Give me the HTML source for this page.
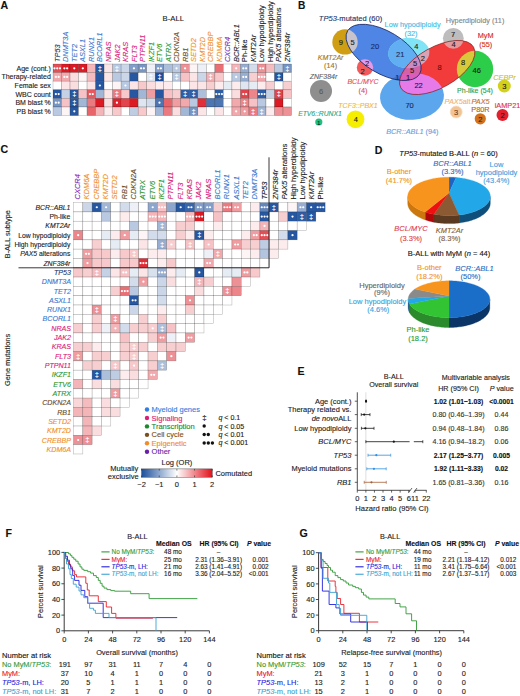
<!DOCTYPE html>
<html><head><meta charset="utf-8"><style>
html,body{margin:0;padding:0;background:#fff;}
svg{display:block;font-family:"Liberation Sans", sans-serif;}
</style></head><body>
<svg width="520" height="696" viewBox="0 0 520 696">
<rect x="0" y="0" width="520" height="696" fill="#fff"/>
<text x="0.60" y="8.60" font-size="10.6" fill="#111" text-anchor="start" font-weight="bold" stroke="#111" stroke-width="0.12">A</text>
<text x="173.30" y="21.30" font-size="7.7" fill="#222" text-anchor="middle" stroke="#222" stroke-width="0.12">B-ALL</text>
<rect x="53.00" y="64.00" width="8.52" height="8.60" fill="#e44f56" stroke="#000" stroke-opacity="0.32" stroke-width="0.5"/>
<circle cx="54.46" cy="68.30" r="1.12" fill="#fff"/>
<circle cx="57.26" cy="68.30" r="1.12" fill="#fff"/>
<circle cx="60.06" cy="68.30" r="1.12" fill="#fff"/>
<rect x="61.52" y="64.00" width="8.52" height="8.60" fill="#dc1a24" stroke="#000" stroke-opacity="0.32" stroke-width="0.5"/>
<circle cx="64.38" cy="68.30" r="1.12" fill="#fff"/>
<circle cx="67.18" cy="68.30" r="1.12" fill="#fff"/>
<rect x="70.04" y="64.00" width="8.52" height="8.60" fill="#dc1a24" stroke="#000" stroke-opacity="0.32" stroke-width="0.5"/>
<circle cx="74.30" cy="68.30" r="1.12" fill="#fff"/>
<rect x="78.56" y="64.00" width="8.52" height="8.60" fill="#dc1a24" stroke="#000" stroke-opacity="0.32" stroke-width="0.5"/>
<circle cx="82.82" cy="68.30" r="1.12" fill="#fff"/>
<rect x="87.08" y="64.00" width="8.52" height="8.60" fill="#f4b5b9" stroke="#000" stroke-opacity="0.32" stroke-width="0.5"/>
<rect x="95.60" y="64.00" width="8.52" height="8.60" fill="#2657a0" stroke="#000" stroke-opacity="0.32" stroke-width="0.5"/>
<text x="99.86" y="70.60" font-size="7.6" fill="#fff" text-anchor="middle" font-weight="bold">&#8225;</text>
<rect x="104.12" y="64.00" width="8.52" height="8.60" fill="#fbe5e6" stroke="#000" stroke-opacity="0.32" stroke-width="0.5"/>
<rect x="112.64" y="64.00" width="8.52" height="8.60" fill="#b9c9e1" stroke="#000" stroke-opacity="0.32" stroke-width="0.5"/>
<text x="116.90" y="70.60" font-size="7.6" fill="#fff" text-anchor="middle" font-weight="bold">&#8225;</text>
<rect x="121.16" y="64.00" width="8.52" height="8.60" fill="#cbd7e8" stroke="#000" stroke-opacity="0.32" stroke-width="0.5"/>
<rect x="129.68" y="64.00" width="8.52" height="8.60" fill="#819dc8" stroke="#000" stroke-opacity="0.32" stroke-width="0.5"/>
<circle cx="133.94" cy="68.30" r="1.12" fill="#fff"/>
<rect x="138.20" y="64.00" width="8.52" height="8.60" fill="#7695c3" stroke="#000" stroke-opacity="0.32" stroke-width="0.5"/>
<circle cx="141.06" cy="68.30" r="1.12" fill="#fff"/>
<circle cx="143.86" cy="68.30" r="1.12" fill="#fff"/>
<rect x="146.72" y="64.00" width="8.52" height="8.60" fill="#edf1f7" stroke="#000" stroke-opacity="0.32" stroke-width="0.5"/>
<rect x="155.24" y="64.00" width="8.52" height="8.60" fill="#819dc8" stroke="#000" stroke-opacity="0.32" stroke-width="0.5"/>
<circle cx="158.10" cy="68.30" r="1.12" fill="#fff"/>
<circle cx="160.90" cy="68.30" r="1.12" fill="#fff"/>
<rect x="163.76" y="64.00" width="8.52" height="8.60" fill="#adc0db" stroke="#000" stroke-opacity="0.32" stroke-width="0.5"/>
<rect x="172.28" y="64.00" width="8.52" height="8.60" fill="#b9c9e1" stroke="#000" stroke-opacity="0.32" stroke-width="0.5"/>
<circle cx="176.54" cy="68.30" r="1.12" fill="#fff"/>
<rect x="180.80" y="64.00" width="8.52" height="8.60" fill="#ee9196" stroke="#000" stroke-opacity="0.32" stroke-width="0.5"/>
<circle cx="185.06" cy="68.30" r="1.12" fill="#fff"/>
<rect x="189.32" y="64.00" width="8.52" height="8.60" fill="#fdf5f5" stroke="#000" stroke-opacity="0.32" stroke-width="0.5"/>
<rect x="197.84" y="64.00" width="8.52" height="8.60" fill="#edf1f7" stroke="#000" stroke-opacity="0.32" stroke-width="0.5"/>
<rect x="206.36" y="64.00" width="8.52" height="8.60" fill="#ffffff" stroke="#000" stroke-opacity="0.32" stroke-width="0.5"/>
<rect x="214.88" y="64.00" width="8.52" height="8.60" fill="#e96f75" stroke="#000" stroke-opacity="0.32" stroke-width="0.5"/>
<rect x="223.40" y="64.00" width="8.52" height="8.60" fill="#ffffff" stroke="#000" stroke-opacity="0.32" stroke-width="0.5"/>
<rect x="231.92" y="64.00" width="8.52" height="8.60" fill="#f4b5b9" stroke="#000" stroke-opacity="0.32" stroke-width="0.5"/>
<circle cx="236.18" cy="68.30" r="1.12" fill="#fff"/>
<rect x="240.44" y="64.00" width="8.52" height="8.60" fill="#97aed2" stroke="#000" stroke-opacity="0.32" stroke-width="0.5"/>
<circle cx="243.30" cy="68.30" r="1.12" fill="#fff"/>
<circle cx="246.10" cy="68.30" r="1.12" fill="#fff"/>
<rect x="248.96" y="64.00" width="8.52" height="8.60" fill="#d2dceb" stroke="#000" stroke-opacity="0.32" stroke-width="0.5"/>
<rect x="257.48" y="64.00" width="8.52" height="8.60" fill="#ee9196" stroke="#000" stroke-opacity="0.32" stroke-width="0.5"/>
<circle cx="260.34" cy="68.30" r="1.12" fill="#fff"/>
<circle cx="263.14" cy="68.30" r="1.12" fill="#fff"/>
<rect x="266.00" y="64.00" width="8.52" height="8.60" fill="#f5bcbf" stroke="#000" stroke-opacity="0.32" stroke-width="0.5"/>
<rect x="274.52" y="64.00" width="8.52" height="8.60" fill="#b9c9e1" stroke="#000" stroke-opacity="0.32" stroke-width="0.5"/>
<rect x="283.04" y="64.00" width="8.52" height="8.60" fill="#7695c3" stroke="#000" stroke-opacity="0.32" stroke-width="0.5"/>
<text x="287.30" y="70.60" font-size="7.6" fill="#fff" text-anchor="middle" font-weight="bold">&#8225;</text>
<text x="50.80" y="70.80" font-size="7.0" fill="#222" text-anchor="end" stroke="#222" stroke-width="0.12">Age (cont.)</text>
<rect x="53.00" y="72.60" width="8.52" height="8.60" fill="#f2a9ad" stroke="#000" stroke-opacity="0.32" stroke-width="0.5"/>
<circle cx="55.86" cy="76.90" r="1.12" fill="#fff"/>
<circle cx="58.66" cy="76.90" r="1.12" fill="#fff"/>
<rect x="61.52" y="72.60" width="8.52" height="8.60" fill="#f2a9ad" stroke="#000" stroke-opacity="0.32" stroke-width="0.5"/>
<circle cx="64.38" cy="76.90" r="1.12" fill="#fff"/>
<circle cx="67.18" cy="76.90" r="1.12" fill="#fff"/>
<rect x="70.04" y="72.60" width="8.52" height="8.60" fill="#fadddf" stroke="#000" stroke-opacity="0.32" stroke-width="0.5"/>
<rect x="78.56" y="72.60" width="8.52" height="8.60" fill="#fdf5f5" stroke="#000" stroke-opacity="0.32" stroke-width="0.5"/>
<rect x="87.08" y="72.60" width="8.52" height="8.60" fill="#f5bcbf" stroke="#000" stroke-opacity="0.32" stroke-width="0.5"/>
<rect x="95.60" y="72.60" width="8.52" height="8.60" fill="#2657a0" stroke="#000" stroke-opacity="0.32" stroke-width="0.5"/>
<rect x="104.12" y="72.60" width="8.52" height="8.60" fill="#fbe5e6" stroke="#000" stroke-opacity="0.32" stroke-width="0.5"/>
<rect x="112.64" y="72.60" width="8.52" height="8.60" fill="#b9c9e1" stroke="#000" stroke-opacity="0.32" stroke-width="0.5"/>
<rect x="121.16" y="72.60" width="8.52" height="8.60" fill="#cbd7e8" stroke="#000" stroke-opacity="0.32" stroke-width="0.5"/>
<rect x="129.68" y="72.60" width="8.52" height="8.60" fill="#2657a0" stroke="#000" stroke-opacity="0.32" stroke-width="0.5"/>
<rect x="138.20" y="72.60" width="8.52" height="8.60" fill="#ffffff" stroke="#000" stroke-opacity="0.32" stroke-width="0.5"/>
<rect x="146.72" y="72.60" width="8.52" height="8.60" fill="#dfe6f1" stroke="#000" stroke-opacity="0.32" stroke-width="0.5"/>
<text x="150.98" y="79.20" font-size="7.6" fill="#fff" text-anchor="middle" font-weight="bold">&#8225;</text>
<rect x="155.24" y="72.60" width="8.52" height="8.60" fill="#1c4f9c" stroke="#000" stroke-opacity="0.32" stroke-width="0.5"/>
<text x="159.50" y="79.20" font-size="7.6" fill="#fff" text-anchor="middle" font-weight="bold">&#8225;</text>
<rect x="163.76" y="72.60" width="8.52" height="8.60" fill="#ffffff" stroke="#000" stroke-opacity="0.32" stroke-width="0.5"/>
<rect x="172.28" y="72.60" width="8.52" height="8.60" fill="#b9c9e1" stroke="#000" stroke-opacity="0.32" stroke-width="0.5"/>
<text x="176.54" y="79.20" font-size="7.6" fill="#fff" text-anchor="middle" font-weight="bold">&#8225;</text>
<rect x="180.80" y="72.60" width="8.52" height="8.60" fill="#f6c2c5" stroke="#000" stroke-opacity="0.32" stroke-width="0.5"/>
<rect x="189.32" y="72.60" width="8.52" height="8.60" fill="#fbe5e6" stroke="#000" stroke-opacity="0.32" stroke-width="0.5"/>
<rect x="197.84" y="72.60" width="8.52" height="8.60" fill="#cbd7e8" stroke="#000" stroke-opacity="0.32" stroke-width="0.5"/>
<rect x="206.36" y="72.60" width="8.52" height="8.60" fill="#f3afb3" stroke="#000" stroke-opacity="0.32" stroke-width="0.5"/>
<text x="210.62" y="79.20" font-size="7.6" fill="#fff" text-anchor="middle" font-weight="bold">&#8225;</text>
<rect x="214.88" y="72.60" width="8.52" height="8.60" fill="#f7c9cb" stroke="#000" stroke-opacity="0.32" stroke-width="0.5"/>
<rect x="223.40" y="72.60" width="8.52" height="8.60" fill="#ffffff" stroke="#000" stroke-opacity="0.32" stroke-width="0.5"/>
<rect x="231.92" y="72.60" width="8.52" height="8.60" fill="#b9c9e1" stroke="#000" stroke-opacity="0.32" stroke-width="0.5"/>
<circle cx="236.18" cy="76.90" r="1.12" fill="#fff"/>
<rect x="240.44" y="72.60" width="8.52" height="8.60" fill="#97aed2" stroke="#000" stroke-opacity="0.32" stroke-width="0.5"/>
<circle cx="243.30" cy="76.90" r="1.12" fill="#fff"/>
<circle cx="246.10" cy="76.90" r="1.12" fill="#fff"/>
<rect x="248.96" y="72.60" width="8.52" height="8.60" fill="#f8cfd1" stroke="#000" stroke-opacity="0.32" stroke-width="0.5"/>
<rect x="257.48" y="72.60" width="8.52" height="8.60" fill="#f2a9ad" stroke="#000" stroke-opacity="0.32" stroke-width="0.5"/>
<circle cx="258.94" cy="76.90" r="1.12" fill="#fff"/>
<circle cx="261.74" cy="76.90" r="1.12" fill="#fff"/>
<circle cx="264.54" cy="76.90" r="1.12" fill="#fff"/>
<rect x="266.00" y="72.60" width="8.52" height="8.60" fill="#ffffff" stroke="#000" stroke-opacity="0.32" stroke-width="0.5"/>
<rect x="274.52" y="72.60" width="8.52" height="8.60" fill="#2657a0" stroke="#000" stroke-opacity="0.32" stroke-width="0.5"/>
<text x="278.78" y="79.20" font-size="7.6" fill="#fff" text-anchor="middle" font-weight="bold">&#8225;</text>
<rect x="283.04" y="72.60" width="8.52" height="8.60" fill="#ffffff" stroke="#000" stroke-opacity="0.32" stroke-width="0.5"/>
<text x="50.80" y="79.40" font-size="7.0" fill="#222" text-anchor="end" stroke="#222" stroke-width="0.12">Therapy-related</text>
<rect x="53.00" y="81.20" width="8.52" height="8.60" fill="#ffffff" stroke="#000" stroke-opacity="0.32" stroke-width="0.5"/>
<rect x="61.52" y="81.20" width="8.52" height="8.60" fill="#fbe5e6" stroke="#000" stroke-opacity="0.32" stroke-width="0.5"/>
<rect x="70.04" y="81.20" width="8.52" height="8.60" fill="#fadddf" stroke="#000" stroke-opacity="0.32" stroke-width="0.5"/>
<rect x="78.56" y="81.20" width="8.52" height="8.60" fill="#ffffff" stroke="#000" stroke-opacity="0.32" stroke-width="0.5"/>
<rect x="87.08" y="81.20" width="8.52" height="8.60" fill="#fbe5e6" stroke="#000" stroke-opacity="0.32" stroke-width="0.5"/>
<rect x="95.60" y="81.20" width="8.52" height="8.60" fill="#2657a0" stroke="#000" stroke-opacity="0.32" stroke-width="0.5"/>
<circle cx="99.86" cy="85.50" r="1.12" fill="#fff"/>
<rect x="104.12" y="81.20" width="8.52" height="8.60" fill="#ffffff" stroke="#000" stroke-opacity="0.32" stroke-width="0.5"/>
<rect x="112.64" y="81.20" width="8.52" height="8.60" fill="#fdf5f5" stroke="#000" stroke-opacity="0.32" stroke-width="0.5"/>
<rect x="121.16" y="81.20" width="8.52" height="8.60" fill="#b9c9e1" stroke="#000" stroke-opacity="0.32" stroke-width="0.5"/>
<circle cx="125.42" cy="85.50" r="1.12" fill="#fff"/>
<rect x="129.68" y="81.20" width="8.52" height="8.60" fill="#fbe5e6" stroke="#000" stroke-opacity="0.32" stroke-width="0.5"/>
<rect x="138.20" y="81.20" width="8.52" height="8.60" fill="#f7c9cb" stroke="#000" stroke-opacity="0.32" stroke-width="0.5"/>
<rect x="146.72" y="81.20" width="8.52" height="8.60" fill="#fadddf" stroke="#000" stroke-opacity="0.32" stroke-width="0.5"/>
<rect x="155.24" y="81.20" width="8.52" height="8.60" fill="#fceced" stroke="#000" stroke-opacity="0.32" stroke-width="0.5"/>
<rect x="163.76" y="81.20" width="8.52" height="8.60" fill="#fceced" stroke="#000" stroke-opacity="0.32" stroke-width="0.5"/>
<rect x="172.28" y="81.20" width="8.52" height="8.60" fill="#ffffff" stroke="#000" stroke-opacity="0.32" stroke-width="0.5"/>
<rect x="180.80" y="81.20" width="8.52" height="8.60" fill="#ffffff" stroke="#000" stroke-opacity="0.32" stroke-width="0.5"/>
<rect x="189.32" y="81.20" width="8.52" height="8.60" fill="#fbe5e6" stroke="#000" stroke-opacity="0.32" stroke-width="0.5"/>
<rect x="197.84" y="81.20" width="8.52" height="8.60" fill="#fbe5e6" stroke="#000" stroke-opacity="0.32" stroke-width="0.5"/>
<rect x="206.36" y="81.20" width="8.52" height="8.60" fill="#f8cfd1" stroke="#000" stroke-opacity="0.32" stroke-width="0.5"/>
<rect x="214.88" y="81.20" width="8.52" height="8.60" fill="#fceced" stroke="#000" stroke-opacity="0.32" stroke-width="0.5"/>
<rect x="223.40" y="81.20" width="8.52" height="8.60" fill="#e6ecf4" stroke="#000" stroke-opacity="0.32" stroke-width="0.5"/>
<rect x="231.92" y="81.20" width="8.52" height="8.60" fill="#fceced" stroke="#000" stroke-opacity="0.32" stroke-width="0.5"/>
<rect x="240.44" y="81.20" width="8.52" height="8.60" fill="#dfe6f1" stroke="#000" stroke-opacity="0.32" stroke-width="0.5"/>
<rect x="248.96" y="81.20" width="8.52" height="8.60" fill="#e6ecf4" stroke="#000" stroke-opacity="0.32" stroke-width="0.5"/>
<rect x="257.48" y="81.20" width="8.52" height="8.60" fill="#fceced" stroke="#000" stroke-opacity="0.32" stroke-width="0.5"/>
<rect x="266.00" y="81.20" width="8.52" height="8.60" fill="#f8cfd1" stroke="#000" stroke-opacity="0.32" stroke-width="0.5"/>
<rect x="274.52" y="81.20" width="8.52" height="8.60" fill="#ffffff" stroke="#000" stroke-opacity="0.32" stroke-width="0.5"/>
<rect x="283.04" y="81.20" width="8.52" height="8.60" fill="#f8cfd1" stroke="#000" stroke-opacity="0.32" stroke-width="0.5"/>
<text x="50.80" y="88.00" font-size="7.0" fill="#222" text-anchor="end" stroke="#222" stroke-width="0.12">Female sex</text>
<rect x="53.00" y="89.80" width="8.52" height="8.60" fill="#2657a0" stroke="#000" stroke-opacity="0.32" stroke-width="0.5"/>
<circle cx="55.86" cy="94.10" r="1.12" fill="#fff"/>
<circle cx="58.66" cy="94.10" r="1.12" fill="#fff"/>
<rect x="61.52" y="89.80" width="8.52" height="8.60" fill="#c5d2e6" stroke="#000" stroke-opacity="0.32" stroke-width="0.5"/>
<rect x="70.04" y="89.80" width="8.52" height="8.60" fill="#2657a0" stroke="#000" stroke-opacity="0.32" stroke-width="0.5"/>
<text x="74.30" y="96.40" font-size="7.6" fill="#fff" text-anchor="middle" font-weight="bold">&#8225;</text>
<rect x="78.56" y="89.80" width="8.52" height="8.60" fill="#f6c2c5" stroke="#000" stroke-opacity="0.32" stroke-width="0.5"/>
<rect x="87.08" y="89.80" width="8.52" height="8.60" fill="#e55960" stroke="#000" stroke-opacity="0.32" stroke-width="0.5"/>
<circle cx="89.94" cy="94.10" r="1.12" fill="#fff"/>
<circle cx="92.74" cy="94.10" r="1.12" fill="#fff"/>
<rect x="95.60" y="89.80" width="8.52" height="8.60" fill="#a2b7d6" stroke="#000" stroke-opacity="0.32" stroke-width="0.5"/>
<rect x="104.12" y="89.80" width="8.52" height="8.60" fill="#fbe5e6" stroke="#000" stroke-opacity="0.32" stroke-width="0.5"/>
<rect x="112.64" y="89.80" width="8.52" height="8.60" fill="#ea7a80" stroke="#000" stroke-opacity="0.32" stroke-width="0.5"/>
<text x="116.90" y="96.40" font-size="7.6" fill="#fff" text-anchor="middle" font-weight="bold">&#8225;</text>
<rect x="121.16" y="89.80" width="8.52" height="8.60" fill="#f7c9cb" stroke="#000" stroke-opacity="0.32" stroke-width="0.5"/>
<rect x="129.68" y="89.80" width="8.52" height="8.60" fill="#2657a0" stroke="#000" stroke-opacity="0.32" stroke-width="0.5"/>
<rect x="138.20" y="89.80" width="8.52" height="8.60" fill="#a2b7d6" stroke="#000" stroke-opacity="0.32" stroke-width="0.5"/>
<rect x="146.72" y="89.80" width="8.52" height="8.60" fill="#f09da1" stroke="#000" stroke-opacity="0.32" stroke-width="0.5"/>
<rect x="155.24" y="89.80" width="8.52" height="8.60" fill="#2657a0" stroke="#000" stroke-opacity="0.32" stroke-width="0.5"/>
<rect x="163.76" y="89.80" width="8.52" height="8.60" fill="#f6c2c5" stroke="#000" stroke-opacity="0.32" stroke-width="0.5"/>
<rect x="172.28" y="89.80" width="8.52" height="8.60" fill="#f8cfd1" stroke="#000" stroke-opacity="0.32" stroke-width="0.5"/>
<rect x="180.80" y="89.80" width="8.52" height="8.60" fill="#2f5ea4" stroke="#000" stroke-opacity="0.32" stroke-width="0.5"/>
<text x="185.06" y="96.40" font-size="7.6" fill="#fff" text-anchor="middle" font-weight="bold">&#8225;</text>
<rect x="189.32" y="89.80" width="8.52" height="8.60" fill="#2f5ea4" stroke="#000" stroke-opacity="0.32" stroke-width="0.5"/>
<text x="193.58" y="96.40" font-size="7.6" fill="#fff" text-anchor="middle" font-weight="bold">&#8225;</text>
<rect x="197.84" y="89.80" width="8.52" height="8.60" fill="#adc0db" stroke="#000" stroke-opacity="0.32" stroke-width="0.5"/>
<rect x="206.36" y="89.80" width="8.52" height="8.60" fill="#ffffff" stroke="#000" stroke-opacity="0.32" stroke-width="0.5"/>
<rect x="214.88" y="89.80" width="8.52" height="8.60" fill="#2f5ea4" stroke="#000" stroke-opacity="0.32" stroke-width="0.5"/>
<circle cx="216.34" cy="94.10" r="1.12" fill="#fff"/>
<circle cx="219.14" cy="94.10" r="1.12" fill="#fff"/>
<circle cx="221.94" cy="94.10" r="1.12" fill="#fff"/>
<rect x="223.40" y="89.80" width="8.52" height="8.60" fill="#ffffff" stroke="#000" stroke-opacity="0.32" stroke-width="0.5"/>
<rect x="231.92" y="89.80" width="8.52" height="8.60" fill="#fadddf" stroke="#000" stroke-opacity="0.32" stroke-width="0.5"/>
<rect x="240.44" y="89.80" width="8.52" height="8.60" fill="#e2444c" stroke="#000" stroke-opacity="0.32" stroke-width="0.5"/>
<circle cx="243.30" cy="94.10" r="1.12" fill="#fff"/>
<circle cx="246.10" cy="94.10" r="1.12" fill="#fff"/>
<rect x="248.96" y="89.80" width="8.52" height="8.60" fill="#ec868b" stroke="#000" stroke-opacity="0.32" stroke-width="0.5"/>
<rect x="257.48" y="89.80" width="8.52" height="8.60" fill="#2f5ea4" stroke="#000" stroke-opacity="0.32" stroke-width="0.5"/>
<circle cx="258.94" cy="94.10" r="1.12" fill="#fff"/>
<circle cx="261.74" cy="94.10" r="1.12" fill="#fff"/>
<circle cx="264.54" cy="94.10" r="1.12" fill="#fff"/>
<rect x="266.00" y="89.80" width="8.52" height="8.60" fill="#c5d2e6" stroke="#000" stroke-opacity="0.32" stroke-width="0.5"/>
<rect x="274.52" y="89.80" width="8.52" height="8.60" fill="#e2444c" stroke="#000" stroke-opacity="0.32" stroke-width="0.5"/>
<text x="278.78" y="96.40" font-size="7.6" fill="#fff" text-anchor="middle" font-weight="bold">&#8225;</text>
<rect x="283.04" y="89.80" width="8.52" height="8.60" fill="#f6c2c5" stroke="#000" stroke-opacity="0.32" stroke-width="0.5"/>
<text x="50.80" y="96.60" font-size="7.0" fill="#222" text-anchor="end" stroke="#222" stroke-width="0.12">WBC count</text>
<rect x="53.00" y="98.40" width="8.52" height="8.60" fill="#7695c3" stroke="#000" stroke-opacity="0.32" stroke-width="0.5"/>
<circle cx="55.86" cy="102.70" r="1.12" fill="#fff"/>
<circle cx="58.66" cy="102.70" r="1.12" fill="#fff"/>
<rect x="61.52" y="98.40" width="8.52" height="8.60" fill="#f6c2c5" stroke="#000" stroke-opacity="0.32" stroke-width="0.5"/>
<rect x="70.04" y="98.40" width="8.52" height="8.60" fill="#2657a0" stroke="#000" stroke-opacity="0.32" stroke-width="0.5"/>
<text x="74.30" y="105.00" font-size="7.6" fill="#fff" text-anchor="middle" font-weight="bold">&#8225;</text>
<rect x="78.56" y="98.40" width="8.52" height="8.60" fill="#a2b7d6" stroke="#000" stroke-opacity="0.32" stroke-width="0.5"/>
<rect x="87.08" y="98.40" width="8.52" height="8.60" fill="#ea7a80" stroke="#000" stroke-opacity="0.32" stroke-width="0.5"/>
<rect x="95.60" y="98.40" width="8.52" height="8.60" fill="#dc1a24" stroke="#000" stroke-opacity="0.32" stroke-width="0.5"/>
<rect x="104.12" y="98.40" width="8.52" height="8.60" fill="#fadddf" stroke="#000" stroke-opacity="0.32" stroke-width="0.5"/>
<rect x="112.64" y="98.40" width="8.52" height="8.60" fill="#dd242e" stroke="#000" stroke-opacity="0.32" stroke-width="0.5"/>
<circle cx="116.90" cy="102.70" r="1.12" fill="#fff"/>
<rect x="121.16" y="98.40" width="8.52" height="8.60" fill="#e2444c" stroke="#000" stroke-opacity="0.32" stroke-width="0.5"/>
<rect x="129.68" y="98.40" width="8.52" height="8.60" fill="#dc1a24" stroke="#000" stroke-opacity="0.32" stroke-width="0.5"/>
<rect x="138.20" y="98.40" width="8.52" height="8.60" fill="#dfe6f1" stroke="#000" stroke-opacity="0.32" stroke-width="0.5"/>
<rect x="146.72" y="98.40" width="8.52" height="8.60" fill="#d2dceb" stroke="#000" stroke-opacity="0.32" stroke-width="0.5"/>
<rect x="155.24" y="98.40" width="8.52" height="8.60" fill="#4d75b1" stroke="#000" stroke-opacity="0.32" stroke-width="0.5"/>
<circle cx="159.50" cy="102.70" r="1.12" fill="#fff"/>
<rect x="163.76" y="98.40" width="8.52" height="8.60" fill="#e7646b" stroke="#000" stroke-opacity="0.32" stroke-width="0.5"/>
<rect x="172.28" y="98.40" width="8.52" height="8.60" fill="#f09da1" stroke="#000" stroke-opacity="0.32" stroke-width="0.5"/>
<rect x="180.80" y="98.40" width="8.52" height="8.60" fill="#f2a9ad" stroke="#000" stroke-opacity="0.32" stroke-width="0.5"/>
<rect x="189.32" y="98.40" width="8.52" height="8.60" fill="#b9c9e1" stroke="#000" stroke-opacity="0.32" stroke-width="0.5"/>
<rect x="197.84" y="98.40" width="8.52" height="8.60" fill="#df2f38" stroke="#000" stroke-opacity="0.32" stroke-width="0.5"/>
<rect x="206.36" y="98.40" width="8.52" height="8.60" fill="#4d75b1" stroke="#000" stroke-opacity="0.32" stroke-width="0.5"/>
<rect x="214.88" y="98.40" width="8.52" height="8.60" fill="#4d75b1" stroke="#000" stroke-opacity="0.32" stroke-width="0.5"/>
<rect x="223.40" y="98.40" width="8.52" height="8.60" fill="#ffffff" stroke="#000" stroke-opacity="0.32" stroke-width="0.5"/>
<rect x="231.92" y="98.40" width="8.52" height="8.60" fill="#f2a9ad" stroke="#000" stroke-opacity="0.32" stroke-width="0.5"/>
<rect x="240.44" y="98.40" width="8.52" height="8.60" fill="#ec868b" stroke="#000" stroke-opacity="0.32" stroke-width="0.5"/>
<text x="244.70" y="105.00" font-size="7.6" fill="#fff" text-anchor="middle" font-weight="bold">&#8225;</text>
<rect x="248.96" y="98.40" width="8.52" height="8.60" fill="#f6c2c5" stroke="#000" stroke-opacity="0.32" stroke-width="0.5"/>
<rect x="257.48" y="98.40" width="8.52" height="8.60" fill="#b9c9e1" stroke="#000" stroke-opacity="0.32" stroke-width="0.5"/>
<rect x="266.00" y="98.40" width="8.52" height="8.60" fill="#ffffff" stroke="#000" stroke-opacity="0.32" stroke-width="0.5"/>
<rect x="274.52" y="98.40" width="8.52" height="8.60" fill="#dc1a24" stroke="#000" stroke-opacity="0.32" stroke-width="0.5"/>
<rect x="283.04" y="98.40" width="8.52" height="8.60" fill="#ffffff" stroke="#000" stroke-opacity="0.32" stroke-width="0.5"/>
<text x="50.80" y="105.20" font-size="7.0" fill="#222" text-anchor="end" stroke="#222" stroke-width="0.12">BM blast %</text>
<rect x="53.00" y="107.00" width="8.52" height="8.60" fill="#b9c9e1" stroke="#000" stroke-opacity="0.32" stroke-width="0.5"/>
<rect x="61.52" y="107.00" width="8.52" height="8.60" fill="#fdf5f5" stroke="#000" stroke-opacity="0.32" stroke-width="0.5"/>
<rect x="70.04" y="107.00" width="8.52" height="8.60" fill="#2657a0" stroke="#000" stroke-opacity="0.32" stroke-width="0.5"/>
<circle cx="74.30" cy="111.30" r="1.12" fill="#fff"/>
<rect x="78.56" y="107.00" width="8.52" height="8.60" fill="#ffffff" stroke="#000" stroke-opacity="0.32" stroke-width="0.5"/>
<rect x="87.08" y="107.00" width="8.52" height="8.60" fill="#e7646b" stroke="#000" stroke-opacity="0.32" stroke-width="0.5"/>
<rect x="95.60" y="107.00" width="8.52" height="8.60" fill="#f4b5b9" stroke="#000" stroke-opacity="0.32" stroke-width="0.5"/>
<rect x="104.12" y="107.00" width="8.52" height="8.60" fill="#fceced" stroke="#000" stroke-opacity="0.32" stroke-width="0.5"/>
<rect x="112.64" y="107.00" width="8.52" height="8.60" fill="#f7c9cb" stroke="#000" stroke-opacity="0.32" stroke-width="0.5"/>
<rect x="121.16" y="107.00" width="8.52" height="8.60" fill="#ffffff" stroke="#000" stroke-opacity="0.32" stroke-width="0.5"/>
<rect x="129.68" y="107.00" width="8.52" height="8.60" fill="#bfcde3" stroke="#000" stroke-opacity="0.32" stroke-width="0.5"/>
<rect x="138.20" y="107.00" width="8.52" height="8.60" fill="#f7c9cb" stroke="#000" stroke-opacity="0.32" stroke-width="0.5"/>
<rect x="146.72" y="107.00" width="8.52" height="8.60" fill="#fdf5f5" stroke="#000" stroke-opacity="0.32" stroke-width="0.5"/>
<rect x="155.24" y="107.00" width="8.52" height="8.60" fill="#a2b7d6" stroke="#000" stroke-opacity="0.32" stroke-width="0.5"/>
<rect x="163.76" y="107.00" width="8.52" height="8.60" fill="#ea7a80" stroke="#000" stroke-opacity="0.32" stroke-width="0.5"/>
<rect x="172.28" y="107.00" width="8.52" height="8.60" fill="#fadddf" stroke="#000" stroke-opacity="0.32" stroke-width="0.5"/>
<rect x="180.80" y="107.00" width="8.52" height="8.60" fill="#a2b7d6" stroke="#000" stroke-opacity="0.32" stroke-width="0.5"/>
<rect x="189.32" y="107.00" width="8.52" height="8.60" fill="#7695c3" stroke="#000" stroke-opacity="0.32" stroke-width="0.5"/>
<text x="193.58" y="113.60" font-size="7.6" fill="#fff" text-anchor="middle" font-weight="bold">&#8225;</text>
<rect x="197.84" y="107.00" width="8.52" height="8.60" fill="#fbe5e6" stroke="#000" stroke-opacity="0.32" stroke-width="0.5"/>
<rect x="206.36" y="107.00" width="8.52" height="8.60" fill="#ffffff" stroke="#000" stroke-opacity="0.32" stroke-width="0.5"/>
<rect x="214.88" y="107.00" width="8.52" height="8.60" fill="#fbe5e6" stroke="#000" stroke-opacity="0.32" stroke-width="0.5"/>
<rect x="223.40" y="107.00" width="8.52" height="8.60" fill="#ffffff" stroke="#000" stroke-opacity="0.32" stroke-width="0.5"/>
<rect x="231.92" y="107.00" width="8.52" height="8.60" fill="#f2a9ad" stroke="#000" stroke-opacity="0.32" stroke-width="0.5"/>
<circle cx="236.18" cy="111.30" r="1.12" fill="#fff"/>
<rect x="240.44" y="107.00" width="8.52" height="8.60" fill="#f09da1" stroke="#000" stroke-opacity="0.32" stroke-width="0.5"/>
<circle cx="244.70" cy="111.30" r="1.12" fill="#fff"/>
<rect x="248.96" y="107.00" width="8.52" height="8.60" fill="#ea7a80" stroke="#000" stroke-opacity="0.32" stroke-width="0.5"/>
<text x="253.22" y="113.60" font-size="7.6" fill="#fff" text-anchor="middle" font-weight="bold">&#8225;</text>
<rect x="257.48" y="107.00" width="8.52" height="8.60" fill="#a2b7d6" stroke="#000" stroke-opacity="0.32" stroke-width="0.5"/>
<text x="261.74" y="113.60" font-size="7.6" fill="#fff" text-anchor="middle" font-weight="bold">&#8225;</text>
<rect x="266.00" y="107.00" width="8.52" height="8.60" fill="#fceced" stroke="#000" stroke-opacity="0.32" stroke-width="0.5"/>
<rect x="274.52" y="107.00" width="8.52" height="8.60" fill="#ee9196" stroke="#000" stroke-opacity="0.32" stroke-width="0.5"/>
<rect x="283.04" y="107.00" width="8.52" height="8.60" fill="#ee9196" stroke="#000" stroke-opacity="0.32" stroke-width="0.5"/>
<text x="50.80" y="113.80" font-size="7.0" fill="#222" text-anchor="end" stroke="#222" stroke-width="0.12">PB blast %</text>
<text x="59.86" y="62.00" font-size="7.4" fill="#25356a" text-anchor="start" font-style="italic" transform="rotate(-90 59.86 62.00)" stroke="#25356a" stroke-width="0.12">TP53</text>
<text x="68.38" y="62.00" font-size="7.4" fill="#3a78d0" text-anchor="start" font-style="italic" transform="rotate(-90 68.38 62.00)" stroke="#3a78d0" stroke-width="0.12">DNMT3A</text>
<text x="76.90" y="62.00" font-size="7.4" fill="#3a78d0" text-anchor="start" font-style="italic" transform="rotate(-90 76.90 62.00)" stroke="#3a78d0" stroke-width="0.12">TET2</text>
<text x="85.42" y="62.00" font-size="7.4" fill="#3a78d0" text-anchor="start" font-style="italic" transform="rotate(-90 85.42 62.00)" stroke="#3a78d0" stroke-width="0.12">ASXL1</text>
<text x="93.94" y="62.00" font-size="7.4" fill="#3a78d0" text-anchor="start" font-style="italic" transform="rotate(-90 93.94 62.00)" stroke="#3a78d0" stroke-width="0.12">RUNX1</text>
<text x="102.46" y="62.00" font-size="7.4" fill="#3a78d0" text-anchor="start" font-style="italic" transform="rotate(-90 102.46 62.00)" stroke="#3a78d0" stroke-width="0.12">BCORL1</text>
<text x="110.98" y="62.00" font-size="7.4" fill="#d8207a" text-anchor="start" font-style="italic" transform="rotate(-90 110.98 62.00)" stroke="#d8207a" stroke-width="0.12">NRAS</text>
<text x="119.50" y="62.00" font-size="7.4" fill="#d8207a" text-anchor="start" font-style="italic" transform="rotate(-90 119.50 62.00)" stroke="#d8207a" stroke-width="0.12">JAK2</text>
<text x="128.02" y="62.00" font-size="7.4" fill="#d8207a" text-anchor="start" font-style="italic" transform="rotate(-90 128.02 62.00)" stroke="#d8207a" stroke-width="0.12">KRAS</text>
<text x="136.54" y="62.00" font-size="7.4" fill="#d8207a" text-anchor="start" font-style="italic" transform="rotate(-90 136.54 62.00)" stroke="#d8207a" stroke-width="0.12">FLT3</text>
<text x="145.06" y="62.00" font-size="7.4" fill="#d8207a" text-anchor="start" font-style="italic" transform="rotate(-90 145.06 62.00)" stroke="#d8207a" stroke-width="0.12">PTPN11</text>
<text x="153.58" y="62.00" font-size="7.4" fill="#2a962a" text-anchor="start" font-style="italic" transform="rotate(-90 153.58 62.00)" stroke="#2a962a" stroke-width="0.12">IKZF1</text>
<text x="162.10" y="62.00" font-size="7.4" fill="#2a962a" text-anchor="start" font-style="italic" transform="rotate(-90 162.10 62.00)" stroke="#2a962a" stroke-width="0.12">ETV6</text>
<text x="170.62" y="62.00" font-size="7.4" fill="#2a962a" text-anchor="start" font-style="italic" transform="rotate(-90 170.62 62.00)" stroke="#2a962a" stroke-width="0.12">ATRX</text>
<text x="179.14" y="62.00" font-size="7.4" fill="#6b4a1e" text-anchor="start" font-style="italic" transform="rotate(-90 179.14 62.00)" stroke="#6b4a1e" stroke-width="0.12">CDKN2A</text>
<text x="187.66" y="62.00" font-size="7.4" fill="#6b4a1e" text-anchor="start" font-style="italic" transform="rotate(-90 187.66 62.00)" stroke="#6b4a1e" stroke-width="0.12">RB1</text>
<text x="196.18" y="62.00" font-size="7.4" fill="#f0902a" text-anchor="start" font-style="italic" transform="rotate(-90 196.18 62.00)" stroke="#f0902a" stroke-width="0.12">SETD2</text>
<text x="204.70" y="62.00" font-size="7.4" fill="#f0902a" text-anchor="start" font-style="italic" transform="rotate(-90 204.70 62.00)" stroke="#f0902a" stroke-width="0.12">KMT2D</text>
<text x="213.22" y="62.00" font-size="7.4" fill="#f0902a" text-anchor="start" font-style="italic" transform="rotate(-90 213.22 62.00)" stroke="#f0902a" stroke-width="0.12">CREBBP</text>
<text x="221.74" y="62.00" font-size="7.4" fill="#f0902a" text-anchor="start" font-style="italic" transform="rotate(-90 221.74 62.00)" stroke="#f0902a" stroke-width="0.12">KDM6A</text>
<text x="230.26" y="62.00" font-size="7.4" fill="#7a2ab8" text-anchor="start" font-style="italic" transform="rotate(-90 230.26 62.00)" stroke="#7a2ab8" stroke-width="0.12">CXCR4</text>
<text x="238.78" y="62.00" font-size="7.4" fill="#222" text-anchor="start" font-style="italic" transform="rotate(-90 238.78 62.00)" stroke="#222" stroke-width="0.12">BCR::ABL1</text>
<text x="247.30" y="62.00" font-size="7.4" fill="#222" text-anchor="start" transform="rotate(-90 247.30 62.00)" stroke="#222" stroke-width="0.12">Ph-like</text>
<text x="255.82" y="62.00" font-size="7.4" fill="#222" text-anchor="start" font-style="italic" transform="rotate(-90 255.82 62.00)" stroke="#222" stroke-width="0.12">KMT2Ar</text>
<text x="264.34" y="62.00" font-size="7.4" fill="#222" text-anchor="start" transform="rotate(-90 264.34 62.00)" stroke="#222" stroke-width="0.12">Low hypodiploidy</text>
<text x="272.86" y="62.00" font-size="7.4" fill="#222" text-anchor="start" transform="rotate(-90 272.86 62.00)" stroke="#222" stroke-width="0.12">High hyperdiploidy</text>
<text x="281.38" y="62.00" font-size="7.4" fill="#222" text-anchor="start" transform="rotate(-90 281.38 62.00)" stroke="#222" stroke-width="0.12"><tspan font-style="italic">PAX5</tspan> alterations</text>
<text x="289.90" y="62.00" font-size="7.4" fill="#222" text-anchor="start" font-style="italic" transform="rotate(-90 289.90 62.00)" stroke="#222" stroke-width="0.12">ZNF384r</text>
<text x="298.00" y="9.20" font-size="10.2" fill="#111" text-anchor="start" font-weight="bold" stroke="#111" stroke-width="0.12">B</text>
<defs>
<clipPath id="cTP"><ellipse cx="383.6" cy="52.4" rx="42.0" ry="21.0" transform="rotate(31.0 383.6 52.4)" /></clipPath>
<clipPath id="cRED"><ellipse cx="437.2" cy="67.5" rx="41.7" ry="20.4" transform="rotate(-29.3 437.2 67.5)" /></clipPath>
<clipPath id="cCY"><ellipse cx="408.8" cy="53.0" rx="20.6" ry="15.2" transform="rotate(-4 408.8 53.0)" /></clipPath>
<clipPath id="cBCR"><ellipse cx="412.0" cy="96.5" rx="32.0" ry="23.3" transform="rotate(-3 412.0 96.5)" /></clipPath>
</defs>
<ellipse cx="412.0" cy="96.5" rx="32.0" ry="23.3" transform="rotate(-3 412.0 96.5)" fill="#5ba6ec"/>
<circle cx="345.0" cy="41.9" r="12.7" fill="#d09e12"/>
<circle cx="365.0" cy="67.5" r="8.2" fill="#f05a5a"/>
<ellipse cx="383.6" cy="52.4" rx="42.0" ry="21.0" transform="rotate(31.0 383.6 52.4)" fill="#4f86e6"/>
<g clip-path="url(#cTP)"><circle cx="345.0" cy="41.9" r="12.7" fill="#c9c3cc"/><circle cx="365.0" cy="67.5" r="8.2" fill="#e59ae6"/><ellipse cx="412.0" cy="96.5" rx="32.0" ry="23.3" transform="rotate(-3 412.0 96.5)" fill="#3f6fd0"/></g>
<ellipse cx="408.8" cy="53.0" rx="20.6" ry="15.2" transform="rotate(-4 408.8 53.0)" fill="#80e4f6"/>
<g clip-path="url(#cTP)"><ellipse cx="408.8" cy="53.0" rx="20.6" ry="15.2" transform="rotate(-4 408.8 53.0)" fill="#62aef2"/></g>
<circle cx="453.3" cy="38.3" r="10.4" fill="#bdbdbd"/>
<circle cx="475.0" cy="69.0" r="18.2" fill="#2ccd48"/>
<ellipse cx="437.2" cy="67.5" rx="41.7" ry="20.4" transform="rotate(-29.3 437.2 67.5)" fill="#f23b3b"/>
<g clip-path="url(#cRED)"><ellipse cx="412.0" cy="96.5" rx="32.0" ry="23.3" transform="rotate(-3 412.0 96.5)" fill="#e67ae9"/><circle cx="453.3" cy="38.3" r="10.4" fill="#e39a9a"/><circle cx="475.0" cy="69.0" r="18.2" fill="#d9c93a"/><ellipse cx="408.8" cy="53.0" rx="20.6" ry="15.2" transform="rotate(-4 408.8 53.0)" fill="#d9a3b3"/></g>
<g clip-path="url(#cRED)"><g clip-path="url(#cTP)"><ellipse cx="383.6" cy="52.4" rx="42.0" ry="21.0" transform="rotate(31.0 383.6 52.4)" fill="#d460a6"/><ellipse cx="408.8" cy="53.0" rx="20.6" ry="15.2" transform="rotate(-4 408.8 53.0)" fill="#c98cc4"/><ellipse cx="412.0" cy="96.5" rx="32.0" ry="23.3" transform="rotate(-3 412.0 96.5)" fill="#dc5cbc"/></g></g>
<ellipse cx="383.6" cy="52.4" rx="42.0" ry="21.0" transform="rotate(31.0 383.6 52.4)" fill="none" stroke="#1d2c66" stroke-width="0.8"/>
<ellipse cx="437.2" cy="67.5" rx="41.7" ry="20.4" transform="rotate(-29.3 437.2 67.5)" fill="none" stroke="#7a1a1a" stroke-width="0.6"/>
<circle cx="321.0" cy="91.0" r="11.0" fill="#8e8e8e"/>
<circle cx="318.8" cy="122.0" r="3.6" fill="#1fc07e"/>
<circle cx="355.5" cy="119.3" r="8.9" fill="#f6ee00"/>
<circle cx="456.2" cy="112.0" r="6.0" fill="#f2c495" stroke="#f8dcc0" stroke-width="0.8"/>
<circle cx="480.3" cy="118.8" r="5.6" fill="#d2721f"/>
<circle cx="502.5" cy="115.0" r="6.0" fill="#e2202e"/>
<circle cx="504.3" cy="86.0" r="6.5" fill="#d3d11c"/>
<text x="340.80" y="45.40" font-size="7.5" fill="#1a1a1a" text-anchor="middle" stroke="#1a1a1a" stroke-width="0.12">9</text>
<text x="352.70" y="45.40" font-size="7.5" fill="#1a1a1a" text-anchor="middle" stroke="#1a1a1a" stroke-width="0.12">5</text>
<text x="375.00" y="49.00" font-size="7.5" fill="#1a2a60" text-anchor="middle" stroke="#1a2a60" stroke-width="0.12">20</text>
<text x="400.20" y="57.30" font-size="7.5" fill="#1a2a60" text-anchor="middle" stroke="#1a2a60" stroke-width="0.12">21</text>
<text x="416.40" y="48.90" font-size="7.5" fill="#1a1a1a" text-anchor="middle" stroke="#1a1a1a" stroke-width="0.12">4</text>
<text x="367.20" y="66.30" font-size="7.5" fill="#1a1a1a" text-anchor="middle" stroke="#1a1a1a" stroke-width="0.12">2</text>
<text x="362.60" y="74.00" font-size="7.5" fill="#1a1a1a" text-anchor="middle" stroke="#1a1a1a" stroke-width="0.12">2</text>
<text x="422.80" y="60.50" font-size="7.5" fill="#1a1a1a" text-anchor="middle" stroke="#1a1a1a" stroke-width="0.12">2</text>
<text x="415.00" y="65.70" font-size="7.5" fill="#1a1a1a" text-anchor="middle" stroke="#1a1a1a" stroke-width="0.12">5</text>
<text x="412.20" y="73.20" font-size="7.5" fill="#1a1a1a" text-anchor="middle" stroke="#1a1a1a" stroke-width="0.12">5</text>
<text x="408.00" y="79.50" font-size="7.5" fill="#1a1a1a" text-anchor="middle" stroke="#1a1a1a" stroke-width="0.12">1</text>
<text x="397.40" y="79.50" font-size="7.5" fill="#1a2a60" text-anchor="middle" stroke="#1a2a60" stroke-width="0.12">1</text>
<text x="418.60" y="88.00" font-size="7.5" fill="#1a1a1a" text-anchor="middle" stroke="#1a1a1a" stroke-width="0.12">22</text>
<text x="439.70" y="69.60" font-size="7.5" fill="#6a1010" text-anchor="middle" stroke="#6a1010" stroke-width="0.12">8</text>
<text x="453.00" y="37.20" font-size="7.5" fill="#1a1a1a" text-anchor="middle" stroke="#1a1a1a" stroke-width="0.12">7</text>
<text x="453.50" y="47.20" font-size="7.5" fill="#1a1a1a" text-anchor="middle" stroke="#1a1a1a" stroke-width="0.12">4</text>
<text x="463.00" y="65.40" font-size="7.5" fill="#1a1a1a" text-anchor="middle" stroke="#1a1a1a" stroke-width="0.12">8</text>
<text x="476.70" y="72.50" font-size="7.5" fill="#1a1a1a" text-anchor="middle" stroke="#1a1a1a" stroke-width="0.12">46</text>
<text x="409.60" y="107.90" font-size="7.5" fill="#1a2a60" text-anchor="middle" stroke="#1a2a60" stroke-width="0.12">70</text>
<text x="321.00" y="93.70" font-size="7.5" fill="#5a5a5a" text-anchor="middle" stroke="#5a5a5a" stroke-width="0.12">6</text>
<text x="318.80" y="124.70" font-size="5.5" fill="#1a1a1a" text-anchor="middle" stroke="#1a1a1a" stroke-width="0.12">1</text>
<text x="355.80" y="121.70" font-size="7.5" fill="#1a1a1a" text-anchor="middle" stroke="#1a1a1a" stroke-width="0.12">4</text>
<text x="456.20" y="114.70" font-size="7.5" fill="#6a4020" text-anchor="middle" stroke="#6a4020" stroke-width="0.12">3</text>
<text x="480.30" y="121.50" font-size="7.5" fill="#3a2010" text-anchor="middle" stroke="#3a2010" stroke-width="0.12">2</text>
<text x="502.50" y="117.70" font-size="7.5" fill="#3a1010" text-anchor="middle" stroke="#3a1010" stroke-width="0.12">2</text>
<text x="504.30" y="88.70" font-size="7.5" fill="#1a1a1a" text-anchor="middle" stroke="#1a1a1a" stroke-width="0.12">3</text>
<text x="318.80" y="21.20" font-size="7.55" fill="#20356e" text-anchor="start" stroke="#20356e" stroke-width="0.12"><tspan font-style="italic">TP53</tspan>-mutated (60)</text>
<text x="412.60" y="26.80" font-size="7.3" fill="#3cbde6" text-anchor="middle" stroke="#3cbde6" stroke-width="0.12">Low hypodiploidy</text>
<text x="411.00" y="35.60" font-size="7.3" fill="#3cbde6" text-anchor="middle" stroke="#3cbde6" stroke-width="0.12">(32)</text>
<text x="475.00" y="23.00" font-size="7.3" fill="#858585" text-anchor="middle" stroke="#858585" stroke-width="0.12">Hyperdiploidy (11)</text>
<text x="485.60" y="38.40" font-size="7.3" fill="#d41f2a" text-anchor="middle" stroke="#d41f2a" stroke-width="0.12">MyM</text>
<text x="485.80" y="46.80" font-size="7.3" fill="#d41f2a" text-anchor="middle" stroke="#d41f2a" stroke-width="0.12">(55)</text>
<text x="330.60" y="59.80" font-size="7.0" fill="#9c7622" text-anchor="middle" font-style="italic" stroke="#9c7622" stroke-width="0.12">KMT2Ar</text>
<text x="330.60" y="68.00" font-size="7.3" fill="#9c7622" text-anchor="middle" stroke="#9c7622" stroke-width="0.12">(14)</text>
<text x="323.50" y="78.70" font-size="7.0" fill="#606060" text-anchor="middle" font-style="italic" stroke="#606060" stroke-width="0.12">ZNF384r</text>
<text x="363.00" y="83.50" font-size="7.0" fill="#e2504f" text-anchor="middle" font-style="italic" stroke="#e2504f" stroke-width="0.12">BCL/MYC</text>
<text x="363.00" y="92.50" font-size="7.3" fill="#e2504f" text-anchor="middle" stroke="#e2504f" stroke-width="0.12">(4)</text>
<text x="358.00" y="108.20" font-size="7.0" fill="#f2b540" text-anchor="middle" font-style="italic" stroke="#f2b540" stroke-width="0.12">TCF3::PBX1</text>
<text x="320.00" y="116.10" font-size="6.75" fill="#22a880" text-anchor="middle" font-style="italic" stroke="#22a880" stroke-width="0.12">ETV6::RUNX1</text>
<text x="412.40" y="134.00" font-size="7.3" fill="#6a9de0" text-anchor="middle" stroke="#6a9de0" stroke-width="0.12"><tspan font-style="italic">BCR::ABL1</tspan> (94)</text>
<text x="475.00" y="93.00" font-size="7.0" fill="#2f9e3c" text-anchor="middle" stroke="#2f9e3c" stroke-width="0.12">Ph-like (54)</text>
<text x="504.50" y="79.50" font-size="7.3" fill="#c5be3c" text-anchor="middle" font-style="italic" stroke="#c5be3c" stroke-width="0.12">CEBPr</text>
<text x="457.50" y="103.50" font-size="7.3" fill="#f0b07a" text-anchor="middle" stroke="#f0b07a" stroke-width="0.12"><tspan font-style="italic">PAX5</tspan>alt</text>
<text x="480.50" y="103.50" font-size="7.3" fill="#c0702e" text-anchor="middle" font-style="italic" stroke="#c0702e" stroke-width="0.12">PAX5</text>
<text x="480.50" y="112.00" font-size="7.3" fill="#b0622a" text-anchor="middle" stroke="#b0622a" stroke-width="0.12">P80R</text>
<text x="507.50" y="107.50" font-size="7.3" fill="#e0303e" text-anchor="middle" stroke="#e0303e" stroke-width="0.12">iAMP21</text>
<text x="0.60" y="152.80" font-size="10.6" fill="#111" text-anchor="start" font-weight="bold" stroke="#111" stroke-width="0.12">C</text>
<rect x="73.50" y="202.60" width="9.32" height="9.31" fill="#ffffff" stroke="#000" stroke-opacity="0.32" stroke-width="0.5"/>
<rect x="82.82" y="202.60" width="9.32" height="9.31" fill="#cbd7e8" stroke="#000" stroke-opacity="0.32" stroke-width="0.5"/>
<rect x="92.14" y="202.60" width="9.32" height="9.31" fill="#2657a0" stroke="#000" stroke-opacity="0.32" stroke-width="0.5"/>
<circle cx="96.80" cy="207.25" r="1.12" fill="#fff"/>
<rect x="101.46" y="202.60" width="9.32" height="9.31" fill="#a2b7d6" stroke="#000" stroke-opacity="0.32" stroke-width="0.5"/>
<circle cx="106.12" cy="207.25" r="1.12" fill="#fff"/>
<rect x="110.78" y="202.60" width="9.32" height="9.31" fill="#ffffff" stroke="#000" stroke-opacity="0.32" stroke-width="0.5"/>
<rect x="120.10" y="202.60" width="9.32" height="9.31" fill="#d2dceb" stroke="#000" stroke-opacity="0.32" stroke-width="0.5"/>
<rect x="129.42" y="202.60" width="9.32" height="9.31" fill="#edf1f7" stroke="#000" stroke-opacity="0.32" stroke-width="0.5"/>
<rect x="138.74" y="202.60" width="9.32" height="9.31" fill="#ffffff" stroke="#000" stroke-opacity="0.32" stroke-width="0.5"/>
<rect x="148.06" y="202.60" width="9.32" height="9.31" fill="#8ca6cd" stroke="#000" stroke-opacity="0.32" stroke-width="0.5"/>
<circle cx="152.72" cy="207.25" r="1.12" fill="#fff"/>
<rect x="157.38" y="202.60" width="9.32" height="9.31" fill="#f6c2c5" stroke="#000" stroke-opacity="0.32" stroke-width="0.5"/>
<circle cx="159.24" cy="207.25" r="1.12" fill="#fff"/>
<circle cx="162.04" cy="207.25" r="1.12" fill="#fff"/>
<circle cx="164.84" cy="207.25" r="1.12" fill="#fff"/>
<rect x="166.70" y="202.60" width="9.32" height="9.31" fill="#8ca6cd" stroke="#000" stroke-opacity="0.32" stroke-width="0.5"/>
<rect x="176.02" y="202.60" width="9.32" height="9.31" fill="#2657a0" stroke="#000" stroke-opacity="0.32" stroke-width="0.5"/>
<circle cx="180.68" cy="207.25" r="1.12" fill="#fff"/>
<rect x="185.34" y="202.60" width="9.32" height="9.31" fill="#3966a9" stroke="#000" stroke-opacity="0.32" stroke-width="0.5"/>
<circle cx="188.60" cy="207.25" r="1.12" fill="#fff"/>
<circle cx="191.40" cy="207.25" r="1.12" fill="#fff"/>
<rect x="194.66" y="202.60" width="9.32" height="9.31" fill="#819dc8" stroke="#000" stroke-opacity="0.32" stroke-width="0.5"/>
<circle cx="197.92" cy="207.25" r="1.12" fill="#fff"/>
<circle cx="200.72" cy="207.25" r="1.12" fill="#fff"/>
<rect x="203.98" y="202.60" width="9.32" height="9.31" fill="#819dc8" stroke="#000" stroke-opacity="0.32" stroke-width="0.5"/>
<circle cx="207.24" cy="207.25" r="1.12" fill="#fff"/>
<circle cx="210.04" cy="207.25" r="1.12" fill="#fff"/>
<rect x="213.30" y="202.60" width="9.32" height="9.31" fill="#f8cfd1" stroke="#000" stroke-opacity="0.32" stroke-width="0.5"/>
<rect x="222.62" y="202.60" width="9.32" height="9.31" fill="#ea7a80" stroke="#000" stroke-opacity="0.32" stroke-width="0.5"/>
<circle cx="224.48" cy="207.25" r="1.12" fill="#fff"/>
<circle cx="227.28" cy="207.25" r="1.12" fill="#fff"/>
<circle cx="230.08" cy="207.25" r="1.12" fill="#fff"/>
<rect x="231.94" y="202.60" width="9.32" height="9.31" fill="#f09da1" stroke="#000" stroke-opacity="0.32" stroke-width="0.5"/>
<circle cx="235.20" cy="207.25" r="1.12" fill="#fff"/>
<circle cx="238.00" cy="207.25" r="1.12" fill="#fff"/>
<rect x="241.26" y="202.60" width="9.32" height="9.31" fill="#ffffff" stroke="#000" stroke-opacity="0.32" stroke-width="0.5"/>
<rect x="250.58" y="202.60" width="9.32" height="9.31" fill="#fceced" stroke="#000" stroke-opacity="0.32" stroke-width="0.5"/>
<rect x="259.90" y="202.60" width="9.32" height="9.31" fill="#6285ba" stroke="#000" stroke-opacity="0.32" stroke-width="0.5"/>
<circle cx="261.76" cy="207.25" r="1.12" fill="#fff"/>
<circle cx="264.56" cy="207.25" r="1.12" fill="#fff"/>
<circle cx="267.36" cy="207.25" r="1.12" fill="#fff"/>
<rect x="269.22" y="202.60" width="9.32" height="9.31" fill="#2657a0" stroke="#000" stroke-opacity="0.32" stroke-width="0.5"/>
<text x="273.88" y="209.56" font-size="7.6" fill="#fff" text-anchor="middle" font-weight="bold">&#8225;</text>
<rect x="278.54" y="202.60" width="9.32" height="9.31" fill="#ffffff" stroke="#000" stroke-opacity="0.32" stroke-width="0.5"/>
<rect x="287.86" y="202.60" width="9.32" height="9.31" fill="#fdf5f5" stroke="#000" stroke-opacity="0.32" stroke-width="0.5"/>
<rect x="297.18" y="202.60" width="9.32" height="9.31" fill="#97aed2" stroke="#000" stroke-opacity="0.32" stroke-width="0.5"/>
<circle cx="300.44" cy="207.25" r="1.12" fill="#fff"/>
<circle cx="303.24" cy="207.25" r="1.12" fill="#fff"/>
<rect x="306.50" y="202.60" width="9.32" height="9.31" fill="#2657a0" stroke="#000" stroke-opacity="0.32" stroke-width="0.5"/>
<circle cx="311.16" cy="207.25" r="1.12" fill="#fff"/>
<rect x="315.82" y="202.60" width="9.32" height="9.31" fill="#2657a0" stroke="#000" stroke-opacity="0.32" stroke-width="0.5"/>
<circle cx="317.68" cy="207.25" r="1.12" fill="#fff"/>
<circle cx="320.48" cy="207.25" r="1.12" fill="#fff"/>
<circle cx="323.28" cy="207.25" r="1.12" fill="#fff"/>
<rect x="73.50" y="211.91" width="9.32" height="9.31" fill="#ffffff" stroke="#000" stroke-opacity="0.32" stroke-width="0.5"/>
<rect x="82.82" y="211.91" width="9.32" height="9.31" fill="#ffffff" stroke="#000" stroke-opacity="0.32" stroke-width="0.5"/>
<rect x="92.14" y="211.91" width="9.32" height="9.31" fill="#ffffff" stroke="#000" stroke-opacity="0.32" stroke-width="0.5"/>
<rect x="101.46" y="211.91" width="9.32" height="9.31" fill="#b9c9e1" stroke="#000" stroke-opacity="0.32" stroke-width="0.5"/>
<rect x="110.78" y="211.91" width="9.32" height="9.31" fill="#ffffff" stroke="#000" stroke-opacity="0.32" stroke-width="0.5"/>
<rect x="120.10" y="211.91" width="9.32" height="9.31" fill="#fceced" stroke="#000" stroke-opacity="0.32" stroke-width="0.5"/>
<rect x="129.42" y="211.91" width="9.32" height="9.31" fill="#ffffff" stroke="#000" stroke-opacity="0.32" stroke-width="0.5"/>
<rect x="138.74" y="211.91" width="9.32" height="9.31" fill="#ffffff" stroke="#000" stroke-opacity="0.32" stroke-width="0.5"/>
<rect x="148.06" y="211.91" width="9.32" height="9.31" fill="#f4b5b9" stroke="#000" stroke-opacity="0.32" stroke-width="0.5"/>
<circle cx="149.92" cy="216.56" r="1.12" fill="#fff"/>
<circle cx="152.72" cy="216.56" r="1.12" fill="#fff"/>
<circle cx="155.52" cy="216.56" r="1.12" fill="#fff"/>
<rect x="157.38" y="211.91" width="9.32" height="9.31" fill="#f4b5b9" stroke="#000" stroke-opacity="0.32" stroke-width="0.5"/>
<circle cx="159.24" cy="216.56" r="1.12" fill="#fff"/>
<circle cx="162.04" cy="216.56" r="1.12" fill="#fff"/>
<circle cx="164.84" cy="216.56" r="1.12" fill="#fff"/>
<rect x="166.70" y="211.91" width="9.32" height="9.31" fill="#ffffff" stroke="#000" stroke-opacity="0.32" stroke-width="0.5"/>
<rect x="176.02" y="211.91" width="9.32" height="9.31" fill="#ffffff" stroke="#000" stroke-opacity="0.32" stroke-width="0.5"/>
<rect x="185.34" y="211.91" width="9.32" height="9.31" fill="#f5bcbf" stroke="#000" stroke-opacity="0.32" stroke-width="0.5"/>
<circle cx="187.20" cy="216.56" r="1.12" fill="#fff"/>
<circle cx="190.00" cy="216.56" r="1.12" fill="#fff"/>
<circle cx="192.80" cy="216.56" r="1.12" fill="#fff"/>
<rect x="194.66" y="211.91" width="9.32" height="9.31" fill="#dc1a24" stroke="#000" stroke-opacity="0.32" stroke-width="0.5"/>
<circle cx="196.52" cy="216.56" r="1.12" fill="#fff"/>
<circle cx="199.32" cy="216.56" r="1.12" fill="#fff"/>
<circle cx="202.12" cy="216.56" r="1.12" fill="#fff"/>
<rect x="203.98" y="211.91" width="9.32" height="9.31" fill="#ffffff" stroke="#000" stroke-opacity="0.32" stroke-width="0.5"/>
<rect x="213.30" y="211.91" width="9.32" height="9.31" fill="#f6c2c5" stroke="#000" stroke-opacity="0.32" stroke-width="0.5"/>
<rect x="222.62" y="211.91" width="9.32" height="9.31" fill="#ffffff" stroke="#000" stroke-opacity="0.32" stroke-width="0.5"/>
<rect x="231.94" y="211.91" width="9.32" height="9.31" fill="#ffffff" stroke="#000" stroke-opacity="0.32" stroke-width="0.5"/>
<rect x="241.26" y="211.91" width="9.32" height="9.31" fill="#ffffff" stroke="#000" stroke-opacity="0.32" stroke-width="0.5"/>
<rect x="250.58" y="211.91" width="9.32" height="9.31" fill="#ffffff" stroke="#000" stroke-opacity="0.32" stroke-width="0.5"/>
<rect x="259.90" y="211.91" width="9.32" height="9.31" fill="#2657a0" stroke="#000" stroke-opacity="0.32" stroke-width="0.5"/>
<circle cx="261.76" cy="216.56" r="1.12" fill="#fff"/>
<circle cx="264.56" cy="216.56" r="1.12" fill="#fff"/>
<circle cx="267.36" cy="216.56" r="1.12" fill="#fff"/>
<rect x="269.22" y="211.91" width="9.32" height="9.31" fill="#ffffff" stroke="#000" stroke-opacity="0.32" stroke-width="0.5"/>
<rect x="278.54" y="211.91" width="9.32" height="9.31" fill="#f8cfd1" stroke="#000" stroke-opacity="0.32" stroke-width="0.5"/>
<rect x="287.86" y="211.91" width="9.32" height="9.31" fill="#2657a0" stroke="#000" stroke-opacity="0.32" stroke-width="0.5"/>
<circle cx="292.52" cy="216.56" r="1.12" fill="#fff"/>
<rect x="297.18" y="211.91" width="9.32" height="9.31" fill="#2f5ea4" stroke="#000" stroke-opacity="0.32" stroke-width="0.5"/>
<text x="301.84" y="218.87" font-size="7.6" fill="#fff" text-anchor="middle" font-weight="bold">&#8225;</text>
<rect x="306.50" y="211.91" width="9.32" height="9.31" fill="#2657a0" stroke="#000" stroke-opacity="0.32" stroke-width="0.5"/>
<text x="311.16" y="218.87" font-size="7.6" fill="#fff" text-anchor="middle" font-weight="bold">&#8225;</text>
<rect x="73.50" y="221.22" width="9.32" height="9.31" fill="#ffffff" stroke="#000" stroke-opacity="0.32" stroke-width="0.5"/>
<rect x="82.82" y="221.22" width="9.32" height="9.31" fill="#ffffff" stroke="#000" stroke-opacity="0.32" stroke-width="0.5"/>
<rect x="92.14" y="221.22" width="9.32" height="9.31" fill="#ffffff" stroke="#000" stroke-opacity="0.32" stroke-width="0.5"/>
<rect x="101.46" y="221.22" width="9.32" height="9.31" fill="#ffffff" stroke="#000" stroke-opacity="0.32" stroke-width="0.5"/>
<rect x="110.78" y="221.22" width="9.32" height="9.31" fill="#ffffff" stroke="#000" stroke-opacity="0.32" stroke-width="0.5"/>
<rect x="120.10" y="221.22" width="9.32" height="9.31" fill="#ffffff" stroke="#000" stroke-opacity="0.32" stroke-width="0.5"/>
<rect x="129.42" y="221.22" width="9.32" height="9.31" fill="#b9c9e1" stroke="#000" stroke-opacity="0.32" stroke-width="0.5"/>
<rect x="138.74" y="221.22" width="9.32" height="9.31" fill="#ffffff" stroke="#000" stroke-opacity="0.32" stroke-width="0.5"/>
<rect x="148.06" y="221.22" width="9.32" height="9.31" fill="#ffffff" stroke="#000" stroke-opacity="0.32" stroke-width="0.5"/>
<rect x="157.38" y="221.22" width="9.32" height="9.31" fill="#a2b7d6" stroke="#000" stroke-opacity="0.32" stroke-width="0.5"/>
<text x="162.04" y="228.18" font-size="7.6" fill="#fff" text-anchor="middle" font-weight="bold">&#8225;</text>
<rect x="166.70" y="221.22" width="9.32" height="9.31" fill="#ffffff" stroke="#000" stroke-opacity="0.32" stroke-width="0.5"/>
<rect x="176.02" y="221.22" width="9.32" height="9.31" fill="#f8cfd1" stroke="#000" stroke-opacity="0.32" stroke-width="0.5"/>
<rect x="185.34" y="221.22" width="9.32" height="9.31" fill="#f8cfd1" stroke="#000" stroke-opacity="0.32" stroke-width="0.5"/>
<rect x="194.66" y="221.22" width="9.32" height="9.31" fill="#ffffff" stroke="#000" stroke-opacity="0.32" stroke-width="0.5"/>
<rect x="203.98" y="221.22" width="9.32" height="9.31" fill="#ffffff" stroke="#000" stroke-opacity="0.32" stroke-width="0.5"/>
<rect x="213.30" y="221.22" width="9.32" height="9.31" fill="#fceced" stroke="#000" stroke-opacity="0.32" stroke-width="0.5"/>
<rect x="222.62" y="221.22" width="9.32" height="9.31" fill="#ffffff" stroke="#000" stroke-opacity="0.32" stroke-width="0.5"/>
<rect x="231.94" y="221.22" width="9.32" height="9.31" fill="#ffffff" stroke="#000" stroke-opacity="0.32" stroke-width="0.5"/>
<rect x="241.26" y="221.22" width="9.32" height="9.31" fill="#ffffff" stroke="#000" stroke-opacity="0.32" stroke-width="0.5"/>
<rect x="250.58" y="221.22" width="9.32" height="9.31" fill="#fceced" stroke="#000" stroke-opacity="0.32" stroke-width="0.5"/>
<rect x="259.90" y="221.22" width="9.32" height="9.31" fill="#f4b5b9" stroke="#000" stroke-opacity="0.32" stroke-width="0.5"/>
<circle cx="264.56" cy="225.88" r="1.12" fill="#fff"/>
<rect x="269.22" y="221.22" width="9.32" height="9.31" fill="#ffffff" stroke="#000" stroke-opacity="0.32" stroke-width="0.5"/>
<rect x="278.54" y="221.22" width="9.32" height="9.31" fill="#ffffff" stroke="#000" stroke-opacity="0.32" stroke-width="0.5"/>
<rect x="287.86" y="221.22" width="9.32" height="9.31" fill="#ffffff" stroke="#000" stroke-opacity="0.32" stroke-width="0.5"/>
<rect x="297.18" y="221.22" width="9.32" height="9.31" fill="#ffffff" stroke="#000" stroke-opacity="0.32" stroke-width="0.5"/>
<rect x="73.50" y="230.53" width="9.32" height="9.31" fill="#ec868b" stroke="#000" stroke-opacity="0.32" stroke-width="0.5"/>
<circle cx="78.16" cy="235.19" r="1.12" fill="#fff"/>
<rect x="82.82" y="230.53" width="9.32" height="9.31" fill="#ffffff" stroke="#000" stroke-opacity="0.32" stroke-width="0.5"/>
<rect x="92.14" y="230.53" width="9.32" height="9.31" fill="#ffffff" stroke="#000" stroke-opacity="0.32" stroke-width="0.5"/>
<rect x="101.46" y="230.53" width="9.32" height="9.31" fill="#e6ecf4" stroke="#000" stroke-opacity="0.32" stroke-width="0.5"/>
<rect x="110.78" y="230.53" width="9.32" height="9.31" fill="#fceced" stroke="#000" stroke-opacity="0.32" stroke-width="0.5"/>
<rect x="120.10" y="230.53" width="9.32" height="9.31" fill="#f09da1" stroke="#000" stroke-opacity="0.32" stroke-width="0.5"/>
<circle cx="124.76" cy="235.19" r="1.12" fill="#fff"/>
<rect x="129.42" y="230.53" width="9.32" height="9.31" fill="#e6ecf4" stroke="#000" stroke-opacity="0.32" stroke-width="0.5"/>
<rect x="138.74" y="230.53" width="9.32" height="9.31" fill="#fdf5f5" stroke="#000" stroke-opacity="0.32" stroke-width="0.5"/>
<rect x="148.06" y="230.53" width="9.32" height="9.31" fill="#d2dceb" stroke="#000" stroke-opacity="0.32" stroke-width="0.5"/>
<rect x="157.38" y="230.53" width="9.32" height="9.31" fill="#d2dceb" stroke="#000" stroke-opacity="0.32" stroke-width="0.5"/>
<rect x="166.70" y="230.53" width="9.32" height="9.31" fill="#ffffff" stroke="#000" stroke-opacity="0.32" stroke-width="0.5"/>
<rect x="176.02" y="230.53" width="9.32" height="9.31" fill="#f8cfd1" stroke="#000" stroke-opacity="0.32" stroke-width="0.5"/>
<rect x="185.34" y="230.53" width="9.32" height="9.31" fill="#fceced" stroke="#000" stroke-opacity="0.32" stroke-width="0.5"/>
<rect x="194.66" y="230.53" width="9.32" height="9.31" fill="#2657a0" stroke="#000" stroke-opacity="0.32" stroke-width="0.5"/>
<text x="199.32" y="237.49" font-size="7.6" fill="#fff" text-anchor="middle" font-weight="bold">&#8225;</text>
<rect x="203.98" y="230.53" width="9.32" height="9.31" fill="#fceced" stroke="#000" stroke-opacity="0.32" stroke-width="0.5"/>
<rect x="213.30" y="230.53" width="9.32" height="9.31" fill="#ffffff" stroke="#000" stroke-opacity="0.32" stroke-width="0.5"/>
<rect x="222.62" y="230.53" width="9.32" height="9.31" fill="#ffffff" stroke="#000" stroke-opacity="0.32" stroke-width="0.5"/>
<rect x="231.94" y="230.53" width="9.32" height="9.31" fill="#ffffff" stroke="#000" stroke-opacity="0.32" stroke-width="0.5"/>
<rect x="241.26" y="230.53" width="9.32" height="9.31" fill="#fceced" stroke="#000" stroke-opacity="0.32" stroke-width="0.5"/>
<rect x="250.58" y="230.53" width="9.32" height="9.31" fill="#f09da1" stroke="#000" stroke-opacity="0.32" stroke-width="0.5"/>
<circle cx="253.84" cy="235.19" r="1.12" fill="#fff"/>
<circle cx="256.64" cy="235.19" r="1.12" fill="#fff"/>
<rect x="259.90" y="230.53" width="9.32" height="9.31" fill="#e44f56" stroke="#000" stroke-opacity="0.32" stroke-width="0.5"/>
<circle cx="261.76" cy="235.19" r="1.12" fill="#fff"/>
<circle cx="264.56" cy="235.19" r="1.12" fill="#fff"/>
<circle cx="267.36" cy="235.19" r="1.12" fill="#fff"/>
<rect x="269.22" y="230.53" width="9.32" height="9.31" fill="#ffffff" stroke="#000" stroke-opacity="0.32" stroke-width="0.5"/>
<rect x="278.54" y="230.53" width="9.32" height="9.31" fill="#d2dceb" stroke="#000" stroke-opacity="0.32" stroke-width="0.5"/>
<rect x="287.86" y="230.53" width="9.32" height="9.31" fill="#2657a0" stroke="#000" stroke-opacity="0.32" stroke-width="0.5"/>
<circle cx="292.52" cy="235.19" r="1.12" fill="#fff"/>
<rect x="73.50" y="239.84" width="9.32" height="9.31" fill="#ffffff" stroke="#000" stroke-opacity="0.32" stroke-width="0.5"/>
<rect x="82.82" y="239.84" width="9.32" height="9.31" fill="#ffffff" stroke="#000" stroke-opacity="0.32" stroke-width="0.5"/>
<rect x="92.14" y="239.84" width="9.32" height="9.31" fill="#f8cfd1" stroke="#000" stroke-opacity="0.32" stroke-width="0.5"/>
<rect x="101.46" y="239.84" width="9.32" height="9.31" fill="#ffffff" stroke="#000" stroke-opacity="0.32" stroke-width="0.5"/>
<rect x="110.78" y="239.84" width="9.32" height="9.31" fill="#e6ecf4" stroke="#000" stroke-opacity="0.32" stroke-width="0.5"/>
<rect x="120.10" y="239.84" width="9.32" height="9.31" fill="#ffffff" stroke="#000" stroke-opacity="0.32" stroke-width="0.5"/>
<rect x="129.42" y="239.84" width="9.32" height="9.31" fill="#ffffff" stroke="#000" stroke-opacity="0.32" stroke-width="0.5"/>
<rect x="138.74" y="239.84" width="9.32" height="9.31" fill="#fbe5e6" stroke="#000" stroke-opacity="0.32" stroke-width="0.5"/>
<rect x="148.06" y="239.84" width="9.32" height="9.31" fill="#ffffff" stroke="#000" stroke-opacity="0.32" stroke-width="0.5"/>
<rect x="157.38" y="239.84" width="9.32" height="9.31" fill="#97aed2" stroke="#000" stroke-opacity="0.32" stroke-width="0.5"/>
<text x="162.04" y="246.80" font-size="7.6" fill="#fff" text-anchor="middle" font-weight="bold">&#8225;</text>
<rect x="166.70" y="239.84" width="9.32" height="9.31" fill="#f8cfd1" stroke="#000" stroke-opacity="0.32" stroke-width="0.5"/>
<circle cx="171.36" cy="244.50" r="1.12" fill="#fff"/>
<rect x="176.02" y="239.84" width="9.32" height="9.31" fill="#ffffff" stroke="#000" stroke-opacity="0.32" stroke-width="0.5"/>
<rect x="185.34" y="239.84" width="9.32" height="9.31" fill="#f6c2c5" stroke="#000" stroke-opacity="0.32" stroke-width="0.5"/>
<text x="190.00" y="246.80" font-size="7.6" fill="#fff" text-anchor="middle" font-weight="bold">&#8225;</text>
<rect x="194.66" y="239.84" width="9.32" height="9.31" fill="#ffffff" stroke="#000" stroke-opacity="0.32" stroke-width="0.5"/>
<rect x="203.98" y="239.84" width="9.32" height="9.31" fill="#f6c2c5" stroke="#000" stroke-opacity="0.32" stroke-width="0.5"/>
<circle cx="208.64" cy="244.50" r="1.12" fill="#fff"/>
<rect x="213.30" y="239.84" width="9.32" height="9.31" fill="#ffffff" stroke="#000" stroke-opacity="0.32" stroke-width="0.5"/>
<rect x="222.62" y="239.84" width="9.32" height="9.31" fill="#ffffff" stroke="#000" stroke-opacity="0.32" stroke-width="0.5"/>
<rect x="231.94" y="239.84" width="9.32" height="9.31" fill="#f09da1" stroke="#000" stroke-opacity="0.32" stroke-width="0.5"/>
<circle cx="235.20" cy="244.50" r="1.12" fill="#fff"/>
<circle cx="238.00" cy="244.50" r="1.12" fill="#fff"/>
<rect x="241.26" y="239.84" width="9.32" height="9.31" fill="#f8cfd1" stroke="#000" stroke-opacity="0.32" stroke-width="0.5"/>
<rect x="250.58" y="239.84" width="9.32" height="9.31" fill="#f8cfd1" stroke="#000" stroke-opacity="0.32" stroke-width="0.5"/>
<rect x="259.90" y="239.84" width="9.32" height="9.31" fill="#bfcde3" stroke="#000" stroke-opacity="0.32" stroke-width="0.5"/>
<rect x="269.22" y="239.84" width="9.32" height="9.31" fill="#fceced" stroke="#000" stroke-opacity="0.32" stroke-width="0.5"/>
<rect x="278.54" y="239.84" width="9.32" height="9.31" fill="#fceced" stroke="#000" stroke-opacity="0.32" stroke-width="0.5"/>
<rect x="73.50" y="249.15" width="9.32" height="9.31" fill="#ffffff" stroke="#000" stroke-opacity="0.32" stroke-width="0.5"/>
<rect x="82.82" y="249.15" width="9.32" height="9.31" fill="#f09da1" stroke="#000" stroke-opacity="0.32" stroke-width="0.5"/>
<circle cx="86.08" cy="253.81" r="1.12" fill="#fff"/>
<circle cx="88.88" cy="253.81" r="1.12" fill="#fff"/>
<rect x="92.14" y="249.15" width="9.32" height="9.31" fill="#f7c9cb" stroke="#000" stroke-opacity="0.32" stroke-width="0.5"/>
<rect x="101.46" y="249.15" width="9.32" height="9.31" fill="#f7c9cb" stroke="#000" stroke-opacity="0.32" stroke-width="0.5"/>
<rect x="110.78" y="249.15" width="9.32" height="9.31" fill="#fceced" stroke="#000" stroke-opacity="0.32" stroke-width="0.5"/>
<rect x="120.10" y="249.15" width="9.32" height="9.31" fill="#f7c9cb" stroke="#000" stroke-opacity="0.32" stroke-width="0.5"/>
<rect x="129.42" y="249.15" width="9.32" height="9.31" fill="#f7c9cb" stroke="#000" stroke-opacity="0.32" stroke-width="0.5"/>
<text x="134.08" y="256.11" font-size="7.6" fill="#fff" text-anchor="middle" font-weight="bold">&#8225;</text>
<rect x="138.74" y="249.15" width="9.32" height="9.31" fill="#ffffff" stroke="#000" stroke-opacity="0.32" stroke-width="0.5"/>
<rect x="148.06" y="249.15" width="9.32" height="9.31" fill="#fceced" stroke="#000" stroke-opacity="0.32" stroke-width="0.5"/>
<rect x="157.38" y="249.15" width="9.32" height="9.31" fill="#fceced" stroke="#000" stroke-opacity="0.32" stroke-width="0.5"/>
<rect x="166.70" y="249.15" width="9.32" height="9.31" fill="#ffffff" stroke="#000" stroke-opacity="0.32" stroke-width="0.5"/>
<rect x="176.02" y="249.15" width="9.32" height="9.31" fill="#ffffff" stroke="#000" stroke-opacity="0.32" stroke-width="0.5"/>
<rect x="185.34" y="249.15" width="9.32" height="9.31" fill="#ffffff" stroke="#000" stroke-opacity="0.32" stroke-width="0.5"/>
<rect x="194.66" y="249.15" width="9.32" height="9.31" fill="#ffffff" stroke="#000" stroke-opacity="0.32" stroke-width="0.5"/>
<rect x="203.98" y="249.15" width="9.32" height="9.31" fill="#edf1f7" stroke="#000" stroke-opacity="0.32" stroke-width="0.5"/>
<rect x="213.30" y="249.15" width="9.32" height="9.31" fill="#f2a9ad" stroke="#000" stroke-opacity="0.32" stroke-width="0.5"/>
<text x="217.96" y="256.11" font-size="7.6" fill="#fff" text-anchor="middle" font-weight="bold">&#8225;</text>
<rect x="222.62" y="249.15" width="9.32" height="9.31" fill="#ffffff" stroke="#000" stroke-opacity="0.32" stroke-width="0.5"/>
<rect x="231.94" y="249.15" width="9.32" height="9.31" fill="#ffffff" stroke="#000" stroke-opacity="0.32" stroke-width="0.5"/>
<rect x="241.26" y="249.15" width="9.32" height="9.31" fill="#fdf5f5" stroke="#000" stroke-opacity="0.32" stroke-width="0.5"/>
<rect x="250.58" y="249.15" width="9.32" height="9.31" fill="#fceced" stroke="#000" stroke-opacity="0.32" stroke-width="0.5"/>
<rect x="259.90" y="249.15" width="9.32" height="9.31" fill="#b3c4de" stroke="#000" stroke-opacity="0.32" stroke-width="0.5"/>
<rect x="269.22" y="249.15" width="9.32" height="9.31" fill="#fceced" stroke="#000" stroke-opacity="0.32" stroke-width="0.5"/>
<rect x="73.50" y="258.46" width="9.32" height="9.31" fill="#ffffff" stroke="#000" stroke-opacity="0.32" stroke-width="0.5"/>
<rect x="82.82" y="258.46" width="9.32" height="9.31" fill="#f09da1" stroke="#000" stroke-opacity="0.32" stroke-width="0.5"/>
<circle cx="87.48" cy="263.11" r="1.12" fill="#fff"/>
<rect x="92.14" y="258.46" width="9.32" height="9.31" fill="#f7c9cb" stroke="#000" stroke-opacity="0.32" stroke-width="0.5"/>
<rect x="101.46" y="258.46" width="9.32" height="9.31" fill="#f7c9cb" stroke="#000" stroke-opacity="0.32" stroke-width="0.5"/>
<rect x="110.78" y="258.46" width="9.32" height="9.31" fill="#ffffff" stroke="#000" stroke-opacity="0.32" stroke-width="0.5"/>
<rect x="120.10" y="258.46" width="9.32" height="9.31" fill="#f7c9cb" stroke="#000" stroke-opacity="0.32" stroke-width="0.5"/>
<rect x="129.42" y="258.46" width="9.32" height="9.31" fill="#f7c9cb" stroke="#000" stroke-opacity="0.32" stroke-width="0.5"/>
<rect x="138.74" y="258.46" width="9.32" height="9.31" fill="#df2f38" stroke="#000" stroke-opacity="0.32" stroke-width="0.5"/>
<circle cx="140.60" cy="263.11" r="1.12" fill="#fff"/>
<circle cx="143.40" cy="263.11" r="1.12" fill="#fff"/>
<circle cx="146.20" cy="263.11" r="1.12" fill="#fff"/>
<rect x="148.06" y="258.46" width="9.32" height="9.31" fill="#ffffff" stroke="#000" stroke-opacity="0.32" stroke-width="0.5"/>
<rect x="157.38" y="258.46" width="9.32" height="9.31" fill="#fceced" stroke="#000" stroke-opacity="0.32" stroke-width="0.5"/>
<rect x="166.70" y="258.46" width="9.32" height="9.31" fill="#f7c9cb" stroke="#000" stroke-opacity="0.32" stroke-width="0.5"/>
<rect x="176.02" y="258.46" width="9.32" height="9.31" fill="#ffffff" stroke="#000" stroke-opacity="0.32" stroke-width="0.5"/>
<rect x="185.34" y="258.46" width="9.32" height="9.31" fill="#ffffff" stroke="#000" stroke-opacity="0.32" stroke-width="0.5"/>
<rect x="194.66" y="258.46" width="9.32" height="9.31" fill="#ffffff" stroke="#000" stroke-opacity="0.32" stroke-width="0.5"/>
<rect x="203.98" y="258.46" width="9.32" height="9.31" fill="#f2a9ad" stroke="#000" stroke-opacity="0.32" stroke-width="0.5"/>
<circle cx="207.24" cy="263.11" r="1.12" fill="#fff"/>
<circle cx="210.04" cy="263.11" r="1.12" fill="#fff"/>
<rect x="213.30" y="258.46" width="9.32" height="9.31" fill="#ffffff" stroke="#000" stroke-opacity="0.32" stroke-width="0.5"/>
<rect x="222.62" y="258.46" width="9.32" height="9.31" fill="#ffffff" stroke="#000" stroke-opacity="0.32" stroke-width="0.5"/>
<rect x="231.94" y="258.46" width="9.32" height="9.31" fill="#ffffff" stroke="#000" stroke-opacity="0.32" stroke-width="0.5"/>
<rect x="241.26" y="258.46" width="9.32" height="9.31" fill="#ffffff" stroke="#000" stroke-opacity="0.32" stroke-width="0.5"/>
<rect x="250.58" y="258.46" width="9.32" height="9.31" fill="#ffffff" stroke="#000" stroke-opacity="0.32" stroke-width="0.5"/>
<rect x="259.90" y="258.46" width="9.32" height="9.31" fill="#ffffff" stroke="#000" stroke-opacity="0.32" stroke-width="0.5"/>
<rect x="73.50" y="267.77" width="9.32" height="9.31" fill="#f7c9cb" stroke="#000" stroke-opacity="0.32" stroke-width="0.5"/>
<rect x="82.82" y="267.77" width="9.32" height="9.31" fill="#f8cfd1" stroke="#000" stroke-opacity="0.32" stroke-width="0.5"/>
<rect x="92.14" y="267.77" width="9.32" height="9.31" fill="#f5bcbf" stroke="#000" stroke-opacity="0.32" stroke-width="0.5"/>
<text x="96.80" y="274.72" font-size="7.6" fill="#fff" text-anchor="middle" font-weight="bold">&#8225;</text>
<rect x="101.46" y="267.77" width="9.32" height="9.31" fill="#c5d2e6" stroke="#000" stroke-opacity="0.32" stroke-width="0.5"/>
<rect x="110.78" y="267.77" width="9.32" height="9.31" fill="#fbe5e6" stroke="#000" stroke-opacity="0.32" stroke-width="0.5"/>
<rect x="120.10" y="267.77" width="9.32" height="9.31" fill="#f6c2c5" stroke="#000" stroke-opacity="0.32" stroke-width="0.5"/>
<circle cx="123.36" cy="272.42" r="1.12" fill="#fff"/>
<circle cx="126.16" cy="272.42" r="1.12" fill="#fff"/>
<rect x="129.42" y="267.77" width="9.32" height="9.31" fill="#e6ecf4" stroke="#000" stroke-opacity="0.32" stroke-width="0.5"/>
<rect x="138.74" y="267.77" width="9.32" height="9.31" fill="#fbe5e6" stroke="#000" stroke-opacity="0.32" stroke-width="0.5"/>
<rect x="148.06" y="267.77" width="9.32" height="9.31" fill="#d8e1ee" stroke="#000" stroke-opacity="0.32" stroke-width="0.5"/>
<rect x="157.38" y="267.77" width="9.32" height="9.31" fill="#97aed2" stroke="#000" stroke-opacity="0.32" stroke-width="0.5"/>
<circle cx="159.24" cy="272.42" r="1.12" fill="#fff"/>
<circle cx="162.04" cy="272.42" r="1.12" fill="#fff"/>
<circle cx="164.84" cy="272.42" r="1.12" fill="#fff"/>
<rect x="166.70" y="267.77" width="9.32" height="9.31" fill="#fceced" stroke="#000" stroke-opacity="0.32" stroke-width="0.5"/>
<rect x="176.02" y="267.77" width="9.32" height="9.31" fill="#e6ecf4" stroke="#000" stroke-opacity="0.32" stroke-width="0.5"/>
<rect x="185.34" y="267.77" width="9.32" height="9.31" fill="#ffffff" stroke="#000" stroke-opacity="0.32" stroke-width="0.5"/>
<rect x="194.66" y="267.77" width="9.32" height="9.31" fill="#2657a0" stroke="#000" stroke-opacity="0.32" stroke-width="0.5"/>
<circle cx="199.32" cy="272.42" r="1.12" fill="#fff"/>
<rect x="203.98" y="267.77" width="9.32" height="9.31" fill="#ffffff" stroke="#000" stroke-opacity="0.32" stroke-width="0.5"/>
<rect x="213.30" y="267.77" width="9.32" height="9.31" fill="#ffffff" stroke="#000" stroke-opacity="0.32" stroke-width="0.5"/>
<rect x="222.62" y="267.77" width="9.32" height="9.31" fill="#e6ecf4" stroke="#000" stroke-opacity="0.32" stroke-width="0.5"/>
<rect x="231.94" y="267.77" width="9.32" height="9.31" fill="#e6ecf4" stroke="#000" stroke-opacity="0.32" stroke-width="0.5"/>
<rect x="241.26" y="267.77" width="9.32" height="9.31" fill="#f09da1" stroke="#000" stroke-opacity="0.32" stroke-width="0.5"/>
<circle cx="244.52" cy="272.42" r="1.12" fill="#fff"/>
<circle cx="247.32" cy="272.42" r="1.12" fill="#fff"/>
<rect x="250.58" y="267.77" width="9.32" height="9.31" fill="#f7c9cb" stroke="#000" stroke-opacity="0.32" stroke-width="0.5"/>
<rect x="73.50" y="277.08" width="9.32" height="9.31" fill="#ffffff" stroke="#000" stroke-opacity="0.32" stroke-width="0.5"/>
<rect x="82.82" y="277.08" width="9.32" height="9.31" fill="#ffffff" stroke="#000" stroke-opacity="0.32" stroke-width="0.5"/>
<rect x="92.14" y="277.08" width="9.32" height="9.31" fill="#ffffff" stroke="#000" stroke-opacity="0.32" stroke-width="0.5"/>
<rect x="101.46" y="277.08" width="9.32" height="9.31" fill="#ffffff" stroke="#000" stroke-opacity="0.32" stroke-width="0.5"/>
<rect x="110.78" y="277.08" width="9.32" height="9.31" fill="#ffffff" stroke="#000" stroke-opacity="0.32" stroke-width="0.5"/>
<rect x="120.10" y="277.08" width="9.32" height="9.31" fill="#ffffff" stroke="#000" stroke-opacity="0.32" stroke-width="0.5"/>
<rect x="129.42" y="277.08" width="9.32" height="9.31" fill="#d2dceb" stroke="#000" stroke-opacity="0.32" stroke-width="0.5"/>
<rect x="138.74" y="277.08" width="9.32" height="9.31" fill="#f09da1" stroke="#000" stroke-opacity="0.32" stroke-width="0.5"/>
<circle cx="143.40" cy="281.73" r="1.12" fill="#fff"/>
<rect x="148.06" y="277.08" width="9.32" height="9.31" fill="#ffffff" stroke="#000" stroke-opacity="0.32" stroke-width="0.5"/>
<rect x="157.38" y="277.08" width="9.32" height="9.31" fill="#cbd7e8" stroke="#000" stroke-opacity="0.32" stroke-width="0.5"/>
<rect x="166.70" y="277.08" width="9.32" height="9.31" fill="#fadddf" stroke="#000" stroke-opacity="0.32" stroke-width="0.5"/>
<rect x="176.02" y="277.08" width="9.32" height="9.31" fill="#ffffff" stroke="#000" stroke-opacity="0.32" stroke-width="0.5"/>
<rect x="185.34" y="277.08" width="9.32" height="9.31" fill="#ffffff" stroke="#000" stroke-opacity="0.32" stroke-width="0.5"/>
<rect x="194.66" y="277.08" width="9.32" height="9.31" fill="#f4b5b9" stroke="#000" stroke-opacity="0.32" stroke-width="0.5"/>
<text x="199.32" y="284.03" font-size="7.6" fill="#fff" text-anchor="middle" font-weight="bold">&#8225;</text>
<rect x="203.98" y="277.08" width="9.32" height="9.31" fill="#f8cfd1" stroke="#000" stroke-opacity="0.32" stroke-width="0.5"/>
<rect x="213.30" y="277.08" width="9.32" height="9.31" fill="#ffffff" stroke="#000" stroke-opacity="0.32" stroke-width="0.5"/>
<rect x="222.62" y="277.08" width="9.32" height="9.31" fill="#ffffff" stroke="#000" stroke-opacity="0.32" stroke-width="0.5"/>
<rect x="231.94" y="277.08" width="9.32" height="9.31" fill="#ee9196" stroke="#000" stroke-opacity="0.32" stroke-width="0.5"/>
<rect x="241.26" y="277.08" width="9.32" height="9.31" fill="#ffffff" stroke="#000" stroke-opacity="0.32" stroke-width="0.5"/>
<rect x="73.50" y="286.39" width="9.32" height="9.31" fill="#ffffff" stroke="#000" stroke-opacity="0.32" stroke-width="0.5"/>
<rect x="82.82" y="286.39" width="9.32" height="9.31" fill="#ffffff" stroke="#000" stroke-opacity="0.32" stroke-width="0.5"/>
<rect x="92.14" y="286.39" width="9.32" height="9.31" fill="#ffffff" stroke="#000" stroke-opacity="0.32" stroke-width="0.5"/>
<rect x="101.46" y="286.39" width="9.32" height="9.31" fill="#ffffff" stroke="#000" stroke-opacity="0.32" stroke-width="0.5"/>
<rect x="110.78" y="286.39" width="9.32" height="9.31" fill="#f8cfd1" stroke="#000" stroke-opacity="0.32" stroke-width="0.5"/>
<rect x="120.10" y="286.39" width="9.32" height="9.31" fill="#e96f75" stroke="#000" stroke-opacity="0.32" stroke-width="0.5"/>
<circle cx="121.96" cy="291.04" r="1.12" fill="#fff"/>
<circle cx="124.76" cy="291.04" r="1.12" fill="#fff"/>
<circle cx="127.56" cy="291.04" r="1.12" fill="#fff"/>
<rect x="129.42" y="286.39" width="9.32" height="9.31" fill="#b9c9e1" stroke="#000" stroke-opacity="0.32" stroke-width="0.5"/>
<rect x="138.74" y="286.39" width="9.32" height="9.31" fill="#ffffff" stroke="#000" stroke-opacity="0.32" stroke-width="0.5"/>
<rect x="148.06" y="286.39" width="9.32" height="9.31" fill="#ffffff" stroke="#000" stroke-opacity="0.32" stroke-width="0.5"/>
<rect x="157.38" y="286.39" width="9.32" height="9.31" fill="#cbd7e8" stroke="#000" stroke-opacity="0.32" stroke-width="0.5"/>
<rect x="166.70" y="286.39" width="9.32" height="9.31" fill="#ffffff" stroke="#000" stroke-opacity="0.32" stroke-width="0.5"/>
<rect x="176.02" y="286.39" width="9.32" height="9.31" fill="#ffffff" stroke="#000" stroke-opacity="0.32" stroke-width="0.5"/>
<rect x="185.34" y="286.39" width="9.32" height="9.31" fill="#ffffff" stroke="#000" stroke-opacity="0.32" stroke-width="0.5"/>
<rect x="194.66" y="286.39" width="9.32" height="9.31" fill="#fadddf" stroke="#000" stroke-opacity="0.32" stroke-width="0.5"/>
<rect x="203.98" y="286.39" width="9.32" height="9.31" fill="#ffffff" stroke="#000" stroke-opacity="0.32" stroke-width="0.5"/>
<rect x="213.30" y="286.39" width="9.32" height="9.31" fill="#ffffff" stroke="#000" stroke-opacity="0.32" stroke-width="0.5"/>
<rect x="222.62" y="286.39" width="9.32" height="9.31" fill="#ee9196" stroke="#000" stroke-opacity="0.32" stroke-width="0.5"/>
<text x="227.28" y="293.34" font-size="7.6" fill="#fff" text-anchor="middle" font-weight="bold">&#8225;</text>
<rect x="231.94" y="286.39" width="9.32" height="9.31" fill="#ec868b" stroke="#000" stroke-opacity="0.32" stroke-width="0.5"/>
<rect x="73.50" y="295.70" width="9.32" height="9.31" fill="#ffffff" stroke="#000" stroke-opacity="0.32" stroke-width="0.5"/>
<rect x="82.82" y="295.70" width="9.32" height="9.31" fill="#ffffff" stroke="#000" stroke-opacity="0.32" stroke-width="0.5"/>
<rect x="92.14" y="295.70" width="9.32" height="9.31" fill="#ffffff" stroke="#000" stroke-opacity="0.32" stroke-width="0.5"/>
<rect x="101.46" y="295.70" width="9.32" height="9.31" fill="#ffffff" stroke="#000" stroke-opacity="0.32" stroke-width="0.5"/>
<rect x="110.78" y="295.70" width="9.32" height="9.31" fill="#ffffff" stroke="#000" stroke-opacity="0.32" stroke-width="0.5"/>
<rect x="120.10" y="295.70" width="9.32" height="9.31" fill="#ffffff" stroke="#000" stroke-opacity="0.32" stroke-width="0.5"/>
<rect x="129.42" y="295.70" width="9.32" height="9.31" fill="#2657a0" stroke="#000" stroke-opacity="0.32" stroke-width="0.5"/>
<circle cx="132.68" cy="300.35" r="1.12" fill="#fff"/>
<circle cx="135.48" cy="300.35" r="1.12" fill="#fff"/>
<rect x="138.74" y="295.70" width="9.32" height="9.31" fill="#ffffff" stroke="#000" stroke-opacity="0.32" stroke-width="0.5"/>
<rect x="148.06" y="295.70" width="9.32" height="9.31" fill="#ffffff" stroke="#000" stroke-opacity="0.32" stroke-width="0.5"/>
<rect x="157.38" y="295.70" width="9.32" height="9.31" fill="#d2dceb" stroke="#000" stroke-opacity="0.32" stroke-width="0.5"/>
<rect x="166.70" y="295.70" width="9.32" height="9.31" fill="#ffffff" stroke="#000" stroke-opacity="0.32" stroke-width="0.5"/>
<rect x="176.02" y="295.70" width="9.32" height="9.31" fill="#ffffff" stroke="#000" stroke-opacity="0.32" stroke-width="0.5"/>
<rect x="185.34" y="295.70" width="9.32" height="9.31" fill="#ee9196" stroke="#000" stroke-opacity="0.32" stroke-width="0.5"/>
<circle cx="190.00" cy="300.35" r="1.12" fill="#fff"/>
<rect x="194.66" y="295.70" width="9.32" height="9.31" fill="#ffffff" stroke="#000" stroke-opacity="0.32" stroke-width="0.5"/>
<rect x="203.98" y="295.70" width="9.32" height="9.31" fill="#ffffff" stroke="#000" stroke-opacity="0.32" stroke-width="0.5"/>
<rect x="213.30" y="295.70" width="9.32" height="9.31" fill="#ffffff" stroke="#000" stroke-opacity="0.32" stroke-width="0.5"/>
<rect x="222.62" y="295.70" width="9.32" height="9.31" fill="#ffffff" stroke="#000" stroke-opacity="0.32" stroke-width="0.5"/>
<rect x="73.50" y="305.01" width="9.32" height="9.31" fill="#ffffff" stroke="#000" stroke-opacity="0.32" stroke-width="0.5"/>
<rect x="82.82" y="305.01" width="9.32" height="9.31" fill="#ffffff" stroke="#000" stroke-opacity="0.32" stroke-width="0.5"/>
<rect x="92.14" y="305.01" width="9.32" height="9.31" fill="#ee9196" stroke="#000" stroke-opacity="0.32" stroke-width="0.5"/>
<text x="96.80" y="311.96" font-size="7.6" fill="#fff" text-anchor="middle" font-weight="bold">&#8225;</text>
<rect x="101.46" y="305.01" width="9.32" height="9.31" fill="#ffffff" stroke="#000" stroke-opacity="0.32" stroke-width="0.5"/>
<rect x="110.78" y="305.01" width="9.32" height="9.31" fill="#ffffff" stroke="#000" stroke-opacity="0.32" stroke-width="0.5"/>
<rect x="120.10" y="305.01" width="9.32" height="9.31" fill="#ffffff" stroke="#000" stroke-opacity="0.32" stroke-width="0.5"/>
<rect x="129.42" y="305.01" width="9.32" height="9.31" fill="#cbd7e8" stroke="#000" stroke-opacity="0.32" stroke-width="0.5"/>
<rect x="138.74" y="305.01" width="9.32" height="9.31" fill="#ffffff" stroke="#000" stroke-opacity="0.32" stroke-width="0.5"/>
<rect x="148.06" y="305.01" width="9.32" height="9.31" fill="#ffffff" stroke="#000" stroke-opacity="0.32" stroke-width="0.5"/>
<rect x="157.38" y="305.01" width="9.32" height="9.31" fill="#fceced" stroke="#000" stroke-opacity="0.32" stroke-width="0.5"/>
<rect x="166.70" y="305.01" width="9.32" height="9.31" fill="#ffffff" stroke="#000" stroke-opacity="0.32" stroke-width="0.5"/>
<rect x="176.02" y="305.01" width="9.32" height="9.31" fill="#ffffff" stroke="#000" stroke-opacity="0.32" stroke-width="0.5"/>
<rect x="185.34" y="305.01" width="9.32" height="9.31" fill="#f8cfd1" stroke="#000" stroke-opacity="0.32" stroke-width="0.5"/>
<rect x="194.66" y="305.01" width="9.32" height="9.31" fill="#ffffff" stroke="#000" stroke-opacity="0.32" stroke-width="0.5"/>
<rect x="203.98" y="305.01" width="9.32" height="9.31" fill="#ffffff" stroke="#000" stroke-opacity="0.32" stroke-width="0.5"/>
<rect x="213.30" y="305.01" width="9.32" height="9.31" fill="#ffffff" stroke="#000" stroke-opacity="0.32" stroke-width="0.5"/>
<rect x="73.50" y="314.32" width="9.32" height="9.31" fill="#ffffff" stroke="#000" stroke-opacity="0.32" stroke-width="0.5"/>
<rect x="82.82" y="314.32" width="9.32" height="9.31" fill="#ffffff" stroke="#000" stroke-opacity="0.32" stroke-width="0.5"/>
<rect x="92.14" y="314.32" width="9.32" height="9.31" fill="#f8cfd1" stroke="#000" stroke-opacity="0.32" stroke-width="0.5"/>
<rect x="101.46" y="314.32" width="9.32" height="9.31" fill="#ffffff" stroke="#000" stroke-opacity="0.32" stroke-width="0.5"/>
<rect x="110.78" y="314.32" width="9.32" height="9.31" fill="#f09da1" stroke="#000" stroke-opacity="0.32" stroke-width="0.5"/>
<text x="115.44" y="321.27" font-size="7.6" fill="#fff" text-anchor="middle" font-weight="bold">&#8225;</text>
<rect x="120.10" y="314.32" width="9.32" height="9.31" fill="#ffffff" stroke="#000" stroke-opacity="0.32" stroke-width="0.5"/>
<rect x="129.42" y="314.32" width="9.32" height="9.31" fill="#ffffff" stroke="#000" stroke-opacity="0.32" stroke-width="0.5"/>
<rect x="138.74" y="314.32" width="9.32" height="9.31" fill="#f8cfd1" stroke="#000" stroke-opacity="0.32" stroke-width="0.5"/>
<rect x="148.06" y="314.32" width="9.32" height="9.31" fill="#ffffff" stroke="#000" stroke-opacity="0.32" stroke-width="0.5"/>
<rect x="157.38" y="314.32" width="9.32" height="9.31" fill="#f8cfd1" stroke="#000" stroke-opacity="0.32" stroke-width="0.5"/>
<rect x="166.70" y="314.32" width="9.32" height="9.31" fill="#ffffff" stroke="#000" stroke-opacity="0.32" stroke-width="0.5"/>
<rect x="176.02" y="314.32" width="9.32" height="9.31" fill="#ffffff" stroke="#000" stroke-opacity="0.32" stroke-width="0.5"/>
<rect x="185.34" y="314.32" width="9.32" height="9.31" fill="#ffffff" stroke="#000" stroke-opacity="0.32" stroke-width="0.5"/>
<rect x="194.66" y="314.32" width="9.32" height="9.31" fill="#ffffff" stroke="#000" stroke-opacity="0.32" stroke-width="0.5"/>
<rect x="203.98" y="314.32" width="9.32" height="9.31" fill="#ffffff" stroke="#000" stroke-opacity="0.32" stroke-width="0.5"/>
<rect x="73.50" y="323.63" width="9.32" height="9.31" fill="#f8cfd1" stroke="#000" stroke-opacity="0.32" stroke-width="0.5"/>
<rect x="82.82" y="323.63" width="9.32" height="9.31" fill="#ffffff" stroke="#000" stroke-opacity="0.32" stroke-width="0.5"/>
<rect x="92.14" y="323.63" width="9.32" height="9.31" fill="#f8cfd1" stroke="#000" stroke-opacity="0.32" stroke-width="0.5"/>
<rect x="101.46" y="323.63" width="9.32" height="9.31" fill="#edf1f7" stroke="#000" stroke-opacity="0.32" stroke-width="0.5"/>
<rect x="110.78" y="323.63" width="9.32" height="9.31" fill="#f4b5b9" stroke="#000" stroke-opacity="0.32" stroke-width="0.5"/>
<circle cx="115.44" cy="328.28" r="1.12" fill="#fff"/>
<rect x="120.10" y="323.63" width="9.32" height="9.31" fill="#d2dceb" stroke="#000" stroke-opacity="0.32" stroke-width="0.5"/>
<rect x="129.42" y="323.63" width="9.32" height="9.31" fill="#f8cfd1" stroke="#000" stroke-opacity="0.32" stroke-width="0.5"/>
<rect x="138.74" y="323.63" width="9.32" height="9.31" fill="#f8cfd1" stroke="#000" stroke-opacity="0.32" stroke-width="0.5"/>
<rect x="148.06" y="323.63" width="9.32" height="9.31" fill="#f8cfd1" stroke="#000" stroke-opacity="0.32" stroke-width="0.5"/>
<circle cx="152.72" cy="328.28" r="1.12" fill="#fff"/>
<rect x="157.38" y="323.63" width="9.32" height="9.31" fill="#adc0db" stroke="#000" stroke-opacity="0.32" stroke-width="0.5"/>
<text x="162.04" y="330.58" font-size="7.6" fill="#fff" text-anchor="middle" font-weight="bold">&#8225;</text>
<rect x="166.70" y="323.63" width="9.32" height="9.31" fill="#f6c2c5" stroke="#000" stroke-opacity="0.32" stroke-width="0.5"/>
<rect x="176.02" y="323.63" width="9.32" height="9.31" fill="#ffffff" stroke="#000" stroke-opacity="0.32" stroke-width="0.5"/>
<rect x="185.34" y="323.63" width="9.32" height="9.31" fill="#ffffff" stroke="#000" stroke-opacity="0.32" stroke-width="0.5"/>
<rect x="194.66" y="323.63" width="9.32" height="9.31" fill="#ffffff" stroke="#000" stroke-opacity="0.32" stroke-width="0.5"/>
<rect x="73.50" y="332.94" width="9.32" height="9.31" fill="#ffffff" stroke="#000" stroke-opacity="0.32" stroke-width="0.5"/>
<rect x="82.82" y="332.94" width="9.32" height="9.31" fill="#ffffff" stroke="#000" stroke-opacity="0.32" stroke-width="0.5"/>
<rect x="92.14" y="332.94" width="9.32" height="9.31" fill="#ffffff" stroke="#000" stroke-opacity="0.32" stroke-width="0.5"/>
<rect x="101.46" y="332.94" width="9.32" height="9.31" fill="#ffffff" stroke="#000" stroke-opacity="0.32" stroke-width="0.5"/>
<rect x="110.78" y="332.94" width="9.32" height="9.31" fill="#ffffff" stroke="#000" stroke-opacity="0.32" stroke-width="0.5"/>
<rect x="120.10" y="332.94" width="9.32" height="9.31" fill="#f6c2c5" stroke="#000" stroke-opacity="0.32" stroke-width="0.5"/>
<rect x="129.42" y="332.94" width="9.32" height="9.31" fill="#ffffff" stroke="#000" stroke-opacity="0.32" stroke-width="0.5"/>
<rect x="138.74" y="332.94" width="9.32" height="9.31" fill="#ffffff" stroke="#000" stroke-opacity="0.32" stroke-width="0.5"/>
<rect x="148.06" y="332.94" width="9.32" height="9.31" fill="#f8cfd1" stroke="#000" stroke-opacity="0.32" stroke-width="0.5"/>
<rect x="157.38" y="332.94" width="9.32" height="9.31" fill="#f09da1" stroke="#000" stroke-opacity="0.32" stroke-width="0.5"/>
<circle cx="160.64" cy="337.59" r="1.12" fill="#fff"/>
<circle cx="163.44" cy="337.59" r="1.12" fill="#fff"/>
<rect x="166.70" y="332.94" width="9.32" height="9.31" fill="#edf1f7" stroke="#000" stroke-opacity="0.32" stroke-width="0.5"/>
<rect x="176.02" y="332.94" width="9.32" height="9.31" fill="#ffffff" stroke="#000" stroke-opacity="0.32" stroke-width="0.5"/>
<rect x="185.34" y="332.94" width="9.32" height="9.31" fill="#f09da1" stroke="#000" stroke-opacity="0.32" stroke-width="0.5"/>
<circle cx="188.60" cy="337.59" r="1.12" fill="#fff"/>
<circle cx="191.40" cy="337.59" r="1.12" fill="#fff"/>
<rect x="73.50" y="342.25" width="9.32" height="9.31" fill="#f8cfd1" stroke="#000" stroke-opacity="0.32" stroke-width="0.5"/>
<rect x="82.82" y="342.25" width="9.32" height="9.31" fill="#f8cfd1" stroke="#000" stroke-opacity="0.32" stroke-width="0.5"/>
<rect x="92.14" y="342.25" width="9.32" height="9.31" fill="#fceced" stroke="#000" stroke-opacity="0.32" stroke-width="0.5"/>
<rect x="101.46" y="342.25" width="9.32" height="9.31" fill="#ffffff" stroke="#000" stroke-opacity="0.32" stroke-width="0.5"/>
<rect x="110.78" y="342.25" width="9.32" height="9.31" fill="#ffffff" stroke="#000" stroke-opacity="0.32" stroke-width="0.5"/>
<rect x="120.10" y="342.25" width="9.32" height="9.31" fill="#f8cfd1" stroke="#000" stroke-opacity="0.32" stroke-width="0.5"/>
<rect x="129.42" y="342.25" width="9.32" height="9.31" fill="#f8cfd1" stroke="#000" stroke-opacity="0.32" stroke-width="0.5"/>
<text x="134.08" y="349.20" font-size="7.6" fill="#fff" text-anchor="middle" font-weight="bold">&#8225;</text>
<rect x="138.74" y="342.25" width="9.32" height="9.31" fill="#f8cfd1" stroke="#000" stroke-opacity="0.32" stroke-width="0.5"/>
<rect x="148.06" y="342.25" width="9.32" height="9.31" fill="#ffffff" stroke="#000" stroke-opacity="0.32" stroke-width="0.5"/>
<rect x="157.38" y="342.25" width="9.32" height="9.31" fill="#f8cfd1" stroke="#000" stroke-opacity="0.32" stroke-width="0.5"/>
<rect x="166.70" y="342.25" width="9.32" height="9.31" fill="#f8cfd1" stroke="#000" stroke-opacity="0.32" stroke-width="0.5"/>
<rect x="176.02" y="342.25" width="9.32" height="9.31" fill="#f8cfd1" stroke="#000" stroke-opacity="0.32" stroke-width="0.5"/>
<rect x="73.50" y="351.56" width="9.32" height="9.31" fill="#f09da1" stroke="#000" stroke-opacity="0.32" stroke-width="0.5"/>
<text x="78.16" y="358.51" font-size="7.6" fill="#fff" text-anchor="middle" font-weight="bold">&#8225;</text>
<rect x="82.82" y="351.56" width="9.32" height="9.31" fill="#ffffff" stroke="#000" stroke-opacity="0.32" stroke-width="0.5"/>
<rect x="92.14" y="351.56" width="9.32" height="9.31" fill="#f8cfd1" stroke="#000" stroke-opacity="0.32" stroke-width="0.5"/>
<rect x="101.46" y="351.56" width="9.32" height="9.31" fill="#f8cfd1" stroke="#000" stroke-opacity="0.32" stroke-width="0.5"/>
<rect x="110.78" y="351.56" width="9.32" height="9.31" fill="#ffffff" stroke="#000" stroke-opacity="0.32" stroke-width="0.5"/>
<rect x="120.10" y="351.56" width="9.32" height="9.31" fill="#f8cfd1" stroke="#000" stroke-opacity="0.32" stroke-width="0.5"/>
<rect x="129.42" y="351.56" width="9.32" height="9.31" fill="#f8cfd1" stroke="#000" stroke-opacity="0.32" stroke-width="0.5"/>
<text x="134.08" y="358.51" font-size="7.6" fill="#fff" text-anchor="middle" font-weight="bold">&#8225;</text>
<rect x="138.74" y="351.56" width="9.32" height="9.31" fill="#ffffff" stroke="#000" stroke-opacity="0.32" stroke-width="0.5"/>
<rect x="148.06" y="351.56" width="9.32" height="9.31" fill="#f8cfd1" stroke="#000" stroke-opacity="0.32" stroke-width="0.5"/>
<rect x="157.38" y="351.56" width="9.32" height="9.31" fill="#ffffff" stroke="#000" stroke-opacity="0.32" stroke-width="0.5"/>
<rect x="166.70" y="351.56" width="9.32" height="9.31" fill="#ee9196" stroke="#000" stroke-opacity="0.32" stroke-width="0.5"/>
<circle cx="171.36" cy="356.21" r="1.12" fill="#fff"/>
<rect x="73.50" y="360.87" width="9.32" height="9.31" fill="#ffffff" stroke="#000" stroke-opacity="0.32" stroke-width="0.5"/>
<rect x="82.82" y="360.87" width="9.32" height="9.31" fill="#f8cfd1" stroke="#000" stroke-opacity="0.32" stroke-width="0.5"/>
<rect x="92.14" y="360.87" width="9.32" height="9.31" fill="#f8cfd1" stroke="#000" stroke-opacity="0.32" stroke-width="0.5"/>
<rect x="101.46" y="360.87" width="9.32" height="9.31" fill="#ffffff" stroke="#000" stroke-opacity="0.32" stroke-width="0.5"/>
<rect x="110.78" y="360.87" width="9.32" height="9.31" fill="#f7c9cb" stroke="#000" stroke-opacity="0.32" stroke-width="0.5"/>
<text x="115.44" y="367.82" font-size="7.6" fill="#fff" text-anchor="middle" font-weight="bold">&#8225;</text>
<rect x="120.10" y="360.87" width="9.32" height="9.31" fill="#ffffff" stroke="#000" stroke-opacity="0.32" stroke-width="0.5"/>
<rect x="129.42" y="360.87" width="9.32" height="9.31" fill="#f7c9cb" stroke="#000" stroke-opacity="0.32" stroke-width="0.5"/>
<circle cx="134.08" cy="365.52" r="1.12" fill="#fff"/>
<rect x="138.74" y="360.87" width="9.32" height="9.31" fill="#ffffff" stroke="#000" stroke-opacity="0.32" stroke-width="0.5"/>
<rect x="148.06" y="360.87" width="9.32" height="9.31" fill="#f8cfd1" stroke="#000" stroke-opacity="0.32" stroke-width="0.5"/>
<rect x="157.38" y="360.87" width="9.32" height="9.31" fill="#adc0db" stroke="#000" stroke-opacity="0.32" stroke-width="0.5"/>
<text x="162.04" y="367.82" font-size="7.6" fill="#fff" text-anchor="middle" font-weight="bold">&#8225;</text>
<rect x="73.50" y="370.18" width="9.32" height="9.31" fill="#ffffff" stroke="#000" stroke-opacity="0.32" stroke-width="0.5"/>
<rect x="82.82" y="370.18" width="9.32" height="9.31" fill="#ffffff" stroke="#000" stroke-opacity="0.32" stroke-width="0.5"/>
<rect x="92.14" y="370.18" width="9.32" height="9.31" fill="#2657a0" stroke="#000" stroke-opacity="0.32" stroke-width="0.5"/>
<text x="96.80" y="377.13" font-size="7.6" fill="#fff" text-anchor="middle" font-weight="bold">&#8225;</text>
<rect x="101.46" y="370.18" width="9.32" height="9.31" fill="#adc0db" stroke="#000" stroke-opacity="0.32" stroke-width="0.5"/>
<rect x="110.78" y="370.18" width="9.32" height="9.31" fill="#bfcde3" stroke="#000" stroke-opacity="0.32" stroke-width="0.5"/>
<rect x="120.10" y="370.18" width="9.32" height="9.31" fill="#fceced" stroke="#000" stroke-opacity="0.32" stroke-width="0.5"/>
<rect x="129.42" y="370.18" width="9.32" height="9.31" fill="#fadddf" stroke="#000" stroke-opacity="0.32" stroke-width="0.5"/>
<rect x="138.74" y="370.18" width="9.32" height="9.31" fill="#ffffff" stroke="#000" stroke-opacity="0.32" stroke-width="0.5"/>
<rect x="148.06" y="370.18" width="9.32" height="9.31" fill="#f2a9ad" stroke="#000" stroke-opacity="0.32" stroke-width="0.5"/>
<circle cx="151.32" cy="374.83" r="1.12" fill="#fff"/>
<circle cx="154.12" cy="374.83" r="1.12" fill="#fff"/>
<rect x="73.50" y="379.49" width="9.32" height="9.31" fill="#f4b5b9" stroke="#000" stroke-opacity="0.32" stroke-width="0.5"/>
<rect x="82.82" y="379.49" width="9.32" height="9.31" fill="#ffffff" stroke="#000" stroke-opacity="0.32" stroke-width="0.5"/>
<rect x="92.14" y="379.49" width="9.32" height="9.31" fill="#fadddf" stroke="#000" stroke-opacity="0.32" stroke-width="0.5"/>
<rect x="101.46" y="379.49" width="9.32" height="9.31" fill="#ffffff" stroke="#000" stroke-opacity="0.32" stroke-width="0.5"/>
<rect x="110.78" y="379.49" width="9.32" height="9.31" fill="#fadddf" stroke="#000" stroke-opacity="0.32" stroke-width="0.5"/>
<rect x="120.10" y="379.49" width="9.32" height="9.31" fill="#ffffff" stroke="#000" stroke-opacity="0.32" stroke-width="0.5"/>
<rect x="129.42" y="379.49" width="9.32" height="9.31" fill="#ffffff" stroke="#000" stroke-opacity="0.32" stroke-width="0.5"/>
<rect x="138.74" y="379.49" width="9.32" height="9.31" fill="#ffffff" stroke="#000" stroke-opacity="0.32" stroke-width="0.5"/>
<rect x="73.50" y="388.80" width="9.32" height="9.31" fill="#ffffff" stroke="#000" stroke-opacity="0.32" stroke-width="0.5"/>
<rect x="82.82" y="388.80" width="9.32" height="9.31" fill="#ffffff" stroke="#000" stroke-opacity="0.32" stroke-width="0.5"/>
<rect x="92.14" y="388.80" width="9.32" height="9.31" fill="#ffffff" stroke="#000" stroke-opacity="0.32" stroke-width="0.5"/>
<rect x="101.46" y="388.80" width="9.32" height="9.31" fill="#ffffff" stroke="#000" stroke-opacity="0.32" stroke-width="0.5"/>
<rect x="110.78" y="388.80" width="9.32" height="9.31" fill="#f09da1" stroke="#000" stroke-opacity="0.32" stroke-width="0.5"/>
<text x="115.44" y="395.75" font-size="7.6" fill="#fff" text-anchor="middle" font-weight="bold">&#8225;</text>
<rect x="120.10" y="388.80" width="9.32" height="9.31" fill="#ffffff" stroke="#000" stroke-opacity="0.32" stroke-width="0.5"/>
<rect x="129.42" y="388.80" width="9.32" height="9.31" fill="#ffffff" stroke="#000" stroke-opacity="0.32" stroke-width="0.5"/>
<rect x="73.50" y="398.11" width="9.32" height="9.31" fill="#f9d6d8" stroke="#000" stroke-opacity="0.32" stroke-width="0.5"/>
<rect x="82.82" y="398.11" width="9.32" height="9.31" fill="#f5bcbf" stroke="#000" stroke-opacity="0.32" stroke-width="0.5"/>
<rect x="92.14" y="398.11" width="9.32" height="9.31" fill="#ffffff" stroke="#000" stroke-opacity="0.32" stroke-width="0.5"/>
<rect x="101.46" y="398.11" width="9.32" height="9.31" fill="#fadddf" stroke="#000" stroke-opacity="0.32" stroke-width="0.5"/>
<rect x="110.78" y="398.11" width="9.32" height="9.31" fill="#ffffff" stroke="#000" stroke-opacity="0.32" stroke-width="0.5"/>
<rect x="120.10" y="398.11" width="9.32" height="9.31" fill="#ffffff" stroke="#000" stroke-opacity="0.32" stroke-width="0.5"/>
<rect x="73.50" y="407.42" width="9.32" height="9.31" fill="#f4b5b9" stroke="#000" stroke-opacity="0.32" stroke-width="0.5"/>
<rect x="82.82" y="407.42" width="9.32" height="9.31" fill="#f4b5b9" stroke="#000" stroke-opacity="0.32" stroke-width="0.5"/>
<rect x="92.14" y="407.42" width="9.32" height="9.31" fill="#ffffff" stroke="#000" stroke-opacity="0.32" stroke-width="0.5"/>
<rect x="101.46" y="407.42" width="9.32" height="9.31" fill="#fadddf" stroke="#000" stroke-opacity="0.32" stroke-width="0.5"/>
<rect x="110.78" y="407.42" width="9.32" height="9.31" fill="#fadddf" stroke="#000" stroke-opacity="0.32" stroke-width="0.5"/>
<rect x="73.50" y="416.73" width="9.32" height="9.31" fill="#ffffff" stroke="#000" stroke-opacity="0.32" stroke-width="0.5"/>
<rect x="82.82" y="416.73" width="9.32" height="9.31" fill="#f4b5b9" stroke="#000" stroke-opacity="0.32" stroke-width="0.5"/>
<rect x="92.14" y="416.73" width="9.32" height="9.31" fill="#ffffff" stroke="#000" stroke-opacity="0.32" stroke-width="0.5"/>
<rect x="101.46" y="416.73" width="9.32" height="9.31" fill="#ffffff" stroke="#000" stroke-opacity="0.32" stroke-width="0.5"/>
<rect x="73.50" y="426.04" width="9.32" height="9.31" fill="#ffffff" stroke="#000" stroke-opacity="0.32" stroke-width="0.5"/>
<rect x="82.82" y="426.04" width="9.32" height="9.31" fill="#f4b5b9" stroke="#000" stroke-opacity="0.32" stroke-width="0.5"/>
<rect x="92.14" y="426.04" width="9.32" height="9.31" fill="#fadddf" stroke="#000" stroke-opacity="0.32" stroke-width="0.5"/>
<rect x="73.50" y="435.35" width="9.32" height="9.31" fill="#ee9196" stroke="#000" stroke-opacity="0.32" stroke-width="0.5"/>
<circle cx="78.16" cy="440.00" r="1.12" fill="#fff"/>
<rect x="82.82" y="435.35" width="9.32" height="9.31" fill="#ee9196" stroke="#000" stroke-opacity="0.32" stroke-width="0.5"/>
<text x="87.48" y="442.31" font-size="7.6" fill="#fff" text-anchor="middle" font-weight="bold">&#8225;</text>
<rect x="73.50" y="444.66" width="9.32" height="9.31" fill="#ffffff" stroke="#000" stroke-opacity="0.32" stroke-width="0.5"/>
<text x="70.30" y="209.75" font-size="6.8" fill="#222" text-anchor="end" font-style="italic" stroke="#222" stroke-width="0.12">BCR::ABL1</text>
<text x="70.30" y="219.06" font-size="6.8" fill="#222" text-anchor="end" stroke="#222" stroke-width="0.12">Ph-like</text>
<text x="70.30" y="228.38" font-size="6.8" fill="#222" text-anchor="end" font-style="italic" stroke="#222" stroke-width="0.12">KMT2Ar</text>
<text x="70.30" y="237.69" font-size="6.8" fill="#222" text-anchor="end" stroke="#222" stroke-width="0.12">Low hypodiploidy</text>
<text x="70.30" y="247.00" font-size="6.8" fill="#222" text-anchor="end" stroke="#222" stroke-width="0.12">High hyperdiploidy</text>
<text x="70.30" y="256.31" font-size="6.8" fill="#222" text-anchor="end" stroke="#222" stroke-width="0.12"><tspan font-style="italic">PAX5</tspan> alterations</text>
<text x="70.30" y="265.61" font-size="6.8" fill="#222" text-anchor="end" font-style="italic" stroke="#222" stroke-width="0.12">ZNF384r</text>
<text x="71.00" y="274.92" font-size="7.1" fill="#25356a" text-anchor="end" font-style="italic" stroke="#25356a" stroke-width="0.12">TP53</text>
<text x="71.00" y="284.23" font-size="7.1" fill="#3a78d0" text-anchor="end" font-style="italic" stroke="#3a78d0" stroke-width="0.12">DNMT3A</text>
<text x="71.00" y="293.54" font-size="7.1" fill="#3a78d0" text-anchor="end" font-style="italic" stroke="#3a78d0" stroke-width="0.12">TET2</text>
<text x="71.00" y="302.85" font-size="7.1" fill="#3a78d0" text-anchor="end" font-style="italic" stroke="#3a78d0" stroke-width="0.12">ASXL1</text>
<text x="71.00" y="312.16" font-size="7.1" fill="#3a78d0" text-anchor="end" font-style="italic" stroke="#3a78d0" stroke-width="0.12">RUNX1</text>
<text x="71.00" y="321.47" font-size="7.1" fill="#3a78d0" text-anchor="end" font-style="italic" stroke="#3a78d0" stroke-width="0.12">BCORL1</text>
<text x="71.00" y="330.78" font-size="7.1" fill="#d8207a" text-anchor="end" font-style="italic" stroke="#d8207a" stroke-width="0.12">NRAS</text>
<text x="71.00" y="340.09" font-size="7.1" fill="#d8207a" text-anchor="end" font-style="italic" stroke="#d8207a" stroke-width="0.12">JAK2</text>
<text x="71.00" y="349.40" font-size="7.1" fill="#d8207a" text-anchor="end" font-style="italic" stroke="#d8207a" stroke-width="0.12">KRAS</text>
<text x="71.00" y="358.71" font-size="7.1" fill="#d8207a" text-anchor="end" font-style="italic" stroke="#d8207a" stroke-width="0.12">FLT3</text>
<text x="71.00" y="368.02" font-size="7.1" fill="#d8207a" text-anchor="end" font-style="italic" stroke="#d8207a" stroke-width="0.12">PTPN11</text>
<text x="71.00" y="377.33" font-size="7.1" fill="#2a962a" text-anchor="end" font-style="italic" stroke="#2a962a" stroke-width="0.12">IKZF1</text>
<text x="71.00" y="386.64" font-size="7.1" fill="#2a962a" text-anchor="end" font-style="italic" stroke="#2a962a" stroke-width="0.12">ETV6</text>
<text x="71.00" y="395.95" font-size="7.1" fill="#2a962a" text-anchor="end" font-style="italic" stroke="#2a962a" stroke-width="0.12">ATRX</text>
<text x="71.00" y="405.26" font-size="7.1" fill="#6b4a1e" text-anchor="end" font-style="italic" stroke="#6b4a1e" stroke-width="0.12">CDKN2A</text>
<text x="71.00" y="414.57" font-size="7.1" fill="#6b4a1e" text-anchor="end" font-style="italic" stroke="#6b4a1e" stroke-width="0.12">RB1</text>
<text x="71.00" y="423.88" font-size="7.1" fill="#f0902a" text-anchor="end" font-style="italic" stroke="#f0902a" stroke-width="0.12">SETD2</text>
<text x="71.00" y="433.19" font-size="7.1" fill="#f0902a" text-anchor="end" font-style="italic" stroke="#f0902a" stroke-width="0.12">KMT2D</text>
<text x="71.00" y="442.50" font-size="7.1" fill="#f0902a" text-anchor="end" font-style="italic" stroke="#f0902a" stroke-width="0.12">CREBBP</text>
<text x="71.00" y="451.81" font-size="7.1" fill="#f0902a" text-anchor="end" font-style="italic" stroke="#f0902a" stroke-width="0.12">KDM6A</text>
<text x="80.16" y="199.50" font-size="7.5" fill="#7a2ab8" text-anchor="start" font-style="italic" transform="rotate(-90 80.16 199.50)" stroke="#7a2ab8" stroke-width="0.12">CXCR4</text>
<text x="89.48" y="199.50" font-size="7.5" fill="#f0902a" text-anchor="start" font-style="italic" transform="rotate(-90 89.48 199.50)" stroke="#f0902a" stroke-width="0.12">KDM6A</text>
<text x="98.80" y="199.50" font-size="7.5" fill="#f0902a" text-anchor="start" font-style="italic" transform="rotate(-90 98.80 199.50)" stroke="#f0902a" stroke-width="0.12">CREBBP</text>
<text x="108.12" y="199.50" font-size="7.5" fill="#f0902a" text-anchor="start" font-style="italic" transform="rotate(-90 108.12 199.50)" stroke="#f0902a" stroke-width="0.12">KMT2D</text>
<text x="117.44" y="199.50" font-size="7.5" fill="#f0902a" text-anchor="start" font-style="italic" transform="rotate(-90 117.44 199.50)" stroke="#f0902a" stroke-width="0.12">SETD2</text>
<text x="126.76" y="199.50" font-size="7.5" fill="#6b4a1e" text-anchor="start" font-style="italic" transform="rotate(-90 126.76 199.50)" stroke="#6b4a1e" stroke-width="0.12">RB1</text>
<text x="136.08" y="199.50" font-size="7.5" fill="#6b4a1e" text-anchor="start" font-style="italic" transform="rotate(-90 136.08 199.50)" stroke="#6b4a1e" stroke-width="0.12">CDKN2A</text>
<text x="145.40" y="199.50" font-size="7.5" fill="#2a962a" text-anchor="start" font-style="italic" transform="rotate(-90 145.40 199.50)" stroke="#2a962a" stroke-width="0.12">ATRX</text>
<text x="154.72" y="199.50" font-size="7.5" fill="#2a962a" text-anchor="start" font-style="italic" transform="rotate(-90 154.72 199.50)" stroke="#2a962a" stroke-width="0.12">ETV6</text>
<text x="164.04" y="199.50" font-size="7.5" fill="#2a962a" text-anchor="start" font-style="italic" transform="rotate(-90 164.04 199.50)" stroke="#2a962a" stroke-width="0.12">IKZF1</text>
<text x="173.36" y="199.50" font-size="7.5" fill="#d8207a" text-anchor="start" font-style="italic" transform="rotate(-90 173.36 199.50)" stroke="#d8207a" stroke-width="0.12">PTPN11</text>
<text x="182.68" y="199.50" font-size="7.5" fill="#d8207a" text-anchor="start" font-style="italic" transform="rotate(-90 182.68 199.50)" stroke="#d8207a" stroke-width="0.12">FLT3</text>
<text x="192.00" y="199.50" font-size="7.5" fill="#d8207a" text-anchor="start" font-style="italic" transform="rotate(-90 192.00 199.50)" stroke="#d8207a" stroke-width="0.12">KRAS</text>
<text x="201.32" y="199.50" font-size="7.5" fill="#d8207a" text-anchor="start" font-style="italic" transform="rotate(-90 201.32 199.50)" stroke="#d8207a" stroke-width="0.12">JAK2</text>
<text x="210.64" y="199.50" font-size="7.5" fill="#d8207a" text-anchor="start" font-style="italic" transform="rotate(-90 210.64 199.50)" stroke="#d8207a" stroke-width="0.12">NRAS</text>
<text x="219.96" y="199.50" font-size="7.5" fill="#3a78d0" text-anchor="start" font-style="italic" transform="rotate(-90 219.96 199.50)" stroke="#3a78d0" stroke-width="0.12">BCORL1</text>
<text x="229.28" y="199.50" font-size="7.5" fill="#3a78d0" text-anchor="start" font-style="italic" transform="rotate(-90 229.28 199.50)" stroke="#3a78d0" stroke-width="0.12">RUNX1</text>
<text x="238.60" y="199.50" font-size="7.5" fill="#3a78d0" text-anchor="start" font-style="italic" transform="rotate(-90 238.60 199.50)" stroke="#3a78d0" stroke-width="0.12">ASXL1</text>
<text x="247.92" y="199.50" font-size="7.5" fill="#3a78d0" text-anchor="start" font-style="italic" transform="rotate(-90 247.92 199.50)" stroke="#3a78d0" stroke-width="0.12">TET2</text>
<text x="257.24" y="199.50" font-size="7.5" fill="#3a78d0" text-anchor="start" font-style="italic" transform="rotate(-90 257.24 199.50)" stroke="#3a78d0" stroke-width="0.12">DNMT3A</text>
<text x="266.56" y="199.50" font-size="7.5" fill="#15151f" text-anchor="start" font-style="italic" transform="rotate(-90 266.56 199.50)" stroke="#15151f" stroke-width="0.12">TP53</text>
<text x="278.35" y="199.50" font-size="7.55" fill="#222" text-anchor="start" font-style="italic" transform="rotate(-90 278.35 199.50)" stroke="#222" stroke-width="0.12">ZNF384r</text>
<text x="287.35" y="199.50" font-size="7.55" fill="#222" text-anchor="start" transform="rotate(-90 287.35 199.50)" stroke="#222" stroke-width="0.12"><tspan font-style="italic">PAX5</tspan> alterations</text>
<text x="296.35" y="199.50" font-size="7.55" fill="#222" text-anchor="start" transform="rotate(-90 296.35 199.50)" stroke="#222" stroke-width="0.12">High hyperdiploidy</text>
<text x="305.35" y="199.50" font-size="7.55" fill="#222" text-anchor="start" transform="rotate(-90 305.35 199.50)" stroke="#222" stroke-width="0.12">Low hypodiploidy</text>
<text x="314.35" y="199.50" font-size="7.55" fill="#222" text-anchor="start" font-style="italic" transform="rotate(-90 314.35 199.50)" stroke="#222" stroke-width="0.12">KMT2Ar</text>
<text x="323.35" y="199.50" font-size="7.55" fill="#222" text-anchor="start" transform="rotate(-90 323.35 199.50)" stroke="#222" stroke-width="0.12">Ph-like</text>
<line x1="18.5" y1="267.8" x2="269.0" y2="267.8" stroke="#222" stroke-width="0.9"/>
<line x1="269.0" y1="157.3" x2="269.0" y2="267.8" stroke="#222" stroke-width="0.9"/>
<text x="9.90" y="234.20" font-size="7.4" fill="#222" text-anchor="middle" transform="rotate(-90 9.90 234.20)" stroke="#222" stroke-width="0.12">B-ALL subtype</text>
<text x="9.70" y="360.00" font-size="7.4" fill="#222" text-anchor="middle" transform="rotate(-90 9.70 360.00)" stroke="#222" stroke-width="0.12">Gene mutations</text>
<circle cx="147.0" cy="409.50" r="2.2" fill="#2f7fe0"/>
<text x="151.60" y="412.10" font-size="7.5" fill="#2f7fe0" text-anchor="start" stroke="#2f7fe0" stroke-width="0.12">Myeloid genes</text>
<circle cx="147.0" cy="417.95" r="2.2" fill="#d8207a"/>
<text x="151.60" y="420.55" font-size="7.5" fill="#d8207a" text-anchor="start" stroke="#d8207a" stroke-width="0.12">Signaling</text>
<circle cx="147.0" cy="426.40" r="2.2" fill="#1c8a2c"/>
<text x="151.60" y="429.00" font-size="7.5" fill="#1c8a2c" text-anchor="start" stroke="#1c8a2c" stroke-width="0.12">Transcription</text>
<circle cx="147.0" cy="434.85" r="2.2" fill="#7a5020"/>
<text x="151.60" y="437.45" font-size="7.5" fill="#7a5020" text-anchor="start" stroke="#7a5020" stroke-width="0.12">Cell cycle</text>
<circle cx="147.0" cy="443.30" r="2.2" fill="#f08c2a"/>
<text x="151.60" y="445.90" font-size="7.5" fill="#f08c2a" text-anchor="start" stroke="#f08c2a" stroke-width="0.12">Epigenetic</text>
<circle cx="147.0" cy="451.75" r="2.2" fill="#6a1fa8"/>
<text x="151.60" y="454.35" font-size="7.5" fill="#6a1fa8" text-anchor="start" stroke="#6a1fa8" stroke-width="0.12">Other</text>
<text x="204.30" y="420.30" font-size="7.8" fill="#222" text-anchor="middle" stroke="#222" stroke-width="0.12">&#8225;</text>
<text x="218.40" y="420.10" font-size="7.1" fill="#222" text-anchor="start" stroke="#222" stroke-width="0.12"><tspan font-style="italic">q</tspan> &lt; 0.1</text>
<circle cx="204.20" cy="426.05" r="1.7" fill="#111"/>
<text x="218.40" y="428.55" font-size="7.1" fill="#222" text-anchor="start" stroke="#222" stroke-width="0.12"><tspan font-style="italic">q</tspan> &lt; 0.05</text>
<circle cx="204.20" cy="434.50" r="1.7" fill="#111"/>
<circle cx="208.30" cy="434.50" r="1.7" fill="#111"/>
<text x="218.40" y="437.00" font-size="7.1" fill="#222" text-anchor="start" stroke="#222" stroke-width="0.12"><tspan font-style="italic">q</tspan> &lt; 0.01</text>
<circle cx="204.20" cy="442.95" r="1.7" fill="#111"/>
<circle cx="208.30" cy="442.95" r="1.7" fill="#111"/>
<circle cx="212.40" cy="442.95" r="1.7" fill="#111"/>
<text x="218.40" y="445.45" font-size="7.1" fill="#222" text-anchor="start" stroke="#222" stroke-width="0.12"><tspan font-style="italic">q</tspan> &lt; 0.001</text>
<defs><linearGradient id="cb" x1="0" x2="1" y1="0" y2="0"><stop offset="0" stop-color="#1c4f9c"/><stop offset="0.5" stop-color="#ffffff"/><stop offset="1" stop-color="#e2101c"/></linearGradient></defs>
<rect x="141.6" y="468.9" width="70.6" height="8.3" fill="url(#cb)" stroke="#333" stroke-width="0.4"/>
<line x1="141.60" y1="468.9" x2="141.60" y2="470.6" stroke="#222" stroke-width="0.6"/>
<line x1="141.60" y1="475.5" x2="141.60" y2="477.2" stroke="#222" stroke-width="0.6"/>
<text x="141.60" y="486.90" font-size="7.5" fill="#222" text-anchor="middle" stroke="#222" stroke-width="0.12">&#8722;2</text>
<line x1="159.25" y1="468.9" x2="159.25" y2="470.6" stroke="#222" stroke-width="0.6"/>
<line x1="159.25" y1="475.5" x2="159.25" y2="477.2" stroke="#222" stroke-width="0.6"/>
<text x="159.25" y="486.90" font-size="7.5" fill="#222" text-anchor="middle" stroke="#222" stroke-width="0.12">&#8722;1</text>
<line x1="176.90" y1="468.9" x2="176.90" y2="470.6" stroke="#222" stroke-width="0.6"/>
<line x1="176.90" y1="475.5" x2="176.90" y2="477.2" stroke="#222" stroke-width="0.6"/>
<text x="176.90" y="486.90" font-size="7.5" fill="#222" text-anchor="middle" stroke="#222" stroke-width="0.12">0</text>
<line x1="194.55" y1="468.9" x2="194.55" y2="470.6" stroke="#222" stroke-width="0.6"/>
<line x1="194.55" y1="475.5" x2="194.55" y2="477.2" stroke="#222" stroke-width="0.6"/>
<text x="194.55" y="486.90" font-size="7.5" fill="#222" text-anchor="middle" stroke="#222" stroke-width="0.12">1</text>
<line x1="212.20" y1="468.9" x2="212.20" y2="470.6" stroke="#222" stroke-width="0.6"/>
<line x1="212.20" y1="475.5" x2="212.20" y2="477.2" stroke="#222" stroke-width="0.6"/>
<text x="212.20" y="486.90" font-size="7.5" fill="#222" text-anchor="middle" stroke="#222" stroke-width="0.12">2</text>
<text x="176.90" y="464.50" font-size="7.5" fill="#222" text-anchor="middle" stroke="#222" stroke-width="0.12">Log (OR)</text>
<text x="138.30" y="470.60" font-size="7.5" fill="#222" text-anchor="end" stroke="#222" stroke-width="0.12">Mutually</text>
<text x="138.60" y="479.20" font-size="7.5" fill="#222" text-anchor="end" stroke="#222" stroke-width="0.12">exclusive</text>
<text x="215.40" y="475.50" font-size="7.5" fill="#222" text-anchor="start" stroke="#222" stroke-width="0.12">Comutated</text>
<text x="374.80" y="154.20" font-size="10.6" fill="#111" text-anchor="start" font-weight="bold" stroke="#111" stroke-width="0.12">D</text>
<text x="448.50" y="155.50" font-size="7.5" fill="#111" text-anchor="middle" stroke="#111" stroke-width="0.12"><tspan font-style="italic">TP53</tspan>-mutated B-ALL (<tspan font-style="italic">n</tspan> = 60)</text>
<path d="M490.32,196.40 L490.30,197.00 L490.24,197.60 L490.13,198.20 L489.99,198.80 L489.81,199.40 L489.58,200.01 L489.31,200.61 L489.00,201.21 L488.64,201.81 L488.24,202.41 L487.80,203.00 L487.31,203.59 L486.78,204.18 L486.20,204.76 L485.58,205.33 L484.91,205.89 L484.21,206.45 L483.45,207.00 L482.66,207.54 L481.82,208.06 L480.94,208.58 L480.02,209.08 L479.06,209.57 L478.05,210.05 L477.01,210.51 L475.93,210.96 L474.82,211.39 L473.67,211.80 L472.48,212.20 L471.26,212.57 L470.01,212.93 L468.73,213.27 L467.42,213.59 L466.09,213.88 L464.73,214.15 L463.34,214.41 L461.94,214.63 L460.52,214.84 L459.07,215.02 L459.07,222.99 L460.52,222.79 L461.94,222.58 L463.34,222.33 L464.73,222.07 L466.09,221.78 L467.42,221.46 L468.73,221.13 L470.01,220.77 L471.26,220.39 L472.48,219.99 L473.67,219.57 L474.82,219.13 L475.93,218.68 L477.01,218.20 L478.05,217.71 L479.06,217.21 L480.02,216.69 L480.94,216.15 L481.82,215.60 L482.66,215.04 L483.45,214.47 L484.21,213.89 L484.91,213.30 L485.58,212.70 L486.20,212.09 L486.78,211.48 L487.31,210.86 L487.80,210.23 L488.24,209.60 L488.64,208.97 L489.00,208.33 L489.31,207.69 L489.58,207.05 L489.81,206.41 L489.99,205.77 L490.13,205.13 L490.24,204.50 L490.30,203.86 L490.32,203.23 Z" fill="#0e4f7c" stroke="#0e4f7c" stroke-width="0.3"/>
<path d="M459.07,215.02 L457.61,215.18 L456.13,215.31 L454.65,215.42 L453.15,215.50 L451.65,215.56 L450.14,215.59 L448.64,215.60 L447.13,215.58 L445.63,215.54 L444.13,215.47 L442.63,215.37 L441.15,215.25 L439.68,215.11 L438.23,214.94 L436.79,214.74 L435.36,214.52 L433.96,214.28 L433.96,222.20 L435.36,222.46 L436.79,222.69 L438.23,222.90 L439.68,223.08 L441.15,223.23 L442.63,223.36 L444.13,223.46 L445.63,223.53 L447.13,223.58 L448.64,223.60 L450.14,223.59 L451.65,223.56 L453.15,223.50 L454.65,223.41 L456.13,223.29 L457.61,223.15 L459.07,222.99 Z" fill="#5a3a20" stroke="#5a3a20" stroke-width="0.3"/>
<path d="M433.96,214.28 L432.41,213.98 L430.89,213.66 L429.40,213.30 L427.95,212.92 L426.54,212.52 L425.17,212.08 L425.17,219.87 L426.54,220.33 L427.95,220.76 L429.40,221.16 L430.89,221.54 L432.41,221.89 L433.96,222.20 Z" fill="#b00808" stroke="#b00808" stroke-width="0.3"/>
<path d="M425.17,212.08 L424.01,211.69 L422.88,211.27 L421.78,210.84 L420.72,210.40 L419.70,209.94 L418.72,209.46 L417.77,208.97 L416.87,208.47 L416.01,207.96 L415.19,207.43 L414.41,206.90 L413.67,206.36 L412.98,205.80 L412.33,205.24 L411.72,204.67 L411.15,204.10 L410.63,203.52 L410.15,202.94 L409.72,202.35 L409.32,201.76 L408.98,201.16 L408.67,200.57 L408.40,199.97 L408.18,199.37 L408.00,198.78 L407.86,198.18 L407.76,197.59 L407.70,196.99 L407.68,196.40 L407.68,203.23 L407.70,203.85 L407.76,204.48 L407.86,205.12 L408.00,205.75 L408.18,206.38 L408.40,207.02 L408.67,207.65 L408.98,208.28 L409.32,208.91 L409.72,209.54 L410.15,210.16 L410.63,210.78 L411.15,211.40 L411.72,212.01 L412.33,212.61 L412.98,213.20 L413.67,213.79 L414.41,214.37 L415.19,214.93 L416.01,215.49 L416.87,216.04 L417.77,216.57 L418.72,217.09 L419.70,217.59 L420.72,218.08 L421.78,218.55 L422.88,219.01 L424.01,219.45 L425.17,219.87 Z" fill="#cc760e" stroke="#cc760e" stroke-width="0.3"/>
<path d="M449.00,193.10 L449.00,177.20 L450.20,177.21 L451.40,177.24 L452.60,177.28 L453.79,177.33 L454.98,177.41 L456.17,177.50 Z" fill="#1f64c0" stroke="#1f64c0" stroke-width="0.3"/>
<path d="M449.00,193.10 L456.17,177.50 L457.21,177.59 L458.24,177.69 L459.27,177.81 L460.29,177.94 L461.31,178.08 L462.32,178.23 L463.32,178.39 L464.32,178.57 L465.31,178.76 L466.29,178.97 L467.26,179.18 L468.21,179.41 L469.16,179.65 L470.10,179.90 L471.02,180.16 L471.94,180.43 L472.84,180.72 L473.72,181.02 L474.59,181.33 L475.45,181.65 L476.29,181.99 L477.11,182.33 L477.91,182.69 L478.70,183.06 L479.47,183.44 L480.22,183.83 L480.95,184.23 L481.65,184.64 L482.34,185.06 L483.00,185.50 L483.64,185.94 L484.26,186.39 L484.85,186.86 L485.41,187.33 L485.95,187.81 L486.46,188.30 L486.94,188.81 L487.40,189.32 L487.82,189.83 L488.22,190.36 L488.58,190.89 L488.91,191.43 L489.21,191.98 L489.47,192.54 L489.70,193.10 L489.89,193.67 L490.05,194.24 L490.17,194.82 L490.26,195.40 L490.31,195.99 L490.31,196.58 L490.28,197.17 L490.21,197.76 L490.10,198.36 L489.95,198.96 L489.75,199.56 L489.52,200.16 L489.24,200.76 L488.92,201.35 L488.56,201.95 L488.15,202.54 L487.70,203.13 L487.20,203.71 L486.67,204.29 L486.09,204.86 L485.46,205.43 L484.79,205.99 L484.08,206.54 L483.33,207.08 L482.53,207.62 L481.70,208.14 L480.82,208.65 L479.90,209.15 L478.94,209.63 L477.94,210.10 L476.90,210.56 L475.83,211.00 L474.72,211.43 L473.57,211.84 L472.39,212.23 L471.18,212.60 L469.94,212.95 L468.66,213.29 L467.36,213.60 L466.04,213.89 L464.69,214.16 L463.31,214.41 L461.92,214.64 L460.50,214.84 L459.07,215.02 Z" fill="#22a8e8" stroke="#22a8e8" stroke-width="0.3"/>
<path d="M449.00,193.10 L459.07,215.02 L457.61,215.18 L456.13,215.31 L454.65,215.42 L453.15,215.50 L451.65,215.56 L450.14,215.59 L448.64,215.60 L447.13,215.58 L445.63,215.54 L444.13,215.47 L442.63,215.37 L441.15,215.25 L439.68,215.11 L438.23,214.94 L436.79,214.74 L435.36,214.52 L433.96,214.28 Z" fill="#8c5a32" stroke="#8c5a32" stroke-width="0.3"/>
<path d="M449.00,193.10 L433.96,214.28 L432.41,213.98 L430.89,213.66 L429.40,213.30 L427.95,212.92 L426.54,212.52 L425.17,212.08 Z" fill="#ee1010" stroke="#ee1010" stroke-width="0.3"/>
<path d="M449.00,193.10 L425.17,212.08 L424.01,211.69 L422.88,211.28 L421.79,210.85 L420.74,210.41 L419.72,209.95 L418.74,209.47 L417.80,208.99 L416.90,208.49 L416.04,207.98 L415.22,207.45 L414.44,206.92 L413.70,206.38 L413.01,205.83 L412.36,205.27 L411.75,204.70 L411.18,204.13 L410.66,203.56 L410.18,202.97 L409.74,202.39 L409.35,201.80 L409.00,201.21 L408.69,200.61 L408.42,200.02 L408.20,199.42 L408.02,198.83 L407.87,198.23 L407.77,197.64 L407.71,197.05 L407.68,196.46 L407.70,195.88 L407.75,195.29 L407.84,194.72 L407.97,194.14 L408.13,193.57 L408.33,193.01 L408.57,192.45 L408.83,191.90 L409.14,191.36 L409.47,190.82 L409.83,190.29 L410.23,189.77 L410.65,189.26 L411.11,188.75 L411.59,188.25 L412.10,187.77 L412.64,187.29 L413.20,186.82 L413.79,186.36 L414.41,185.91 L415.04,185.47 L415.70,185.04 L416.39,184.62 L417.09,184.21 L417.81,183.81 L418.56,183.42 L419.32,183.05 L420.11,182.68 L420.91,182.33 L421.72,181.98 L422.56,181.65 L423.41,181.33 L424.27,181.02 L425.15,180.72 L426.05,180.44 L426.95,180.17 L427.87,179.90 L428.80,179.65 L429.75,179.42 L430.70,179.19 L431.66,178.98 L432.63,178.77 L433.61,178.58 L434.60,178.41 L435.60,178.24 L436.60,178.09 L437.61,177.95 L438.63,177.82 L439.65,177.70 L440.68,177.60 L441.71,177.51 L442.74,177.43 L443.78,177.36 L444.82,177.30 L445.86,177.26 L446.91,177.23 L447.95,177.21 L449.00,177.20 Z" fill="#f7941d" stroke="#f7941d" stroke-width="0.3"/>
<text x="399.00" y="173.60" font-size="7.5" fill="#f0941e" text-anchor="middle" stroke="#f0941e" stroke-width="0.12">B-other</text>
<text x="399.00" y="182.60" font-size="7.5" fill="#f0941e" text-anchor="middle" stroke="#f0941e" stroke-width="0.12">(41.7%)</text>
<text x="452.50" y="166.00" font-size="7.5" fill="#2a6cc0" text-anchor="middle" font-style="italic" stroke="#2a6cc0" stroke-width="0.12">BCR::ABL1</text>
<text x="452.50" y="173.80" font-size="7.5" fill="#2a6cc0" text-anchor="middle" stroke="#2a6cc0" stroke-width="0.12">(3.3%)</text>
<text x="496.50" y="166.80" font-size="7.5" fill="#3aa2e0" text-anchor="middle" stroke="#3aa2e0" stroke-width="0.12">Low</text>
<text x="496.50" y="175.20" font-size="7.5" fill="#3aa2e0" text-anchor="middle" stroke="#3aa2e0" stroke-width="0.12">hypodiploidy</text>
<text x="496.50" y="183.40" font-size="7.5" fill="#3aa2e0" text-anchor="middle" stroke="#3aa2e0" stroke-width="0.12">(43.4%)</text>
<text x="411.00" y="230.60" font-size="7.5" fill="#e0404a" text-anchor="middle" font-style="italic" stroke="#e0404a" stroke-width="0.12">BCL/MYC</text>
<text x="411.00" y="240.50" font-size="7.5" fill="#e0404a" text-anchor="middle" stroke="#e0404a" stroke-width="0.12">(3.3%)</text>
<text x="449.50" y="232.50" font-size="7.5" fill="#8a6030" text-anchor="middle" font-style="italic" stroke="#8a6030" stroke-width="0.12">KMT2Ar</text>
<text x="449.50" y="241.00" font-size="7.5" fill="#8a6030" text-anchor="middle" stroke="#8a6030" stroke-width="0.12">(8.3%)</text>
<text x="449.00" y="256.00" font-size="7.5" fill="#111" text-anchor="middle" stroke="#111" stroke-width="0.12">B-ALL with MyM (<tspan font-style="italic">n</tspan> = 44)</text>
<path d="M489.84,299.25 L489.82,299.82 L489.76,300.39 L489.66,300.96 L489.52,301.54 L489.34,302.11 L489.12,302.69 L488.86,303.27 L488.55,303.84 L488.20,304.42 L487.81,304.99 L487.38,305.55 L486.90,306.12 L486.38,306.68 L485.82,307.23 L485.21,307.78 L484.56,308.32 L483.87,308.85 L483.13,309.38 L482.35,309.89 L481.53,310.40 L480.67,310.89 L479.77,311.38 L478.83,311.85 L477.85,312.31 L476.83,312.75 L475.77,313.18 L474.68,313.60 L473.55,313.99 L472.39,314.37 L471.19,314.74 L469.96,315.08 L468.71,315.41 L467.42,315.71 L466.11,316.00 L464.78,316.27 L463.42,316.51 L462.04,316.73 L460.64,316.93 L459.22,317.11 L457.79,317.27 L456.35,317.40 L454.89,317.51 L453.42,317.59 L451.95,317.65 L450.48,317.69 L449.00,317.70 L449.00,327.50 L450.48,327.49 L451.95,327.45 L453.42,327.38 L454.89,327.29 L456.35,327.17 L457.79,327.03 L459.22,326.86 L460.64,326.67 L462.04,326.46 L463.42,326.22 L464.78,325.95 L466.11,325.67 L467.42,325.36 L468.71,325.03 L469.96,324.67 L471.19,324.30 L472.39,323.91 L473.55,323.50 L474.68,323.07 L475.77,322.62 L476.83,322.16 L477.85,321.68 L478.83,321.18 L479.77,320.68 L480.67,320.15 L481.53,319.62 L482.35,319.07 L483.13,318.52 L483.87,317.95 L484.56,317.37 L485.21,316.79 L485.82,316.20 L486.38,315.60 L486.90,315.00 L487.38,314.39 L487.81,313.78 L488.20,313.16 L488.55,312.54 L488.86,311.92 L489.12,311.30 L489.34,310.68 L489.52,310.05 L489.66,309.43 L489.76,308.81 L489.82,308.20 L489.84,307.58 Z" fill="#0b3566" stroke="#0b3566" stroke-width="0.3"/>
<path d="M449.00,317.70 L447.53,317.69 L446.07,317.65 L444.61,317.59 L443.15,317.51 L441.70,317.40 L440.27,317.27 L438.85,317.12 L437.44,316.94 L436.05,316.75 L434.68,316.53 L433.33,316.29 L432.00,316.02 L430.69,315.74 L429.41,315.44 L428.16,315.12 L426.94,314.78 L425.75,314.42 L424.59,314.04 L423.47,313.65 L422.38,313.24 L421.32,312.81 L420.30,312.38 L419.32,311.92 L418.38,311.46 L417.48,310.98 L416.62,310.49 L415.80,309.99 L415.01,309.48 L414.28,308.96 L413.58,308.43 L412.92,307.89 L412.31,307.35 L411.74,306.80 L411.22,306.25 L410.73,305.69 L410.29,305.13 L409.89,304.56 L409.54,303.99 L409.54,312.70 L409.89,313.32 L410.29,313.93 L410.73,314.54 L411.22,315.14 L411.74,315.74 L412.31,316.33 L412.92,316.92 L413.58,317.49 L414.28,318.06 L415.01,318.62 L415.80,319.18 L416.62,319.72 L417.48,320.24 L418.38,320.76 L419.32,321.26 L420.30,321.75 L421.32,322.23 L422.38,322.68 L423.47,323.13 L424.59,323.55 L425.75,323.96 L426.94,324.34 L428.16,324.71 L429.41,325.06 L430.69,325.39 L432.00,325.69 L433.33,325.97 L434.68,326.23 L436.05,326.47 L437.44,326.68 L438.85,326.87 L440.27,327.04 L441.70,327.18 L443.15,327.29 L444.61,327.38 L446.07,327.45 L447.53,327.49 L449.00,327.50 Z" fill="#2a8a2c" stroke="#2a8a2c" stroke-width="0.3"/>
<path d="M409.54,303.99 L409.21,303.40 L408.93,302.80 L408.69,302.21 L408.50,301.61 L408.35,301.02 L408.25,300.43 L408.18,299.84 L408.16,299.25 L408.16,307.58 L408.18,308.22 L408.25,308.85 L408.35,309.49 L408.50,310.13 L408.69,310.78 L408.93,311.42 L409.21,312.06 L409.54,312.70 Z" fill="#0e4f7c" stroke="#0e4f7c" stroke-width="0.3"/>
<path d="M449.00,296.00 L449.00,280.80 L450.03,280.80 L451.06,280.82 L452.10,280.85 L453.12,280.89 L454.15,280.94 L455.18,281.01 L456.20,281.08 L457.22,281.17 L458.23,281.27 L459.24,281.39 L460.24,281.51 L461.24,281.64 L462.23,281.79 L463.22,281.95 L464.19,282.12 L465.16,282.30 L466.12,282.50 L467.07,282.70 L468.02,282.92 L468.95,283.15 L469.87,283.39 L470.78,283.64 L471.67,283.90 L472.55,284.17 L473.42,284.46 L474.28,284.76 L475.12,285.06 L475.95,285.38 L476.75,285.71 L477.55,286.05 L478.32,286.40 L479.08,286.77 L479.81,287.14 L480.53,287.52 L481.23,287.92 L481.90,288.32 L482.56,288.73 L483.19,289.16 L483.80,289.59 L484.38,290.03 L484.94,290.48 L485.47,290.95 L485.98,291.42 L486.45,291.89 L486.90,292.38 L487.33,292.88 L487.72,293.38 L488.08,293.89 L488.41,294.41 L488.70,294.93 L488.97,295.46 L489.20,296.00 L489.40,296.54 L489.56,297.09 L489.68,297.64 L489.77,298.20 L489.82,298.76 L489.84,299.33 L489.81,299.90 L489.75,300.47 L489.64,301.04 L489.50,301.61 L489.32,302.19 L489.09,302.76 L488.82,303.34 L488.51,303.91 L488.16,304.48 L487.77,305.05 L487.33,305.61 L486.85,306.18 L486.33,306.73 L485.76,307.29 L485.15,307.83 L484.50,308.37 L483.80,308.90 L483.07,309.42 L482.29,309.94 L481.47,310.44 L480.60,310.93 L479.70,311.41 L478.76,311.88 L477.78,312.34 L476.76,312.78 L475.70,313.21 L474.61,313.62 L473.48,314.01 L472.32,314.39 L471.13,314.75 L469.91,315.10 L468.65,315.42 L467.37,315.73 L466.06,316.01 L464.73,316.28 L463.38,316.52 L462.00,316.74 L460.60,316.94 L459.19,317.12 L457.76,317.27 L456.32,317.40 L454.87,317.51 L453.41,317.59 L451.94,317.65 L450.47,317.69 L449.00,317.70 Z" fill="#1a6ec8" stroke="#1a6ec8" stroke-width="0.3"/>
<path d="M449.00,296.00 L449.00,317.70 L447.53,317.69 L446.07,317.65 L444.61,317.59 L443.15,317.51 L441.70,317.40 L440.27,317.27 L438.85,317.12 L437.44,316.94 L436.05,316.75 L434.68,316.53 L433.33,316.29 L432.00,316.02 L430.69,315.74 L429.41,315.44 L428.16,315.12 L426.94,314.78 L425.75,314.42 L424.59,314.04 L423.47,313.65 L422.38,313.24 L421.32,312.81 L420.30,312.38 L419.32,311.92 L418.38,311.46 L417.48,310.98 L416.62,310.49 L415.80,309.99 L415.01,309.48 L414.28,308.96 L413.58,308.43 L412.92,307.89 L412.31,307.35 L411.74,306.80 L411.22,306.25 L410.73,305.69 L410.29,305.13 L409.89,304.56 L409.54,303.99 Z" fill="#33c433" stroke="#33c433" stroke-width="0.3"/>
<path d="M449.00,296.00 L409.54,303.99 L409.20,303.38 L408.91,302.77 L408.68,302.16 L408.48,301.55 L408.33,300.94 L408.23,300.33 L408.18,299.73 L408.16,299.12 L408.19,298.52 Z" fill="#20a8e8" stroke="#20a8e8" stroke-width="0.3"/>
<path d="M449.00,296.00 L408.19,298.52 L408.26,297.94 L408.38,297.36 L408.53,296.79 L408.71,296.23 L408.94,295.66 L409.20,295.11 L409.50,294.56 L409.83,294.02 L410.20,293.49 L410.60,292.96 L411.04,292.45 L411.50,291.94 L412.00,291.44 L412.52,290.95 L413.08,290.47 L413.66,290.00 L414.27,289.54 L414.90,289.09 Z" fill="#8a8a8a" stroke="#8a8a8a" stroke-width="0.3"/>
<path d="M449.00,296.00 L414.90,289.09 L415.53,288.67 L416.19,288.26 L416.86,287.86 L417.56,287.47 L418.28,287.09 L419.01,286.72 L419.77,286.36 L420.54,286.01 L421.33,285.68 L422.14,285.35 L422.97,285.03 L423.80,284.73 L424.66,284.43 L425.53,284.15 L426.41,283.88 L427.30,283.62 L428.21,283.37 L429.12,283.13 L430.05,282.90 L430.99,282.69 L431.94,282.48 L432.90,282.29 L433.86,282.11 L434.84,281.94 L435.82,281.78 L436.80,281.64 L437.80,281.50 L438.80,281.38 L439.80,281.27 L440.81,281.17 L441.83,281.08 L442.85,281.01 L443.87,280.94 L444.89,280.89 L445.92,280.85 L446.94,280.82 L447.97,280.80 L449.00,280.80 Z" fill="#f7941d" stroke="#f7941d" stroke-width="0.3"/>
<text x="429.30" y="270.00" font-size="7.5" fill="#f0941e" text-anchor="middle" stroke="#f0941e" stroke-width="0.12">B-other</text>
<text x="429.30" y="278.50" font-size="7.5" fill="#f0941e" text-anchor="middle" stroke="#f0941e" stroke-width="0.12">(18.2%)</text>
<text x="474.40" y="270.50" font-size="7.5" fill="#2a6cc0" text-anchor="middle" font-style="italic" stroke="#2a6cc0" stroke-width="0.12">BCR::ABL1</text>
<text x="470.50" y="279.20" font-size="7.5" fill="#2a6cc0" text-anchor="middle" stroke="#2a6cc0" stroke-width="0.12">(50%)</text>
<text x="382.00" y="288.30" font-size="7.5" fill="#666" text-anchor="middle" stroke="#666" stroke-width="0.12">Hyperdiploidy</text>
<text x="382.00" y="295.30" font-size="7.5" fill="#666" text-anchor="middle" stroke="#666" stroke-width="0.12">(9%)</text>
<text x="377.40" y="304.40" font-size="7.5" fill="#3aa2e0" text-anchor="middle" stroke="#3aa2e0" stroke-width="0.12">Low hypodiploidy</text>
<text x="378.30" y="312.00" font-size="7.5" fill="#3aa2e0" text-anchor="middle" stroke="#3aa2e0" stroke-width="0.12">(4.6%)</text>
<text x="418.00" y="332.30" font-size="7.5" fill="#2a9a2a" text-anchor="middle" stroke="#2a9a2a" stroke-width="0.12">Ph-like</text>
<text x="418.00" y="340.50" font-size="7.5" fill="#2a9a2a" text-anchor="middle" stroke="#2a9a2a" stroke-width="0.12">(18.2)</text>
<text x="297.60" y="375.20" font-size="10.6" fill="#111" text-anchor="start" font-weight="bold" stroke="#111" stroke-width="0.12">E</text>
<text x="393.70" y="379.20" font-size="7.2" fill="#222" text-anchor="middle" stroke="#222" stroke-width="0.12">B-ALL</text>
<text x="393.70" y="386.90" font-size="7.2" fill="#222" text-anchor="middle" stroke="#222" stroke-width="0.12">Overall survival</text>
<text x="475.80" y="379.80" font-size="7.2" fill="#222" text-anchor="middle" stroke="#222" stroke-width="0.12">Multivariable analysis</text>
<text x="458.50" y="390.80" font-size="7.2" fill="#222" text-anchor="middle" stroke="#222" stroke-width="0.12">HR (95% CI)</text>
<text x="501.70" y="390.80" font-size="7.2" fill="#222" text-anchor="middle" stroke="#222" stroke-width="0.12"><tspan font-style="italic">P</tspan> value</text>
<line x1="357.3" y1="392.3" x2="357.3" y2="490.3" stroke="#222" stroke-width="0.8"/>
<line x1="365.87" y1="392.3" x2="365.87" y2="490.3" stroke="#c8c8c8" stroke-width="0.6"/>
<line x1="357.3" y1="490.3" x2="410.2" y2="490.3" stroke="#222" stroke-width="0.8"/>
<line x1="415.2" y1="490.3" x2="426.6" y2="490.3" stroke="#222" stroke-width="0.8"/>
<line x1="408.6" y1="492.6" x2="412.0" y2="488.0" stroke="#222" stroke-width="0.7"/>
<line x1="413.6" y1="492.6" x2="417.0" y2="488.0" stroke="#222" stroke-width="0.7"/>
<line x1="357.30" y1="490.3" x2="357.30" y2="492.6" stroke="#222" stroke-width="0.7"/>
<text x="357.30" y="500.60" font-size="7.5" fill="#222" text-anchor="middle" stroke="#222" stroke-width="0.12">0</text>
<line x1="365.87" y1="490.3" x2="365.87" y2="492.6" stroke="#222" stroke-width="0.7"/>
<text x="365.87" y="500.60" font-size="7.5" fill="#222" text-anchor="middle" stroke="#222" stroke-width="0.12">1</text>
<line x1="374.44" y1="490.3" x2="374.44" y2="492.6" stroke="#222" stroke-width="0.7"/>
<text x="374.44" y="500.60" font-size="7.5" fill="#222" text-anchor="middle" stroke="#222" stroke-width="0.12">2</text>
<line x1="383.01" y1="490.3" x2="383.01" y2="492.6" stroke="#222" stroke-width="0.7"/>
<text x="383.01" y="500.60" font-size="7.5" fill="#222" text-anchor="middle" stroke="#222" stroke-width="0.12">3</text>
<line x1="391.58" y1="490.3" x2="391.58" y2="492.6" stroke="#222" stroke-width="0.7"/>
<text x="391.58" y="500.60" font-size="7.5" fill="#222" text-anchor="middle" stroke="#222" stroke-width="0.12">4</text>
<line x1="400.15" y1="490.3" x2="400.15" y2="492.6" stroke="#222" stroke-width="0.7"/>
<text x="400.15" y="500.60" font-size="7.5" fill="#222" text-anchor="middle" stroke="#222" stroke-width="0.12">5</text>
<line x1="408.72" y1="490.3" x2="408.72" y2="492.6" stroke="#222" stroke-width="0.7"/>
<text x="408.72" y="500.60" font-size="7.5" fill="#222" text-anchor="middle" stroke="#222" stroke-width="0.12">6</text>
<line x1="415.00" y1="490.3" x2="415.00" y2="492.6" stroke="#222" stroke-width="0.7"/>
<text x="415.00" y="500.60" font-size="7.5" fill="#222" text-anchor="middle" stroke="#222" stroke-width="0.12">11</text>
<line x1="426.30" y1="490.3" x2="426.30" y2="492.6" stroke="#222" stroke-width="0.7"/>
<text x="426.30" y="500.60" font-size="7.5" fill="#222" text-anchor="middle" stroke="#222" stroke-width="0.12">22</text>
<text x="391.90" y="511.00" font-size="7.6" fill="#222" text-anchor="middle" stroke="#222" stroke-width="0.12">Hazard ratio (95% CI)</text>
<line x1="354.80" y1="401.20" x2="357.3" y2="401.20" stroke="#222" stroke-width="0.7"/>
<text x="351.40" y="403.80" font-size="7.45" fill="#222" text-anchor="end" stroke="#222" stroke-width="0.12">Age (cont.)</text>
<line x1="354.80" y1="414.60" x2="357.3" y2="414.60" stroke="#222" stroke-width="0.7"/>
<line x1="354.80" y1="428.30" x2="357.3" y2="428.30" stroke="#222" stroke-width="0.7"/>
<text x="351.40" y="430.90" font-size="7.45" fill="#222" text-anchor="end" stroke="#222" stroke-width="0.12">Low hypodiploidy</text>
<line x1="354.80" y1="441.70" x2="357.3" y2="441.70" stroke="#222" stroke-width="0.7"/>
<text x="351.40" y="444.30" font-size="7.45" fill="#222" text-anchor="end" stroke="#222" stroke-width="0.12"><tspan font-style="italic">BCL/MYC</tspan></text>
<line x1="354.80" y1="455.20" x2="357.3" y2="455.20" stroke="#222" stroke-width="0.7"/>
<text x="351.40" y="457.80" font-size="7.45" fill="#222" text-anchor="end" stroke="#222" stroke-width="0.12"><tspan font-style="italic">TP53</tspan></text>
<line x1="354.80" y1="468.80" x2="357.3" y2="468.80" stroke="#222" stroke-width="0.7"/>
<text x="351.40" y="471.40" font-size="7.45" fill="#222" text-anchor="end" stroke="#222" stroke-width="0.12">Myeloid mutations</text>
<line x1="354.80" y1="482.30" x2="357.3" y2="482.30" stroke="#222" stroke-width="0.7"/>
<text x="351.40" y="484.90" font-size="7.45" fill="#222" text-anchor="end" stroke="#222" stroke-width="0.12"><tspan font-style="italic">RB1</tspan></text>
<text x="351.40" y="412.40" font-size="7.45" fill="#222" text-anchor="end" stroke="#222" stroke-width="0.12">Therapy related vs.</text>
<text x="351.40" y="421.20" font-size="7.45" fill="#222" text-anchor="end" stroke="#222" stroke-width="0.12"><tspan font-style="italic">de novo</tspan>ALL</text>
<line x1="365.96" y1="401.20" x2="366.13" y2="401.20" stroke="#111" stroke-width="0.8"/>
<line x1="365.96" y1="399.70" x2="365.96" y2="402.70" stroke="#111" stroke-width="0.7"/>
<line x1="366.13" y1="399.70" x2="366.13" y2="402.70" stroke="#111" stroke-width="0.7"/>
<circle cx="366.04" cy="401.20" r="1.1" fill="#111"/>
<line x1="361.24" y1="414.60" x2="369.98" y2="414.60" stroke="#111" stroke-width="0.8"/>
<line x1="361.24" y1="413.10" x2="361.24" y2="416.10" stroke="#111" stroke-width="0.7"/>
<line x1="369.98" y1="413.10" x2="369.98" y2="416.10" stroke="#111" stroke-width="0.7"/>
<circle cx="364.16" cy="414.60" r="1.1" fill="#111"/>
<line x1="361.41" y1="428.30" x2="374.01" y2="428.30" stroke="#111" stroke-width="0.8"/>
<line x1="361.41" y1="426.80" x2="361.41" y2="429.80" stroke="#111" stroke-width="0.7"/>
<line x1="374.01" y1="426.80" x2="374.01" y2="429.80" stroke="#111" stroke-width="0.7"/>
<circle cx="365.36" cy="428.30" r="1.1" fill="#111"/>
<line x1="365.87" y1="441.70" x2="409.58" y2="441.70" stroke="#111" stroke-width="0.8"/>
<line x1="365.87" y1="440.20" x2="365.87" y2="443.20" stroke="#111" stroke-width="0.7"/>
<circle cx="393.81" cy="441.70" r="1.1" fill="#111"/>
<line x1="368.01" y1="455.20" x2="390.72" y2="455.20" stroke="#2f8fe0" stroke-width="0.8"/>
<line x1="368.01" y1="453.70" x2="368.01" y2="456.70" stroke="#2f8fe0" stroke-width="0.7"/>
<line x1="390.72" y1="453.70" x2="390.72" y2="456.70" stroke="#2f8fe0" stroke-width="0.7"/>
<circle cx="376.33" cy="455.20" r="1.1" fill="#2f8fe0"/>
<line x1="366.81" y1="468.80" x2="386.18" y2="468.80" stroke="#2f8fe0" stroke-width="0.8"/>
<line x1="366.81" y1="467.30" x2="366.81" y2="470.30" stroke="#2f8fe0" stroke-width="0.7"/>
<line x1="386.18" y1="467.30" x2="386.18" y2="470.30" stroke="#2f8fe0" stroke-width="0.7"/>
<circle cx="373.93" cy="468.80" r="1.1" fill="#2f8fe0"/>
<line x1="364.24" y1="482.30" x2="386.27" y2="482.30" stroke="#a8603a" stroke-width="0.8"/>
<line x1="364.24" y1="480.80" x2="364.24" y2="483.80" stroke="#a8603a" stroke-width="0.7"/>
<line x1="386.27" y1="480.80" x2="386.27" y2="483.80" stroke="#a8603a" stroke-width="0.7"/>
<circle cx="371.44" cy="482.30" r="1.1" fill="#a8603a"/>
<line x1="413.8" y1="441.7" x2="422.8" y2="441.7" stroke="#111" stroke-width="0.8"/>
<line x1="422.8" y1="440.2" x2="422.8" y2="443.2" stroke="#111" stroke-width="0.7"/>
<text x="458.50" y="403.70" font-size="6.75" fill="#111" text-anchor="middle" font-weight="bold" stroke="#111" stroke-width="0.12">1.02 (1.01&#8211;1.03)</text>
<text x="501.50" y="403.70" font-size="6.75" fill="#111" text-anchor="middle" font-weight="bold" stroke="#111" stroke-width="0.12">&lt;0.0001</text>
<text x="458.50" y="417.10" font-size="7.1" fill="#333" text-anchor="middle" stroke="#333" stroke-width="0.12">0.80 (0.46&#8211;1.39)</text>
<text x="501.50" y="417.10" font-size="7.1" fill="#333" text-anchor="middle" stroke="#333" stroke-width="0.12">0.44</text>
<text x="458.50" y="430.80" font-size="7.1" fill="#333" text-anchor="middle" stroke="#333" stroke-width="0.12">0.94 (0.48&#8211;1.84)</text>
<text x="501.50" y="430.80" font-size="7.1" fill="#333" text-anchor="middle" stroke="#333" stroke-width="0.12">0.86</text>
<text x="458.50" y="444.20" font-size="7.1" fill="#333" text-anchor="middle" stroke="#333" stroke-width="0.12">4.16 (0.94&#8211;18.2)</text>
<text x="501.50" y="444.20" font-size="7.1" fill="#333" text-anchor="middle" stroke="#333" stroke-width="0.12">0.06</text>
<text x="458.50" y="457.70" font-size="6.75" fill="#111" text-anchor="middle" font-weight="bold" stroke="#111" stroke-width="0.12">2.17 (1.25&#8211;3.77)</text>
<text x="501.50" y="457.70" font-size="6.75" fill="#111" text-anchor="middle" font-weight="bold" stroke="#111" stroke-width="0.12">0.005</text>
<text x="458.50" y="471.30" font-size="6.75" fill="#111" text-anchor="middle" font-weight="bold" stroke="#111" stroke-width="0.12">1.92 (1.11&#8211;3.33)</text>
<text x="501.50" y="471.30" font-size="6.75" fill="#111" text-anchor="middle" font-weight="bold" stroke="#111" stroke-width="0.12">0.02</text>
<text x="458.50" y="484.80" font-size="7.1" fill="#333" text-anchor="middle" stroke="#333" stroke-width="0.12">1.65 (0.81&#8211;3.36)</text>
<text x="501.50" y="484.80" font-size="7.1" fill="#333" text-anchor="middle" stroke="#333" stroke-width="0.12">0.16</text>
<text x="5.40" y="537.00" font-size="10.6" fill="#111" text-anchor="start" font-weight="bold" stroke="#111" stroke-width="0.12">F</text>
<line x1="64.2" y1="551.9" x2="64.2" y2="630.8" stroke="#222" stroke-width="0.9"/>
<line x1="64.2" y1="630.8" x2="209.40" y2="630.8" stroke="#222" stroke-width="0.9"/>
<line x1="61.40" y1="630.80" x2="64.2" y2="630.80" stroke="#222" stroke-width="0.8"/>
<text x="60.20" y="633.40" font-size="7.4" fill="#222" text-anchor="end" stroke="#222" stroke-width="0.12">0</text>
<line x1="61.40" y1="615.12" x2="64.2" y2="615.12" stroke="#222" stroke-width="0.8"/>
<text x="60.20" y="617.72" font-size="7.4" fill="#222" text-anchor="end" stroke="#222" stroke-width="0.12">20</text>
<line x1="61.40" y1="599.44" x2="64.2" y2="599.44" stroke="#222" stroke-width="0.8"/>
<text x="60.20" y="602.04" font-size="7.4" fill="#222" text-anchor="end" stroke="#222" stroke-width="0.12">40</text>
<line x1="61.40" y1="583.76" x2="64.2" y2="583.76" stroke="#222" stroke-width="0.8"/>
<text x="60.20" y="586.36" font-size="7.4" fill="#222" text-anchor="end" stroke="#222" stroke-width="0.12">60</text>
<line x1="61.40" y1="568.08" x2="64.2" y2="568.08" stroke="#222" stroke-width="0.8"/>
<text x="60.20" y="570.68" font-size="7.4" fill="#222" text-anchor="end" stroke="#222" stroke-width="0.12">80</text>
<line x1="61.40" y1="552.40" x2="64.2" y2="552.40" stroke="#222" stroke-width="0.8"/>
<text x="60.20" y="555.00" font-size="7.4" fill="#222" text-anchor="end" stroke="#222" stroke-width="0.12">100</text>
<line x1="64.20" y1="630.8" x2="64.20" y2="633.40" stroke="#222" stroke-width="0.8"/>
<text x="64.20" y="642.20" font-size="7.4" fill="#222" text-anchor="middle" stroke="#222" stroke-width="0.12">0</text>
<line x1="88.40" y1="630.8" x2="88.40" y2="633.40" stroke="#222" stroke-width="0.8"/>
<text x="88.40" y="642.20" font-size="7.4" fill="#222" text-anchor="middle" stroke="#222" stroke-width="0.12">24</text>
<line x1="112.60" y1="630.8" x2="112.60" y2="633.40" stroke="#222" stroke-width="0.8"/>
<text x="112.60" y="642.20" font-size="7.4" fill="#222" text-anchor="middle" stroke="#222" stroke-width="0.12">48</text>
<line x1="136.80" y1="630.8" x2="136.80" y2="633.40" stroke="#222" stroke-width="0.8"/>
<text x="136.80" y="642.20" font-size="7.4" fill="#222" text-anchor="middle" stroke="#222" stroke-width="0.12">72</text>
<line x1="161.00" y1="630.8" x2="161.00" y2="633.40" stroke="#222" stroke-width="0.8"/>
<text x="161.00" y="642.20" font-size="7.4" fill="#222" text-anchor="middle" stroke="#222" stroke-width="0.12">96</text>
<line x1="185.20" y1="630.8" x2="185.20" y2="633.40" stroke="#222" stroke-width="0.8"/>
<text x="185.20" y="642.20" font-size="7.4" fill="#222" text-anchor="middle" stroke="#222" stroke-width="0.12">120</text>
<line x1="209.40" y1="630.8" x2="209.40" y2="633.40" stroke="#222" stroke-width="0.8"/>
<text x="209.40" y="642.20" font-size="7.4" fill="#222" text-anchor="middle" stroke="#222" stroke-width="0.12">144</text>
<text x="42.80" y="591.60" font-size="7.4" fill="#222" text-anchor="middle" transform="rotate(-90 42.80 591.60)" stroke="#222" stroke-width="0.12">Percent survival</text>
<text x="137.00" y="655.00" font-size="7.4" fill="#222" text-anchor="middle" stroke="#222" stroke-width="0.12">Overall survival (months)</text>
<polyline points="64.20,552.50 68.50,552.50 68.50,553.80 70.40,553.80 70.40,555.40 71.90,555.40 71.90,557.30 73.80,557.30 73.80,559.20 75.80,559.20 75.80,561.20 78.10,561.20 78.10,564.00 80.00,564.00 80.00,566.90 81.90,566.90 81.90,569.20 83.80,569.20 83.80,570.40 87.70,570.40 87.70,571.70 90.60,571.70 90.60,573.10 93.50,573.10 93.50,575.60 96.30,575.60 96.30,577.50 98.30,577.50 98.30,580.40 100.20,580.40 100.20,583.30 102.10,583.30 102.10,586.20 104.00,586.20 104.00,588.10 106.90,588.10 106.90,589.60 110.80,589.60 110.80,590.60 114.60,590.60 114.60,591.20 130.70,591.20 130.70,593.70 149.10,593.70 149.10,598.60 197.30,598.60" fill="none" stroke="#2f9a35" stroke-width="0.9" stroke-linejoin="miter"/>
<polyline points="64.20,552.50 65.60,552.50 65.60,558.30 66.90,558.30 66.90,561.20 68.50,561.20 68.50,564.00 70.40,564.00 70.40,566.90 72.30,566.90 72.30,570.80 74.60,570.80 74.60,574.60 76.50,574.60 76.50,576.90 85.80,576.90 85.80,583.30 87.30,583.30 87.30,590.00 89.20,590.00 89.20,595.80 98.30,595.80 98.30,601.60 106.30,601.60 106.30,607.00 111.60,607.00 111.60,613.40 115.90,613.40 115.90,618.20 152.90,618.20" fill="none" stroke="#e8202a" stroke-width="0.9" stroke-linejoin="miter"/>
<polyline points="64.20,552.50 65.60,552.50 65.60,556.30 67.50,556.30 67.50,560.20 69.40,560.20 69.40,565.00 70.80,565.00 70.80,568.80 72.70,568.80 72.70,575.60 74.60,575.60 74.60,580.40 79.00,580.40 79.00,585.20 81.00,585.20 81.00,590.40 84.80,590.40 84.80,596.70 87.70,596.70 87.70,603.20 103.20,603.20 103.20,617.60 177.20,617.60" fill="none" stroke="#2222dd" stroke-width="0.9" stroke-linejoin="miter"/>
<polyline points="64.20,552.50 65.00,552.50 65.00,558.30 66.50,558.30 66.50,564.00 68.50,564.00 68.50,568.80 70.00,568.80 70.00,574.60 71.30,574.60 71.30,578.50 73.30,578.50 73.30,584.20 76.20,584.20 76.20,587.10 79.00,587.10 79.00,591.00 81.00,591.00 81.00,594.80 83.80,594.80 83.80,597.70 87.70,597.70 87.70,603.50 89.60,603.50 89.60,608.30 93.50,608.30 93.50,610.20 95.40,610.20 95.40,613.40 109.00,613.40 109.00,617.60 156.00,617.60 156.00,630.80" fill="none" stroke="#3ba3d2" stroke-width="0.9" stroke-linejoin="miter"/>
<text x="137.40" y="539.30" font-size="7.3" fill="#222" text-anchor="middle" stroke="#222" stroke-width="0.12">B-ALL</text>
<text x="173.80" y="546.40" font-size="6.9" fill="#111" text-anchor="middle" font-weight="bold" stroke="#111" stroke-width="0.12">Median OS</text>
<text x="219.10" y="546.40" font-size="6.9" fill="#111" text-anchor="middle" font-weight="bold" stroke="#111" stroke-width="0.12">HR (95% CI)</text>
<text x="259.00" y="546.40" font-size="6.9" fill="#111" text-anchor="middle" font-weight="bold" stroke="#111" stroke-width="0.12"><tspan font-style="italic">P</tspan> value</text>
<line x1="101.40" y1="551.90" x2="109.60" y2="551.90" stroke="#2f9a35" stroke-width="1.1"/>
<text x="111.60" y="554.10" font-size="6.4" fill="#2f9a35" text-anchor="start" stroke="#2f9a35" stroke-width="0.12">No MyM/<tspan font-style="italic">TP53</tspan>:</text>
<text x="173.00" y="554.10" font-size="6.4" fill="#222" text-anchor="middle" stroke="#222" stroke-width="0.12">48 mo</text>
<text x="218.60" y="554.10" font-size="6.4" fill="#222" text-anchor="middle" stroke="#222" stroke-width="0.12">&#8211;</text>
<text x="268.60" y="554.10" font-size="6.4" fill="#222" text-anchor="end" stroke="#222" stroke-width="0.12"></text>
<line x1="101.40" y1="559.35" x2="109.60" y2="559.35" stroke="#e8202a" stroke-width="1.1"/>
<text x="111.60" y="561.55" font-size="6.4" fill="#e8202a" text-anchor="start" stroke="#e8202a" stroke-width="0.12">MyM:</text>
<text x="173.00" y="561.55" font-size="6.4" fill="#222" text-anchor="middle" stroke="#222" stroke-width="0.12">25 mo</text>
<text x="218.60" y="561.55" font-size="6.4" fill="#222" text-anchor="middle" stroke="#222" stroke-width="0.12">2.31 (1.36&#8211;3.91)</text>
<text x="268.60" y="561.55" font-size="6.4" fill="#222" text-anchor="end" stroke="#222" stroke-width="0.12">0.001</text>
<line x1="101.40" y1="566.80" x2="109.60" y2="566.80" stroke="#2222dd" stroke-width="1.1"/>
<text x="111.60" y="569.00" font-size="6.4" fill="#2222dd" text-anchor="start" stroke="#2222dd" stroke-width="0.12"><tspan font-style="italic">TP53</tspan>-m, LH:</text>
<text x="173.00" y="569.00" font-size="6.4" fill="#222" text-anchor="middle" stroke="#222" stroke-width="0.12">21 mo</text>
<text x="218.60" y="569.00" font-size="6.4" fill="#222" text-anchor="middle" stroke="#222" stroke-width="0.12">2.63 (1.41&#8211;4.91)</text>
<text x="268.60" y="569.00" font-size="6.4" fill="#222" text-anchor="end" stroke="#222" stroke-width="0.12">0.002</text>
<line x1="101.40" y1="574.25" x2="109.60" y2="574.25" stroke="#3ba3d2" stroke-width="1.1"/>
<text x="111.60" y="576.45" font-size="6.4" fill="#3ba3d2" text-anchor="start" stroke="#3ba3d2" stroke-width="0.12"><tspan font-style="italic">TP53</tspan>-m, not LH:</text>
<text x="173.00" y="576.45" font-size="6.4" fill="#222" text-anchor="middle" stroke="#222" stroke-width="0.12">16 mo</text>
<text x="218.60" y="576.45" font-size="6.4" fill="#222" text-anchor="middle" stroke="#222" stroke-width="0.12">3.36 (2.04&#8211;5.52)</text>
<text x="268.60" y="576.45" font-size="6.4" fill="#222" text-anchor="end" stroke="#222" stroke-width="0.12">&lt;0.001</text>
<text x="2.00" y="657.90" font-size="7.55" fill="#111" text-anchor="start" stroke="#111" stroke-width="0.12">Number at risk</text>
<text x="2.00" y="667.30" font-size="7.4" fill="#2f9a35" text-anchor="start" stroke="#2f9a35" stroke-width="0.12">No MyM/<tspan font-style="italic">TP53</tspan>:</text>
<text x="64.80" y="667.30" font-size="7.4" fill="#222" text-anchor="middle" stroke="#222" stroke-width="0.12">191</text>
<text x="88.40" y="667.30" font-size="7.4" fill="#222" text-anchor="middle" stroke="#222" stroke-width="0.12">97</text>
<text x="112.60" y="667.30" font-size="7.4" fill="#222" text-anchor="middle" stroke="#222" stroke-width="0.12">31</text>
<text x="136.80" y="667.30" font-size="7.4" fill="#222" text-anchor="middle" stroke="#222" stroke-width="0.12">11</text>
<text x="161.00" y="667.30" font-size="7.4" fill="#222" text-anchor="middle" stroke="#222" stroke-width="0.12">7</text>
<text x="185.20" y="667.30" font-size="7.4" fill="#222" text-anchor="middle" stroke="#222" stroke-width="0.12">4</text>
<text x="209.40" y="667.30" font-size="7.4" fill="#222" text-anchor="middle" stroke="#222" stroke-width="0.12">0</text>
<text x="2.00" y="676.35" font-size="7.4" fill="#e8202a" text-anchor="start" stroke="#e8202a" stroke-width="0.12">MyM:</text>
<text x="64.80" y="676.35" font-size="7.4" fill="#222" text-anchor="middle" stroke="#222" stroke-width="0.12">37</text>
<text x="88.40" y="676.35" font-size="7.4" fill="#222" text-anchor="middle" stroke="#222" stroke-width="0.12">10</text>
<text x="112.60" y="676.35" font-size="7.4" fill="#222" text-anchor="middle" stroke="#222" stroke-width="0.12">4</text>
<text x="136.80" y="676.35" font-size="7.4" fill="#222" text-anchor="middle" stroke="#222" stroke-width="0.12">1</text>
<text x="161.00" y="676.35" font-size="7.4" fill="#222" text-anchor="middle" stroke="#222" stroke-width="0.12">0</text>
<text x="185.20" y="676.35" font-size="7.4" fill="#222" text-anchor="middle" stroke="#222" stroke-width="0.12">0</text>
<text x="209.40" y="676.35" font-size="7.4" fill="#222" text-anchor="middle" stroke="#222" stroke-width="0.12">0</text>
<text x="2.00" y="685.40" font-size="7.4" fill="#2222dd" text-anchor="start" stroke="#2222dd" stroke-width="0.12"><tspan font-style="italic">TP53</tspan>-m, LH:</text>
<text x="64.80" y="685.40" font-size="7.4" fill="#222" text-anchor="middle" stroke="#222" stroke-width="0.12">20</text>
<text x="88.40" y="685.40" font-size="7.4" fill="#222" text-anchor="middle" stroke="#222" stroke-width="0.12">5</text>
<text x="112.60" y="685.40" font-size="7.4" fill="#222" text-anchor="middle" stroke="#222" stroke-width="0.12">1</text>
<text x="136.80" y="685.40" font-size="7.4" fill="#222" text-anchor="middle" stroke="#222" stroke-width="0.12">1</text>
<text x="161.00" y="685.40" font-size="7.4" fill="#222" text-anchor="middle" stroke="#222" stroke-width="0.12">1</text>
<text x="185.20" y="685.40" font-size="7.4" fill="#222" text-anchor="middle" stroke="#222" stroke-width="0.12">0</text>
<text x="209.40" y="685.40" font-size="7.4" fill="#222" text-anchor="middle" stroke="#222" stroke-width="0.12">0</text>
<text x="2.00" y="694.45" font-size="7.4" fill="#3ba3d2" text-anchor="start" stroke="#3ba3d2" stroke-width="0.12"><tspan font-style="italic">TP53</tspan>-m, not LH:</text>
<text x="64.80" y="694.45" font-size="7.4" fill="#222" text-anchor="middle" stroke="#222" stroke-width="0.12">31</text>
<text x="88.40" y="694.45" font-size="7.4" fill="#222" text-anchor="middle" stroke="#222" stroke-width="0.12">7</text>
<text x="112.60" y="694.45" font-size="7.4" fill="#222" text-anchor="middle" stroke="#222" stroke-width="0.12">2</text>
<text x="136.80" y="694.45" font-size="7.4" fill="#222" text-anchor="middle" stroke="#222" stroke-width="0.12">1</text>
<text x="161.00" y="694.45" font-size="7.4" fill="#222" text-anchor="middle" stroke="#222" stroke-width="0.12">0</text>
<text x="185.20" y="694.45" font-size="7.4" fill="#222" text-anchor="middle" stroke="#222" stroke-width="0.12">0</text>
<text x="209.40" y="694.45" font-size="7.4" fill="#222" text-anchor="middle" stroke="#222" stroke-width="0.12">0</text>
<text x="299.40" y="537.40" font-size="10.6" fill="#111" text-anchor="start" font-weight="bold" stroke="#111" stroke-width="0.12">G</text>
<line x1="318.6" y1="552.2" x2="318.6" y2="630.7" stroke="#222" stroke-width="0.9"/>
<line x1="318.6" y1="630.7" x2="463.80" y2="630.7" stroke="#222" stroke-width="0.9"/>
<line x1="315.80" y1="630.70" x2="318.6" y2="630.70" stroke="#222" stroke-width="0.8"/>
<text x="314.60" y="633.30" font-size="7.4" fill="#222" text-anchor="end" stroke="#222" stroke-width="0.12">0</text>
<line x1="315.80" y1="615.10" x2="318.6" y2="615.10" stroke="#222" stroke-width="0.8"/>
<text x="314.60" y="617.70" font-size="7.4" fill="#222" text-anchor="end" stroke="#222" stroke-width="0.12">20</text>
<line x1="315.80" y1="599.50" x2="318.6" y2="599.50" stroke="#222" stroke-width="0.8"/>
<text x="314.60" y="602.10" font-size="7.4" fill="#222" text-anchor="end" stroke="#222" stroke-width="0.12">40</text>
<line x1="315.80" y1="583.90" x2="318.6" y2="583.90" stroke="#222" stroke-width="0.8"/>
<text x="314.60" y="586.50" font-size="7.4" fill="#222" text-anchor="end" stroke="#222" stroke-width="0.12">60</text>
<line x1="315.80" y1="568.30" x2="318.6" y2="568.30" stroke="#222" stroke-width="0.8"/>
<text x="314.60" y="570.90" font-size="7.4" fill="#222" text-anchor="end" stroke="#222" stroke-width="0.12">80</text>
<line x1="315.80" y1="552.70" x2="318.6" y2="552.70" stroke="#222" stroke-width="0.8"/>
<text x="314.60" y="555.30" font-size="7.4" fill="#222" text-anchor="end" stroke="#222" stroke-width="0.12">100</text>
<line x1="318.60" y1="630.7" x2="318.60" y2="633.30" stroke="#222" stroke-width="0.8"/>
<text x="318.60" y="642.10" font-size="7.4" fill="#222" text-anchor="middle" stroke="#222" stroke-width="0.12">0</text>
<line x1="342.80" y1="630.7" x2="342.80" y2="633.30" stroke="#222" stroke-width="0.8"/>
<text x="342.80" y="642.10" font-size="7.4" fill="#222" text-anchor="middle" stroke="#222" stroke-width="0.12">24</text>
<line x1="367.00" y1="630.7" x2="367.00" y2="633.30" stroke="#222" stroke-width="0.8"/>
<text x="367.00" y="642.10" font-size="7.4" fill="#222" text-anchor="middle" stroke="#222" stroke-width="0.12">48</text>
<line x1="391.20" y1="630.7" x2="391.20" y2="633.30" stroke="#222" stroke-width="0.8"/>
<text x="391.20" y="642.10" font-size="7.4" fill="#222" text-anchor="middle" stroke="#222" stroke-width="0.12">72</text>
<line x1="415.40" y1="630.7" x2="415.40" y2="633.30" stroke="#222" stroke-width="0.8"/>
<text x="415.40" y="642.10" font-size="7.4" fill="#222" text-anchor="middle" stroke="#222" stroke-width="0.12">96</text>
<line x1="439.60" y1="630.7" x2="439.60" y2="633.30" stroke="#222" stroke-width="0.8"/>
<text x="439.60" y="642.10" font-size="7.4" fill="#222" text-anchor="middle" stroke="#222" stroke-width="0.12">120</text>
<line x1="463.80" y1="630.7" x2="463.80" y2="633.30" stroke="#222" stroke-width="0.8"/>
<text x="463.80" y="642.10" font-size="7.4" fill="#222" text-anchor="middle" stroke="#222" stroke-width="0.12">144</text>
<text x="297.00" y="591.70" font-size="7.4" fill="#222" text-anchor="middle" transform="rotate(-90 297.00 591.70)" stroke="#222" stroke-width="0.12">Percent survival</text>
<text x="391.60" y="655.00" font-size="7.4" fill="#222" text-anchor="middle" stroke="#222" stroke-width="0.12">Relapse-free survival (months)</text>
<polyline points="318.50,552.70 321.10,552.70 321.10,559.40 323.10,559.40 323.10,561.50 325.10,561.50 325.10,563.50 327.10,563.50 327.10,565.50 328.50,565.50 328.50,567.50 330.50,567.50 330.50,570.20 332.50,570.20 332.50,572.20 335.20,572.20 335.20,575.60 337.90,575.60 337.90,577.60 340.60,577.60 340.60,579.60 343.30,579.60 343.30,581.00 346.00,581.00 346.00,583.00 348.60,583.00 348.60,585.00 352.70,585.00 352.70,586.40 355.40,586.40 355.40,587.70 358.70,587.70 358.70,589.00 361.40,589.00 361.40,592.40 363.50,592.40 363.50,595.10 366.10,595.10 366.10,597.10 368.80,597.10 368.80,598.90 395.20,598.90 395.20,603.50 400.00,603.50 400.00,606.90 406.00,606.90 406.00,613.80 411.60,613.80 411.60,620.80 416.50,620.80 416.50,630.70 416.50,630.70" fill="none" stroke="#2f9a35" stroke-width="0.9" stroke-linejoin="miter"/>
<polyline points="318.50,552.70 321.10,552.70 321.10,567.50 327.80,567.50 327.80,581.00 335.20,581.00 335.20,586.40 335.90,586.40 335.90,592.40 337.20,592.40 337.20,598.50 340.60,598.50 340.60,604.50 343.90,604.50 343.90,613.30 359.40,613.30 359.40,622.00 378.30,622.00" fill="none" stroke="#e8202a" stroke-width="0.9" stroke-linejoin="miter"/>
<polyline points="318.50,552.70 321.10,552.70 321.10,568.20 322.40,568.20 322.40,591.10 329.10,591.10 329.10,604.50 335.90,604.50 335.90,607.90 339.90,607.90 339.90,614.00 350.70,614.00 350.70,622.00 367.50,622.00 367.50,630.40 367.50,630.40" fill="none" stroke="#2222dd" stroke-width="0.9" stroke-linejoin="miter"/>
<polyline points="318.50,552.70 321.10,552.70 321.10,560.10 323.10,560.10 323.10,578.30 328.50,578.30 328.50,583.00 329.80,583.00 329.80,592.40 336.50,592.40 336.50,604.50 339.20,604.50 339.20,608.60 340.60,608.60 340.60,615.30 366.80,615.30 366.80,630.40 366.80,630.40" fill="none" stroke="#3ba3d2" stroke-width="0.9" stroke-linejoin="miter"/>
<text x="390.10" y="539.30" font-size="7.3" fill="#222" text-anchor="middle" stroke="#222" stroke-width="0.12">B-ALL</text>
<text x="423.20" y="546.40" font-size="6.9" fill="#111" text-anchor="middle" font-weight="bold" stroke="#111" stroke-width="0.12">Median OS</text>
<text x="466.00" y="546.40" font-size="6.9" fill="#111" text-anchor="middle" font-weight="bold" stroke="#111" stroke-width="0.12">HR (95% CI)</text>
<text x="507.00" y="546.40" font-size="6.9" fill="#111" text-anchor="middle" font-weight="bold" stroke="#111" stroke-width="0.12"><tspan font-style="italic">P</tspan> value</text>
<line x1="355.40" y1="551.90" x2="363.60" y2="551.90" stroke="#2f9a35" stroke-width="1.1"/>
<text x="366.00" y="554.10" font-size="6.4" fill="#2f9a35" text-anchor="start" stroke="#2f9a35" stroke-width="0.12">No MyM/<tspan font-style="italic">TP53</tspan>:</text>
<text x="422.60" y="554.10" font-size="6.4" fill="#222" text-anchor="middle" stroke="#222" stroke-width="0.12">44 mo</text>
<text x="466.00" y="554.10" font-size="6.4" fill="#222" text-anchor="middle" stroke="#222" stroke-width="0.12">&#8211;</text>
<text x="516.30" y="554.10" font-size="6.4" fill="#222" text-anchor="end" stroke="#222" stroke-width="0.12"></text>
<line x1="355.40" y1="559.35" x2="363.60" y2="559.35" stroke="#e8202a" stroke-width="1.1"/>
<text x="366.00" y="561.55" font-size="6.4" fill="#e8202a" text-anchor="start" stroke="#e8202a" stroke-width="0.12">MyM:</text>
<text x="422.60" y="561.55" font-size="6.4" fill="#222" text-anchor="middle" stroke="#222" stroke-width="0.12">19 mo</text>
<text x="466.00" y="561.55" font-size="6.4" fill="#222" text-anchor="middle" stroke="#222" stroke-width="0.12">2.21 (1.18&#8211;4.12)</text>
<text x="516.30" y="561.55" font-size="6.4" fill="#222" text-anchor="end" stroke="#222" stroke-width="0.12">0.012</text>
<line x1="355.40" y1="566.80" x2="363.60" y2="566.80" stroke="#2222dd" stroke-width="1.1"/>
<text x="366.00" y="569.00" font-size="6.4" fill="#2222dd" text-anchor="start" stroke="#2222dd" stroke-width="0.12"><tspan font-style="italic">TP53</tspan>-m, LH:</text>
<text x="422.60" y="569.00" font-size="6.4" fill="#222" text-anchor="middle" stroke="#222" stroke-width="0.12">11 mo</text>
<text x="466.00" y="569.00" font-size="6.4" fill="#222" text-anchor="middle" stroke="#222" stroke-width="0.12">3.41 (1.75&#8211;6.64)</text>
<text x="516.30" y="569.00" font-size="6.4" fill="#222" text-anchor="end" stroke="#222" stroke-width="0.12">&lt;0.001</text>
<line x1="355.40" y1="574.25" x2="363.60" y2="574.25" stroke="#3ba3d2" stroke-width="1.1"/>
<text x="366.00" y="576.45" font-size="6.4" fill="#3ba3d2" text-anchor="start" stroke="#3ba3d2" stroke-width="0.12"><tspan font-style="italic">TP53</tspan>-m, not LH:</text>
<text x="422.60" y="576.45" font-size="6.4" fill="#222" text-anchor="middle" stroke="#222" stroke-width="0.12">11 mo</text>
<text x="466.00" y="576.45" font-size="6.4" fill="#222" text-anchor="middle" stroke="#222" stroke-width="0.12">2.67 (1.37&#8211;5.17)</text>
<text x="516.30" y="576.45" font-size="6.4" fill="#222" text-anchor="end" stroke="#222" stroke-width="0.12">0.003</text>
<text x="256.60" y="657.90" font-size="7.55" fill="#111" text-anchor="start" stroke="#111" stroke-width="0.12">Number at risk</text>
<text x="256.60" y="667.30" font-size="7.4" fill="#2f9a35" text-anchor="start" stroke="#2f9a35" stroke-width="0.12">No MyM/<tspan font-style="italic">TP53</tspan>:</text>
<text x="318.60" y="667.30" font-size="7.4" fill="#222" text-anchor="middle" stroke="#222" stroke-width="0.12">109</text>
<text x="342.80" y="667.30" font-size="7.4" fill="#222" text-anchor="middle" stroke="#222" stroke-width="0.12">52</text>
<text x="367.00" y="667.30" font-size="7.4" fill="#222" text-anchor="middle" stroke="#222" stroke-width="0.12">15</text>
<text x="391.20" y="667.30" font-size="7.4" fill="#222" text-anchor="middle" stroke="#222" stroke-width="0.12">7</text>
<text x="415.40" y="667.30" font-size="7.4" fill="#222" text-anchor="middle" stroke="#222" stroke-width="0.12">1</text>
<text x="439.60" y="667.30" font-size="7.4" fill="#222" text-anchor="middle" stroke="#222" stroke-width="0.12">0</text>
<text x="463.80" y="667.30" font-size="7.4" fill="#222" text-anchor="middle" stroke="#222" stroke-width="0.12">0</text>
<text x="256.60" y="676.35" font-size="7.4" fill="#e8202a" text-anchor="start" stroke="#e8202a" stroke-width="0.12">MyM:</text>
<text x="318.60" y="676.35" font-size="7.4" fill="#222" text-anchor="middle" stroke="#222" stroke-width="0.12">21</text>
<text x="342.80" y="676.35" font-size="7.4" fill="#222" text-anchor="middle" stroke="#222" stroke-width="0.12">3</text>
<text x="367.00" y="676.35" font-size="7.4" fill="#222" text-anchor="middle" stroke="#222" stroke-width="0.12">1</text>
<text x="391.20" y="676.35" font-size="7.4" fill="#222" text-anchor="middle" stroke="#222" stroke-width="0.12">0</text>
<text x="415.40" y="676.35" font-size="7.4" fill="#222" text-anchor="middle" stroke="#222" stroke-width="0.12">0</text>
<text x="439.60" y="676.35" font-size="7.4" fill="#222" text-anchor="middle" stroke="#222" stroke-width="0.12">0</text>
<text x="463.80" y="676.35" font-size="7.4" fill="#222" text-anchor="middle" stroke="#222" stroke-width="0.12">0</text>
<text x="256.60" y="685.40" font-size="7.4" fill="#2222dd" text-anchor="start" stroke="#2222dd" stroke-width="0.12"><tspan font-style="italic">TP53</tspan>-m, LH:</text>
<text x="318.60" y="685.40" font-size="7.4" fill="#222" text-anchor="middle" stroke="#222" stroke-width="0.12">13</text>
<text x="342.80" y="685.40" font-size="7.4" fill="#222" text-anchor="middle" stroke="#222" stroke-width="0.12">2</text>
<text x="367.00" y="685.40" font-size="7.4" fill="#222" text-anchor="middle" stroke="#222" stroke-width="0.12">1</text>
<text x="391.20" y="685.40" font-size="7.4" fill="#222" text-anchor="middle" stroke="#222" stroke-width="0.12">0</text>
<text x="415.40" y="685.40" font-size="7.4" fill="#222" text-anchor="middle" stroke="#222" stroke-width="0.12">0</text>
<text x="439.60" y="685.40" font-size="7.4" fill="#222" text-anchor="middle" stroke="#222" stroke-width="0.12">0</text>
<text x="463.80" y="685.40" font-size="7.4" fill="#222" text-anchor="middle" stroke="#222" stroke-width="0.12">0</text>
<text x="256.60" y="694.45" font-size="7.4" fill="#3ba3d2" text-anchor="start" stroke="#3ba3d2" stroke-width="0.12"><tspan font-style="italic">TP53</tspan>-m, not LH:</text>
<text x="318.60" y="694.45" font-size="7.4" fill="#222" text-anchor="middle" stroke="#222" stroke-width="0.12">15</text>
<text x="342.80" y="694.45" font-size="7.4" fill="#222" text-anchor="middle" stroke="#222" stroke-width="0.12">2</text>
<text x="367.00" y="694.45" font-size="7.4" fill="#222" text-anchor="middle" stroke="#222" stroke-width="0.12">1</text>
<text x="391.20" y="694.45" font-size="7.4" fill="#222" text-anchor="middle" stroke="#222" stroke-width="0.12">0</text>
<text x="415.40" y="694.45" font-size="7.4" fill="#222" text-anchor="middle" stroke="#222" stroke-width="0.12">0</text>
<text x="439.60" y="694.45" font-size="7.4" fill="#222" text-anchor="middle" stroke="#222" stroke-width="0.12">0</text>
<text x="463.80" y="694.45" font-size="7.4" fill="#222" text-anchor="middle" stroke="#222" stroke-width="0.12">0</text>
</svg></body></html>
